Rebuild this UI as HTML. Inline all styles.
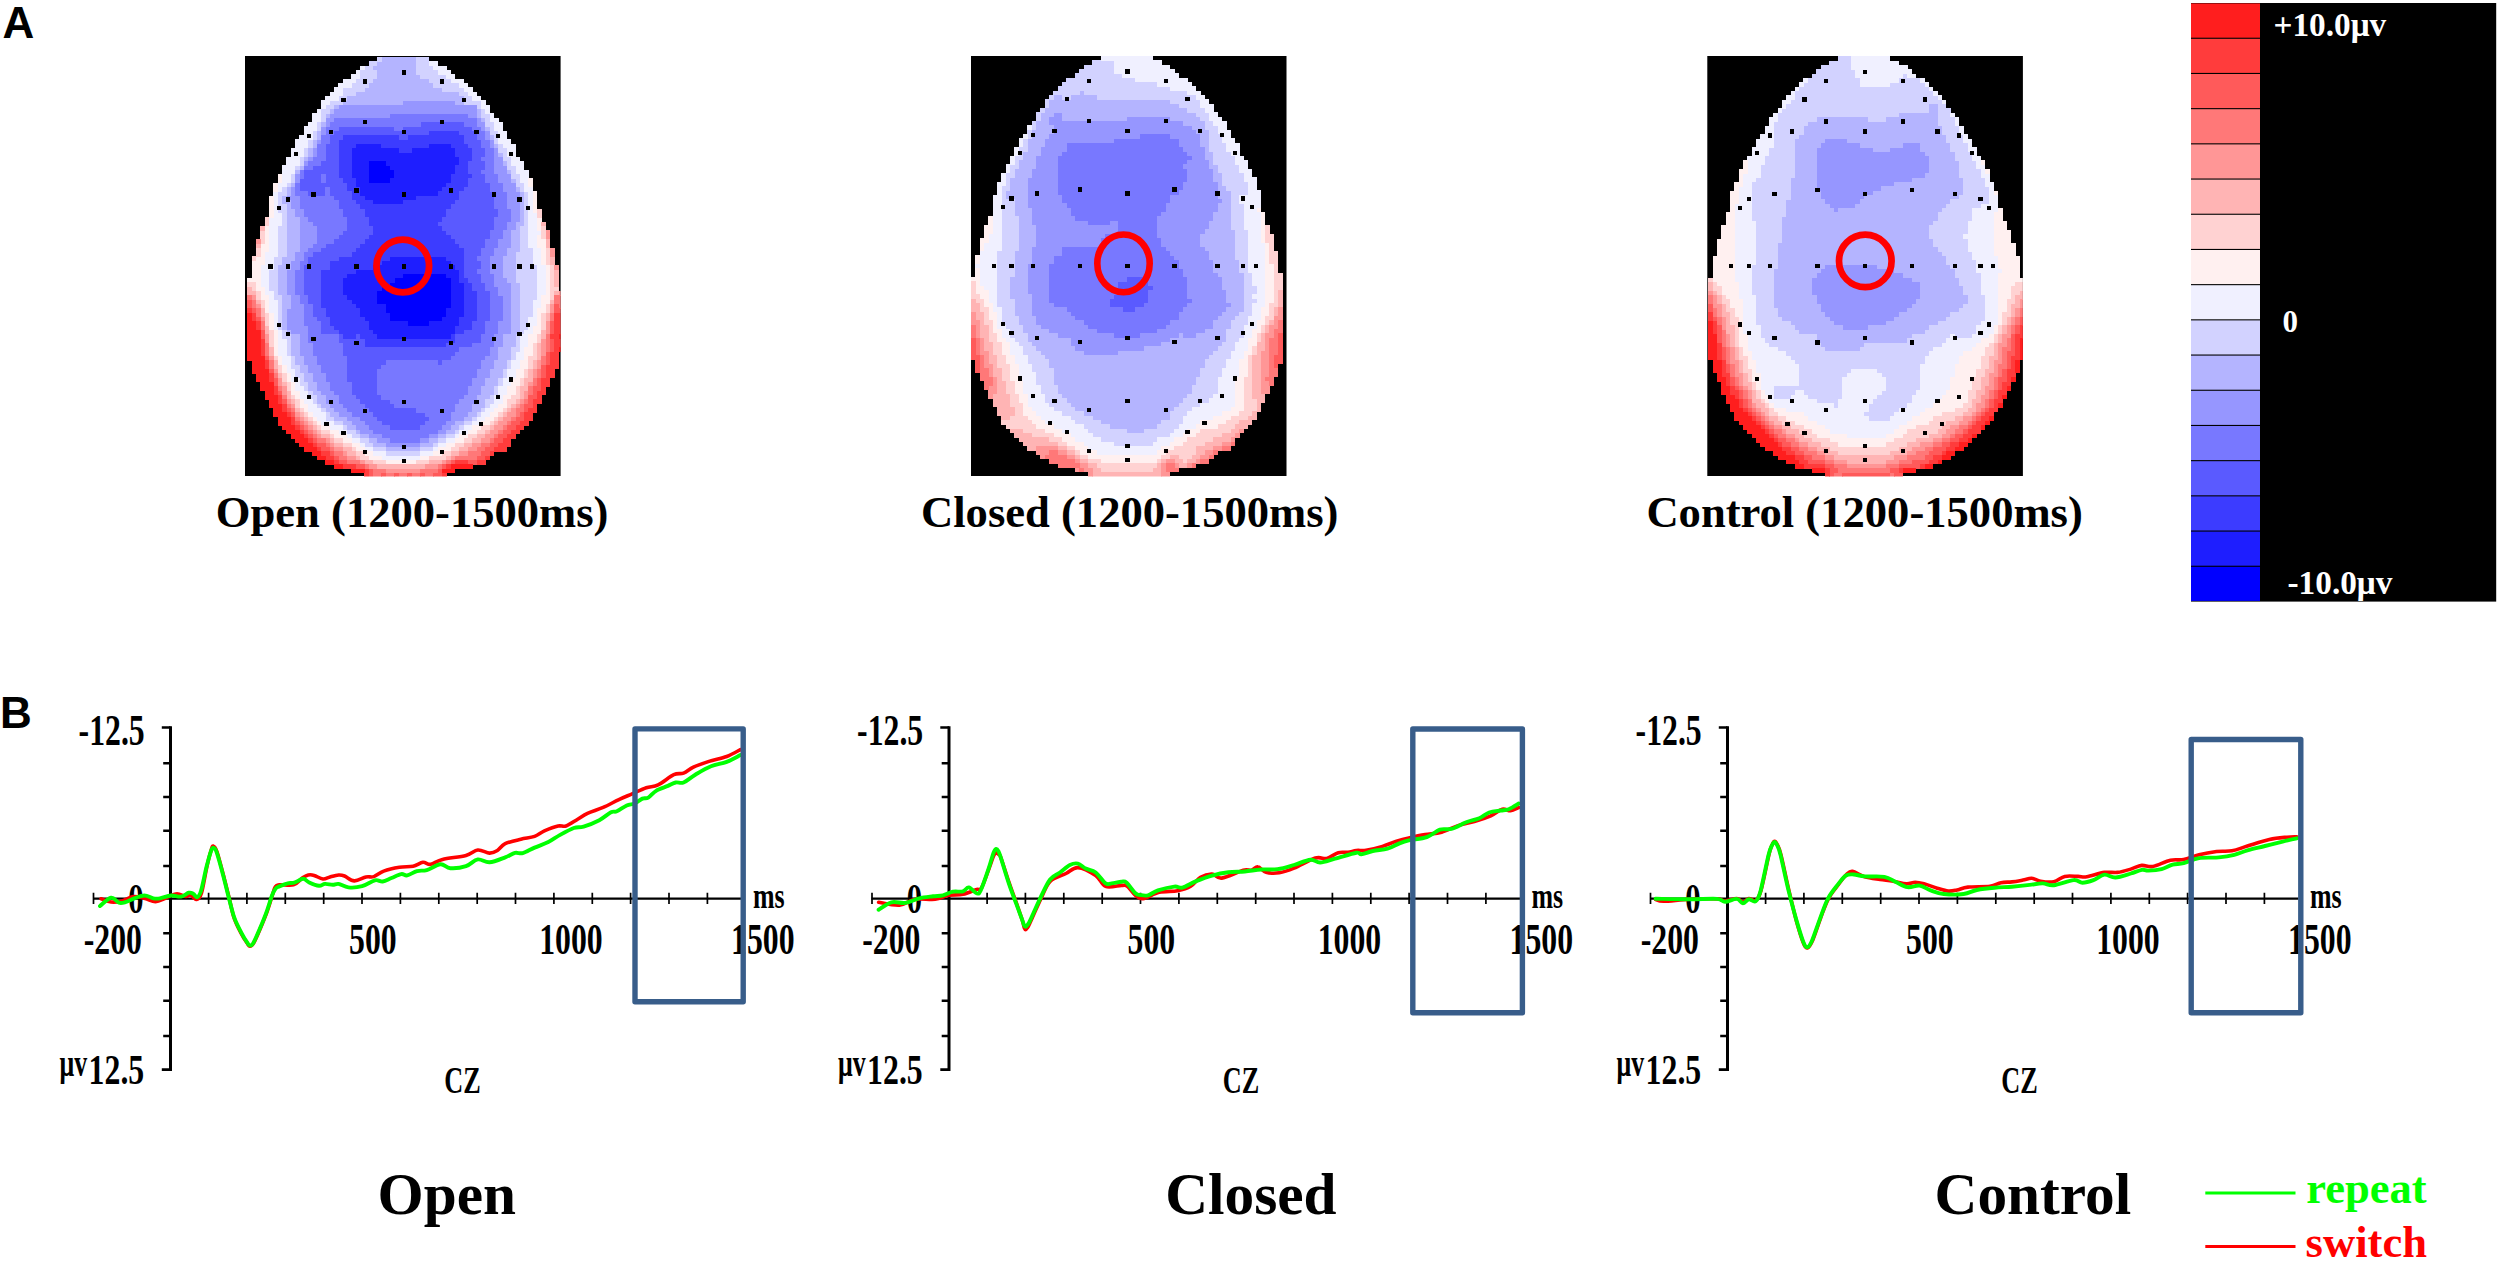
<!DOCTYPE html>
<html lang="en"><head><meta charset="utf-8"><title>Figure</title>
<style>html,body{margin:0;padding:0;background:#fff}svg{display:block}.s{font-family:"Liberation Serif", serif;font-weight:bold}.a{font-family:"Liberation Sans", sans-serif;font-weight:bold}</style></head><body>
<svg width="2500" height="1261" viewBox="0 0 2500 1261">
<rect width="2500" height="1261" fill="#fff"/>
<text class="a" x="2.6" y="38.4" font-size="44">A</text>
<text class="a" x="0" y="728.3" font-size="44">B</text>
<clipPath id="mc0"><rect width="315.6" height="420.6"/></clipPath>
<g transform="translate(245.0,55.8)" shape-rendering="crispEdges" clip-path="url(#mc0)">
<rect width="315.6" height="420.6" fill="#000"/>
<path fill="#0000ff" d="M123.5 105.1H141.1V109.7H123.5zM123.5 109.4H145.4V114.1H123.5zM123.5 113.8H149.7V118.4H123.5zM123.5 118.1H149.7V122.7H123.5zM123.5 122.4H145.4V127.1H123.5zM158.1 217.8H201.6V222.5H158.1zM149.4 222.2H205.9V226.8H149.4zM145.1 226.5H205.9V231.1H145.1zM136.4 230.8H205.9V235.5H136.4zM132.1 235.2H205.9V239.8H132.1zM132.1 239.5H205.9V244.2H132.1zM132.1 243.9H205.9V248.5H132.1zM140.8 248.2H205.9V252.8H140.8zM140.8 252.5H201.6V257.2H140.8zM145.1 256.9H201.6V261.5H145.1zM145.1 261.2H197.3V265.8H145.1zM162.4 265.5H184.3V270.2H162.4z"/>
<path fill="#1e1eff" d="M110.5 87.8H136.7V92.4H110.5zM184.0 87.8H205.9V92.4H184.0zM106.2 92.1H154.0V96.7H106.2zM166.7 92.1H210.2V96.7H166.7zM106.2 96.4H210.2V101.1H106.2zM106.2 100.8H214.6V105.4H106.2zM106.2 105.1H123.8V109.7H106.2zM140.8 105.1H214.6V109.7H140.8zM106.2 109.4H123.8V114.1H106.2zM145.1 109.4H210.2V114.1H145.1zM106.2 113.8H123.8V118.4H106.2zM149.4 113.8H210.2V118.4H149.4zM106.2 118.1H123.8V122.7H106.2zM149.4 118.1H205.9V122.7H149.4zM110.5 122.4H123.8V127.1H110.5zM145.1 122.4H205.9V127.1H145.1zM110.5 126.8H201.6V131.4H110.5zM114.8 131.1H197.3V135.8H114.8zM114.8 135.5H192.9V140.1H114.8zM119.2 139.8H171.3V144.4H119.2zM127.8 144.1H158.4V148.8H127.8zM145.1 200.5H201.6V205.1H145.1zM136.4 204.8H205.9V209.5H136.4zM127.8 209.2H210.2V213.8H127.8zM110.5 213.5H214.6V218.1H110.5zM101.9 217.8H158.4V222.5H101.9zM201.3 217.8H214.6V222.5H201.3zM97.5 222.2H149.7V226.8H97.5zM205.6 222.2H214.6V226.8H205.6zM97.5 226.5H145.4V231.1H97.5zM205.6 226.5H218.9V231.1H205.6zM97.5 230.8H136.7V235.5H97.5zM205.6 230.8H218.9V235.5H205.6zM97.5 235.2H132.4V239.8H97.5zM205.6 235.2H218.9V239.8H205.6zM101.9 239.5H132.4V244.2H101.9zM205.6 239.5H218.9V244.2H205.6zM106.2 243.9H132.4V248.5H106.2zM205.6 243.9H218.9V248.5H205.6zM110.5 248.2H141.1V252.8H110.5zM205.6 248.2H218.9V252.8H205.6zM114.8 252.5H141.1V257.2H114.8zM201.3 252.5H218.9V257.2H201.3zM114.8 256.9H145.4V261.5H114.8zM201.3 256.9H218.9V261.5H201.3zM119.2 261.2H145.4V265.8H119.2zM197.0 261.2H214.6V265.8H197.0zM123.5 265.5H162.7V270.2H123.5zM184.0 265.5H214.6V270.2H184.0zM123.5 269.9H210.2V274.5H123.5zM127.8 274.2H210.2V278.8H127.8zM132.1 278.5H205.9V283.2H132.1z"/>
<path fill="#3c3cff" d="M184.0 74.7H214.6V79.4H184.0zM97.5 79.1H154.0V83.7H97.5zM162.4 79.1H218.9V83.7H162.4zM93.2 83.4H218.9V88.1H93.2zM93.2 87.8H110.8V92.4H93.2zM136.4 87.8H184.3V92.4H136.4zM205.6 87.8H223.2V92.4H205.6zM93.2 92.1H106.5V96.7H93.2zM153.7 92.1H167.0V96.7H153.7zM209.9 92.1H227.5V96.7H209.9zM93.2 96.4H106.5V101.1H93.2zM209.9 96.4H227.5V101.1H209.9zM93.2 100.8H106.5V105.4H93.2zM214.3 100.8H227.5V105.4H214.3zM93.2 105.1H106.5V109.7H93.2zM214.3 105.1H223.2V109.7H214.3zM93.2 109.4H106.5V114.1H93.2zM209.9 109.4H223.2V114.1H209.9zM93.2 113.8H106.5V118.4H93.2zM209.9 113.8H223.2V118.4H209.9zM93.2 118.1H106.5V122.7H93.2zM205.6 118.1H227.5V122.7H205.6zM97.5 122.4H110.8V127.1H97.5zM205.6 122.4H223.2V127.1H205.6zM101.9 126.8H110.8V131.4H101.9zM201.3 126.8H223.2V131.4H201.3zM101.9 131.1H115.1V135.8H101.9zM197.0 131.1H218.9V135.8H197.0zM106.2 135.5H115.1V140.1H106.2zM192.6 135.5H214.6V140.1H192.6zM106.2 139.8H119.5V144.4H106.2zM171.0 139.8H214.6V144.4H171.0zM110.5 144.1H128.1V148.8H110.5zM158.1 144.1H210.2V148.8H158.1zM114.8 148.5H205.9V153.1H114.8zM119.2 152.8H201.6V157.4H119.2zM119.2 157.1H201.6V161.8H119.2zM123.5 161.5H197.3V166.1H123.5zM123.5 165.8H192.9V170.4H123.5zM127.8 170.1H197.3V174.8H127.8zM127.8 174.5H201.6V179.1H127.8zM123.5 178.8H205.9V183.5H123.5zM119.2 183.2H210.2V187.8H119.2zM114.8 187.5H214.6V192.1H114.8zM110.5 191.8H218.9V196.5H110.5zM106.2 196.2H218.9V200.8H106.2zM93.2 200.5H145.4V205.1H93.2zM201.3 200.5H218.9V205.1H201.3zM84.6 204.8H136.7V209.5H84.6zM205.6 204.8H218.9V209.5H205.6zM84.6 209.2H128.1V213.8H84.6zM209.9 209.2H218.9V213.8H209.9zM75.9 213.5H110.8V218.1H75.9zM214.3 213.5H218.9V218.1H214.3zM75.9 217.8H102.2V222.5H75.9zM214.3 217.8H218.9V222.5H214.3zM75.9 222.2H97.8V226.8H75.9zM214.3 222.2H223.2V226.8H214.3zM75.9 226.5H97.8V231.1H75.9zM218.6 226.5H227.5V231.1H218.6zM75.9 230.8H97.8V235.5H75.9zM218.6 230.8H227.5V235.5H218.6zM75.9 235.2H97.8V239.8H75.9zM218.6 235.2H231.9V239.8H218.6zM75.9 239.5H102.2V244.2H75.9zM218.6 239.5H231.9V244.2H218.6zM75.9 243.9H106.5V248.5H75.9zM218.6 243.9H231.9V248.5H218.6zM75.9 248.2H110.8V252.8H75.9zM218.6 248.2H231.9V252.8H218.6zM80.2 252.5H115.1V257.2H80.2zM218.6 252.5H231.9V257.2H218.6zM80.2 256.9H115.1V261.5H80.2zM218.6 256.9H231.9V261.5H218.6zM84.6 261.2H119.5V265.8H84.6zM214.3 261.2H231.9V265.8H214.3zM84.6 265.5H123.8V270.2H84.6zM214.3 265.5H227.5V270.2H214.3zM88.9 269.9H123.8V274.5H88.9zM209.9 269.9H227.5V274.5H209.9zM93.2 274.2H128.1V278.8H93.2zM209.9 274.2H218.9V278.8H209.9zM97.5 278.5H110.8V283.2H97.5zM114.8 278.5H132.4V283.2H114.8zM205.6 278.5H210.2V283.2H205.6zM119.2 282.9H210.2V287.5H119.2zM119.2 287.2H201.6V291.9H119.2z"/>
<path fill="#5a5aff" d="M175.4 66.1H218.9V70.7H175.4zM93.2 70.4H149.7V75.0H93.2zM158.1 70.4H227.5V75.0H158.1zM88.9 74.7H184.3V79.4H88.9zM214.3 74.7H231.9V79.4H214.3zM84.6 79.1H97.8V83.7H84.6zM153.7 79.1H162.7V83.7H153.7zM218.6 79.1H231.9V83.7H218.6zM84.6 83.4H93.5V88.1H84.6zM218.6 83.4H236.2V88.1H218.6zM80.2 87.8H93.5V92.4H80.2zM222.9 87.8H236.2V92.4H222.9zM80.2 92.1H93.5V96.7H80.2zM227.2 92.1H240.5V96.7H227.2zM80.2 96.4H93.5V101.1H80.2zM227.2 96.4H240.5V101.1H227.2zM80.2 100.8H93.5V105.4H80.2zM227.2 100.8H236.2V105.4H227.2zM75.9 105.1H93.5V109.7H75.9zM222.9 105.1H240.5V109.7H222.9zM67.3 109.4H93.5V114.1H67.3zM222.9 109.4H240.5V114.1H222.9zM58.6 113.8H93.5V118.4H58.6zM222.9 113.8H236.2V118.4H222.9zM58.6 118.1H76.2V122.7H58.6zM80.2 118.1H93.5V122.7H80.2zM227.2 118.1H240.5V122.7H227.2zM54.3 122.4H76.2V127.1H54.3zM80.2 122.4H97.8V127.1H80.2zM222.9 122.4H240.5V127.1H222.9zM54.3 126.8H102.2V131.4H54.3zM222.9 126.8H244.8V131.4H222.9zM54.3 131.1H80.5V135.8H54.3zM84.6 131.1H102.2V135.8H84.6zM218.6 131.1H244.8V135.8H218.6zM62.9 135.5H80.5V140.1H62.9zM84.6 135.5H106.5V140.1H84.6zM214.3 135.5H249.2V140.1H214.3zM88.9 139.8H106.5V144.4H88.9zM214.3 139.8H249.2V144.4H214.3zM93.2 144.1H110.8V148.8H93.2zM209.9 144.1H249.2V148.8H209.9zM93.2 148.5H115.1V153.1H93.2zM205.6 148.5H249.2V153.1H205.6zM97.5 152.8H119.5V157.4H97.5zM201.3 152.8H253.5V157.4H201.3zM97.5 157.1H119.5V161.8H97.5zM201.3 157.1H253.5V161.8H201.3zM101.9 161.5H123.8V166.1H101.9zM197.0 161.5H249.2V166.1H197.0zM101.9 165.8H123.8V170.4H101.9zM192.6 165.8H249.2V170.4H192.6zM101.9 170.1H128.1V174.8H101.9zM197.0 170.1H249.2V174.8H197.0zM97.5 174.5H128.1V179.1H97.5zM201.3 174.5H244.8V179.1H201.3zM93.2 178.8H123.8V183.5H93.2zM205.6 178.8H244.8V183.5H205.6zM88.9 183.2H119.5V187.8H88.9zM209.9 183.2H240.5V187.8H209.9zM80.2 187.5H115.1V192.1H80.2zM214.3 187.5H240.5V192.1H214.3zM75.9 191.8H110.8V196.5H75.9zM218.6 191.8H236.2V196.5H218.6zM67.3 196.2H106.5V200.8H67.3zM218.6 196.2H236.2V200.8H218.6zM62.9 200.5H93.5V205.1H62.9zM218.6 200.5H231.9V205.1H218.6zM62.9 204.8H84.9V209.5H62.9zM218.6 204.8H236.2V209.5H218.6zM58.6 209.2H84.9V213.8H58.6zM218.6 209.2H236.2V213.8H218.6zM58.6 213.5H76.2V218.1H58.6zM218.6 213.5H231.9V218.1H218.6zM58.6 217.8H76.2V222.5H58.6zM218.6 217.8H236.2V222.5H218.6zM58.6 222.2H76.2V226.8H58.6zM222.9 222.2H236.2V226.8H222.9zM58.6 226.5H76.2V231.1H58.6zM227.2 226.5H240.5V231.1H227.2zM58.6 230.8H76.2V235.5H58.6zM227.2 230.8H240.5V235.5H227.2zM58.6 235.2H76.2V239.8H58.6zM231.6 235.2H244.8V239.8H231.6zM62.9 239.5H76.2V244.2H62.9zM231.6 239.5H244.8V244.2H231.6zM62.9 243.9H76.2V248.5H62.9zM231.6 243.9H244.8V248.5H231.6zM67.3 248.2H76.2V252.8H67.3zM231.6 248.2H244.8V252.8H231.6zM67.3 252.5H80.5V257.2H67.3zM231.6 252.5H244.8V257.2H231.6zM67.3 256.9H80.5V261.5H67.3zM231.6 256.9H244.8V261.5H231.6zM71.6 261.2H84.9V265.8H71.6zM231.6 261.2H244.8V265.8H231.6zM75.9 265.5H84.9V270.2H75.9zM227.2 265.5H240.5V270.2H227.2zM75.9 269.9H89.2V274.5H75.9zM227.2 269.9H240.5V274.5H227.2zM75.9 274.2H93.5V278.8H75.9zM218.6 274.2H240.5V278.8H218.6zM93.2 278.5H97.8V283.2H93.2zM110.5 278.5H115.1V283.2H110.5zM209.9 278.5H236.2V283.2H209.9zM93.2 282.9H119.5V287.5H93.2zM209.9 282.9H236.2V287.5H209.9zM97.5 287.2H119.5V291.9H97.5zM201.3 287.2H227.5V291.9H201.3zM97.5 291.6H214.6V296.2H97.5zM97.5 295.9H210.2V300.5H97.5zM101.9 300.2H205.9V304.9H101.9zM101.9 304.6H141.1V309.2H101.9zM192.6 304.6H197.3V309.2H192.6zM101.9 308.9H136.7V313.5H101.9zM101.9 313.2H132.4V317.9H101.9zM101.9 317.6H132.4V322.2H101.9zM101.9 321.9H132.4V326.5H101.9zM106.2 326.2H132.4V330.9H106.2zM106.2 330.6H132.4V335.2H106.2zM106.2 334.9H132.4V339.6H106.2zM110.5 339.3H136.7V343.9H110.5zM114.8 343.6H145.4V348.2H114.8zM119.2 347.9H149.7V352.6H119.2zM123.5 352.3H171.3V356.9H123.5zM127.8 356.6H180.0V361.2H127.8zM132.1 360.9H184.3V365.6H132.1zM136.4 365.3H180.0V369.9H136.4zM145.1 369.6H175.7V374.2H145.1z"/>
<path fill="#7878ff" d="M145.1 57.4H223.2V62.0H145.1zM88.9 61.7H231.9V66.4H88.9zM84.6 66.1H175.7V70.7H84.6zM218.6 66.1H231.9V70.7H218.6zM80.2 70.4H93.5V75.0H80.2zM149.4 70.4H158.4V75.0H149.4zM227.2 70.4H236.2V75.0H227.2zM80.2 74.7H89.2V79.4H80.2zM231.6 74.7H240.5V79.4H231.6zM75.9 79.1H84.9V83.7H75.9zM231.6 79.1H240.5V83.7H231.6zM75.9 83.4H84.9V88.1H75.9zM235.9 83.4H244.8V88.1H235.9zM71.6 87.8H80.5V92.4H71.6zM235.9 87.8H244.8V92.4H235.9zM71.6 92.1H80.5V96.7H71.6zM240.2 92.1H249.2V96.7H240.2zM71.6 96.4H80.5V101.1H71.6zM240.2 96.4H249.2V101.1H240.2zM67.3 100.8H80.5V105.4H67.3zM235.9 100.8H249.2V105.4H235.9zM62.9 105.1H76.2V109.7H62.9zM240.2 105.1H249.2V109.7H240.2zM58.6 109.4H67.6V114.1H58.6zM240.2 109.4H249.2V114.1H240.2zM54.3 113.8H58.9V118.4H54.3zM235.9 113.8H249.2V118.4H235.9zM54.3 118.1H58.9V122.7H54.3zM75.9 118.1H80.5V122.7H75.9zM240.2 118.1H253.5V122.7H240.2zM75.9 122.4H80.5V127.1H75.9zM240.2 122.4H253.5V127.1H240.2zM50.0 126.8H54.6V131.4H50.0zM244.5 126.8H257.8V131.4H244.5zM50.0 131.1H54.6V135.8H50.0zM80.2 131.1H84.9V135.8H80.2zM244.5 131.1H257.8V135.8H244.5zM50.0 135.5H63.2V140.1H50.0zM80.2 135.5H84.9V140.1H80.2zM248.9 135.5H262.1V140.1H248.9zM54.3 139.8H89.2V144.4H54.3zM248.9 139.8H262.1V144.4H248.9zM54.3 144.1H93.5V148.8H54.3zM248.9 144.1H262.1V148.8H248.9zM54.3 148.5H93.5V153.1H54.3zM248.9 148.5H262.1V153.1H248.9zM58.6 152.8H97.8V157.4H58.6zM253.2 152.8H266.4V157.4H253.2zM58.6 157.1H97.8V161.8H58.6zM253.2 157.1H266.4V161.8H253.2zM62.9 161.5H102.2V166.1H62.9zM248.9 161.5H266.4V166.1H248.9zM67.3 165.8H102.2V170.4H67.3zM248.9 165.8H262.1V170.4H248.9zM71.6 170.1H102.2V174.8H71.6zM248.9 170.1H262.1V174.8H248.9zM71.6 174.5H97.8V179.1H71.6zM244.5 174.5H257.8V179.1H244.5zM71.6 178.8H93.5V183.5H71.6zM244.5 178.8H257.8V183.5H244.5zM71.6 183.2H89.2V187.8H71.6zM240.2 183.2H253.5V187.8H240.2zM67.3 187.5H80.5V192.1H67.3zM240.2 187.5H253.5V192.1H240.2zM62.9 191.8H76.2V196.5H62.9zM235.9 191.8H249.2V196.5H235.9zM58.6 196.2H67.6V200.8H58.6zM235.9 196.2H249.2V200.8H235.9zM58.6 200.5H63.2V205.1H58.6zM231.6 200.5H244.8V205.1H231.6zM54.3 204.8H63.2V209.5H54.3zM235.9 204.8H244.8V209.5H235.9zM54.3 209.2H58.9V213.8H54.3zM235.9 209.2H244.8V213.8H235.9zM50.0 213.5H58.9V218.1H50.0zM231.6 213.5H244.8V218.1H231.6zM50.0 217.8H58.9V222.5H50.0zM235.9 217.8H249.2V222.5H235.9zM50.0 222.2H58.9V226.8H50.0zM235.9 222.2H249.2V226.8H235.9zM50.0 226.5H58.9V231.1H50.0zM240.2 226.5H249.2V231.1H240.2zM50.0 230.8H58.9V235.5H50.0zM240.2 230.8H253.5V235.5H240.2zM50.0 235.2H58.9V239.8H50.0zM244.5 235.2H253.5V239.8H244.5zM54.3 239.5H63.2V244.2H54.3zM244.5 239.5H257.8V244.2H244.5zM54.3 243.9H63.2V248.5H54.3zM244.5 243.9H257.8V248.5H244.5zM58.6 248.2H67.6V252.8H58.6zM244.5 248.2H257.8V252.8H244.5zM58.6 252.5H67.6V257.2H58.6zM244.5 252.5H257.8V257.2H244.5zM58.6 256.9H67.6V261.5H58.6zM244.5 256.9H257.8V261.5H244.5zM58.6 261.2H71.9V265.8H58.6zM244.5 261.2H257.8V265.8H244.5zM58.6 265.5H76.2V270.2H58.6zM240.2 265.5H253.5V270.2H240.2zM62.9 269.9H76.2V274.5H62.9zM240.2 269.9H253.5V274.5H240.2zM62.9 274.2H76.2V278.8H62.9zM240.2 274.2H253.5V278.8H240.2zM62.9 278.5H93.5V283.2H62.9zM235.9 278.5H249.2V283.2H235.9zM62.9 282.9H93.5V287.5H62.9zM235.9 282.9H249.2V287.5H235.9zM67.3 287.2H97.8V291.9H67.3zM227.2 287.2H249.2V291.9H227.2zM67.3 291.6H97.8V296.2H67.3zM214.3 291.6H244.8V296.2H214.3zM67.3 295.9H97.8V300.5H67.3zM209.9 295.9H244.8V300.5H209.9zM71.6 300.2H102.2V304.9H71.6zM205.6 300.2H240.5V304.9H205.6zM71.6 304.6H102.2V309.2H71.6zM140.8 304.6H192.9V309.2H140.8zM197.0 304.6H236.2V309.2H197.0zM75.9 308.9H102.2V313.5H75.9zM136.4 308.9H236.2V313.5H136.4zM75.9 313.2H102.2V317.9H75.9zM132.1 313.2H231.9V317.9H132.1zM80.2 317.6H102.2V322.2H80.2zM132.1 317.6H231.9V322.2H132.1zM80.2 321.9H102.2V326.5H80.2zM132.1 321.9H227.5V326.5H132.1zM84.6 326.2H106.5V330.9H84.6zM132.1 326.2H227.5V330.9H132.1zM84.6 330.6H106.5V335.2H84.6zM132.1 330.6H223.2V335.2H132.1zM88.9 334.9H106.5V339.6H88.9zM132.1 334.9H223.2V339.6H132.1zM93.2 339.3H110.8V343.9H93.2zM136.4 339.3H218.9V343.9H136.4zM93.2 343.6H115.1V348.2H93.2zM145.1 343.6H214.6V348.2H145.1zM97.5 347.9H119.5V352.6H97.5zM149.4 347.9H210.2V352.6H149.4zM101.9 352.3H123.8V356.9H101.9zM171.0 352.3H210.2V356.9H171.0zM106.2 356.6H128.1V361.2H106.2zM179.7 356.6H205.9V361.2H179.7zM114.8 360.9H132.4V365.6H114.8zM184.0 360.9H205.9V365.6H184.0zM119.2 365.3H136.7V369.9H119.2zM179.7 365.3H201.6V369.9H179.7zM123.5 369.6H145.4V374.2H123.5zM175.4 369.6H197.3V374.2H175.4zM127.8 373.9H192.9V378.6H127.8zM136.4 378.3H184.3V382.9H136.4zM145.1 382.6H175.7V387.2H145.1z"/>
<path fill="#9696ff" d="M158.1 44.4H210.2V49.0H158.1zM93.2 48.7H231.9V53.4H93.2zM88.9 53.1H231.9V57.7H88.9zM84.6 57.4H145.4V62.0H84.6zM222.9 57.4H231.9V62.0H222.9zM80.2 61.7H89.2V66.4H80.2zM231.6 61.7H236.2V66.4H231.6zM80.2 66.1H84.9V70.7H80.2zM231.6 66.1H240.5V70.7H231.6zM75.9 70.4H80.5V75.0H75.9zM235.9 70.4H240.5V75.0H235.9zM75.9 74.7H80.5V79.4H75.9zM240.2 74.7H244.8V79.4H240.2zM240.2 79.1H244.8V83.7H240.2zM71.6 83.4H76.2V88.1H71.6zM244.5 83.4H249.2V88.1H244.5zM244.5 87.8H249.2V92.4H244.5zM67.3 92.1H71.9V96.7H67.3zM248.9 92.1H253.5V96.7H248.9zM67.3 96.4H71.9V101.1H67.3zM248.9 96.4H253.5V101.1H248.9zM62.9 100.8H67.6V105.4H62.9zM248.9 100.8H257.8V105.4H248.9zM58.6 105.1H63.2V109.7H58.6zM248.9 105.1H257.8V109.7H248.9zM248.9 109.4H262.1V114.1H248.9zM248.9 113.8H262.1V118.4H248.9zM50.0 118.1H54.6V122.7H50.0zM253.2 118.1H266.4V122.7H253.2zM50.0 122.4H54.6V127.1H50.0zM253.2 122.4H266.4V127.1H253.2zM257.5 126.8H270.8V131.4H257.5zM45.7 131.1H50.3V135.8H45.7zM257.5 131.1H270.8V135.8H257.5zM45.7 135.5H50.3V140.1H45.7zM261.8 135.5H275.1V140.1H261.8zM41.3 139.8H54.6V144.4H41.3zM261.8 139.8H275.1V144.4H261.8zM45.7 144.1H54.6V148.8H45.7zM261.8 144.1H275.1V148.8H261.8zM45.7 148.5H54.6V153.1H45.7zM261.8 148.5H275.1V153.1H261.8zM50.0 152.8H58.9V157.4H50.0zM266.1 152.8H275.1V157.4H266.1zM50.0 157.1H58.9V161.8H50.0zM266.1 157.1H275.1V161.8H266.1zM54.3 161.5H63.2V166.1H54.3zM266.1 161.5H275.1V166.1H266.1zM54.3 165.8H67.6V170.4H54.3zM261.8 165.8H270.8V170.4H261.8zM54.3 170.1H71.9V174.8H54.3zM261.8 170.1H270.8V174.8H261.8zM54.3 174.5H71.9V179.1H54.3zM257.5 174.5H266.4V179.1H257.5zM54.3 178.8H71.9V183.5H54.3zM257.5 178.8H266.4V183.5H257.5zM54.3 183.2H71.9V187.8H54.3zM253.2 183.2H266.4V187.8H253.2zM54.3 187.5H67.6V192.1H54.3zM253.2 187.5H266.4V192.1H253.2zM54.3 191.8H63.2V196.5H54.3zM248.9 191.8H262.1V196.5H248.9zM50.0 196.2H58.9V200.8H50.0zM248.9 196.2H262.1V200.8H248.9zM50.0 200.5H58.9V205.1H50.0zM244.5 200.5H257.8V205.1H244.5zM45.7 204.8H54.6V209.5H45.7zM244.5 204.8H257.8V209.5H244.5zM45.7 209.2H54.6V213.8H45.7zM244.5 209.2H257.8V213.8H244.5zM41.3 213.5H50.3V218.1H41.3zM244.5 213.5H257.8V218.1H244.5zM41.3 217.8H50.3V222.5H41.3zM248.9 217.8H257.8V222.5H248.9zM41.3 222.2H50.3V226.8H41.3zM248.9 222.2H262.1V226.8H248.9zM41.3 226.5H50.3V231.1H41.3zM248.9 226.5H266.4V231.1H248.9zM41.3 230.8H50.3V235.5H41.3zM253.2 230.8H266.4V235.5H253.2zM41.3 235.2H50.3V239.8H41.3zM253.2 235.2H266.4V239.8H253.2zM45.7 239.5H54.6V244.2H45.7zM257.5 239.5H266.4V244.2H257.5zM45.7 243.9H54.6V248.5H45.7zM257.5 243.9H266.4V248.5H257.5zM45.7 248.2H58.9V252.8H45.7zM257.5 248.2H266.4V252.8H257.5zM41.3 252.5H58.9V257.2H41.3zM257.5 252.5H266.4V257.2H257.5zM41.3 256.9H58.9V261.5H41.3zM257.5 256.9H266.4V261.5H257.5zM41.3 261.2H58.9V265.8H41.3zM257.5 261.2H266.4V265.8H257.5zM41.3 265.5H58.9V270.2H41.3zM253.2 265.5H266.4V270.2H253.2zM41.3 269.9H63.2V274.5H41.3zM253.2 269.9H266.4V274.5H253.2zM45.7 274.2H63.2V278.8H45.7zM253.2 274.2H266.4V278.8H253.2zM54.3 278.5H63.2V283.2H54.3zM248.9 278.5H257.8V283.2H248.9zM54.3 282.9H63.2V287.5H54.3zM248.9 282.9H257.8V287.5H248.9zM54.3 287.2H67.6V291.9H54.3zM248.9 287.2H257.8V291.9H248.9zM54.3 291.6H67.6V296.2H54.3zM244.5 291.6H253.5V296.2H244.5zM54.3 295.9H67.6V300.5H54.3zM244.5 295.9H253.5V300.5H244.5zM58.6 300.2H71.9V304.9H58.6zM240.2 300.2H253.5V304.9H240.2zM58.6 304.6H71.9V309.2H58.6zM235.9 304.6H249.2V309.2H235.9zM62.9 308.9H76.2V313.5H62.9zM235.9 308.9H249.2V313.5H235.9zM62.9 313.2H76.2V317.9H62.9zM231.6 313.2H244.8V317.9H231.6zM67.3 317.6H80.5V322.2H67.3zM231.6 317.6H244.8V322.2H231.6zM67.3 321.9H80.5V326.5H67.3zM227.2 321.9H240.5V326.5H227.2zM71.6 326.2H84.9V330.9H71.6zM227.2 326.2H240.5V330.9H227.2zM71.6 330.6H84.9V335.2H71.6zM222.9 330.6H236.2V335.2H222.9zM75.9 334.9H89.2V339.6H75.9zM222.9 334.9H236.2V339.6H222.9zM80.2 339.3H93.5V343.9H80.2zM218.6 339.3H231.9V343.9H218.6zM80.2 343.6H93.5V348.2H80.2zM214.3 343.6H231.9V348.2H214.3zM84.6 347.9H97.8V352.6H84.6zM209.9 347.9H227.5V352.6H209.9zM88.9 352.3H102.2V356.9H88.9zM209.9 352.3H227.5V356.9H209.9zM93.2 356.6H106.5V361.2H93.2zM205.6 356.6H223.2V361.2H205.6zM101.9 360.9H115.1V365.6H101.9zM205.6 360.9H218.9V365.6H205.6zM106.2 365.3H119.5V369.9H106.2zM201.3 365.3H210.2V369.9H201.3zM110.5 369.6H123.8V374.2H110.5zM197.0 369.6H205.9V374.2H197.0zM114.8 373.9H128.1V378.6H114.8zM192.6 373.9H201.6V378.6H192.6zM123.5 378.3H136.7V382.9H123.5zM184.0 378.3H192.9V382.9H184.0zM132.1 382.6H145.4V387.2H132.1zM175.4 382.6H184.3V387.2H175.4zM140.8 386.9H175.7V391.6H140.8z"/>
<path fill="#b4b4ff" d="M136.4 1.0H171.3V5.7H136.4zM132.1 5.4H171.3V10.0H132.1zM127.8 9.7H171.3V14.3H127.8zM132.1 14.0H171.3V18.7H132.1zM132.1 18.4H175.7V23.0H132.1zM127.8 22.7H184.3V27.4H127.8zM123.5 27.1H188.6V31.7H123.5zM119.2 31.4H197.3V36.0H119.2zM110.5 35.7H214.6V40.4H110.5zM101.9 40.1H218.9V44.7H101.9zM97.5 44.4H158.4V49.0H97.5zM209.9 44.4H218.9V49.0H209.9zM88.9 48.7H93.5V53.4H88.9zM84.6 53.1H89.2V57.7H84.6zM231.6 53.1H236.2V57.7H231.6zM80.2 57.4H84.9V62.0H80.2zM231.6 57.4H236.2V62.0H231.6zM235.9 61.7H240.5V66.4H235.9zM75.9 66.1H80.5V70.7H75.9zM240.2 70.4H244.8V75.0H240.2zM71.6 74.7H76.2V79.4H71.6zM71.6 79.1H76.2V83.7H71.6zM244.5 79.1H249.2V83.7H244.5zM67.3 83.4H71.9V88.1H67.3zM67.3 87.8H71.9V92.4H67.3zM248.9 87.8H253.5V92.4H248.9zM62.9 92.1H67.6V96.7H62.9zM62.9 96.4H67.6V101.1H62.9zM253.2 96.4H257.8V101.1H253.2zM58.6 100.8H63.2V105.4H58.6zM257.5 105.1H262.1V109.7H257.5zM54.3 109.4H58.9V114.1H54.3zM50.0 113.8H54.6V118.4H50.0zM261.8 113.8H266.4V118.4H261.8zM266.1 122.4H270.8V127.1H266.1zM45.7 126.8H50.3V131.4H45.7zM41.3 131.1H46.0V135.8H41.3zM270.5 131.1H275.1V135.8H270.5zM41.3 135.5H46.0V140.1H41.3zM274.8 135.5H279.4V140.1H274.8zM37.0 139.8H41.6V144.4H37.0zM274.8 139.8H279.4V144.4H274.8zM37.0 144.1H46.0V148.8H37.0zM274.8 144.1H279.4V148.8H274.8zM41.3 148.5H46.0V153.1H41.3zM274.8 148.5H279.4V153.1H274.8zM41.3 152.8H50.3V157.4H41.3zM274.8 152.8H279.4V157.4H274.8zM41.3 157.1H50.3V161.8H41.3zM274.8 157.1H279.4V161.8H274.8zM41.3 161.5H54.6V166.1H41.3zM274.8 161.5H279.4V166.1H274.8zM41.3 165.8H54.6V170.4H41.3zM270.5 165.8H279.4V170.4H270.5zM41.3 170.1H54.6V174.8H41.3zM270.5 170.1H275.1V174.8H270.5zM41.3 174.5H54.6V179.1H41.3zM266.1 174.5H275.1V179.1H266.1zM41.3 178.8H54.6V183.5H41.3zM266.1 178.8H275.1V183.5H266.1zM41.3 183.2H54.6V187.8H41.3zM266.1 183.2H275.1V187.8H266.1zM41.3 187.5H54.6V192.1H41.3zM266.1 187.5H275.1V192.1H266.1zM41.3 191.8H54.6V196.5H41.3zM261.8 191.8H275.1V196.5H261.8zM41.3 196.2H50.3V200.8H41.3zM261.8 196.2H270.8V200.8H261.8zM37.0 200.5H50.3V205.1H37.0zM257.5 200.5H270.8V205.1H257.5zM37.0 204.8H46.0V209.5H37.0zM257.5 204.8H270.8V209.5H257.5zM32.7 209.2H46.0V213.8H32.7zM257.5 209.2H270.8V213.8H257.5zM32.7 213.5H41.6V218.1H32.7zM257.5 213.5H270.8V218.1H257.5zM32.7 217.8H41.6V222.5H32.7zM257.5 217.8H270.8V222.5H257.5zM32.7 222.2H41.6V226.8H32.7zM261.8 222.2H270.8V226.8H261.8zM32.7 226.5H41.6V231.1H32.7zM266.1 226.5H275.1V231.1H266.1zM32.7 230.8H41.6V235.5H32.7zM266.1 230.8H275.1V235.5H266.1zM32.7 235.2H41.6V239.8H32.7zM266.1 235.2H275.1V239.8H266.1zM37.0 239.5H46.0V244.2H37.0zM266.1 239.5H275.1V244.2H266.1zM37.0 243.9H46.0V248.5H37.0zM266.1 243.9H275.1V248.5H266.1zM37.0 248.2H46.0V252.8H37.0zM266.1 248.2H275.1V252.8H266.1zM37.0 252.5H41.6V257.2H37.0zM266.1 252.5H275.1V257.2H266.1zM37.0 256.9H41.6V261.5H37.0zM266.1 256.9H275.1V261.5H266.1zM37.0 261.2H41.6V265.8H37.0zM266.1 261.2H275.1V265.8H266.1zM37.0 265.5H41.6V270.2H37.0zM266.1 265.5H275.1V270.2H266.1zM37.0 269.9H41.6V274.5H37.0zM266.1 269.9H275.1V274.5H266.1zM41.3 274.2H46.0V278.8H41.3zM266.1 274.2H275.1V278.8H266.1zM45.7 278.5H54.6V283.2H45.7zM257.5 278.5H270.8V283.2H257.5zM45.7 282.9H54.6V287.5H45.7zM257.5 282.9H270.8V287.5H257.5zM45.7 287.2H54.6V291.9H45.7zM257.5 287.2H270.8V291.9H257.5zM45.7 291.6H54.6V296.2H45.7zM253.2 291.6H266.4V296.2H253.2zM45.7 295.9H54.6V300.5H45.7zM253.2 295.9H266.4V300.5H253.2zM50.0 300.2H58.9V304.9H50.0zM253.2 300.2H266.4V304.9H253.2zM50.0 304.6H58.9V309.2H50.0zM248.9 304.6H262.1V309.2H248.9zM54.3 308.9H63.2V313.5H54.3zM248.9 308.9H262.1V313.5H248.9zM54.3 313.2H63.2V317.9H54.3zM244.5 313.2H257.8V317.9H244.5zM58.6 317.6H67.6V322.2H58.6zM244.5 317.6H257.8V322.2H244.5zM58.6 321.9H67.6V326.5H58.6zM240.2 321.9H253.5V326.5H240.2zM62.9 326.2H71.9V330.9H62.9zM240.2 326.2H253.5V330.9H240.2zM62.9 330.6H71.9V335.2H62.9zM235.9 330.6H249.2V335.2H235.9zM67.3 334.9H76.2V339.6H67.3zM235.9 334.9H249.2V339.6H235.9zM71.6 339.3H80.5V343.9H71.6zM231.6 339.3H244.8V343.9H231.6zM71.6 343.6H80.5V348.2H71.6zM231.6 343.6H240.5V348.2H231.6zM75.9 347.9H84.9V352.6H75.9zM227.2 347.9H240.5V352.6H227.2zM80.2 352.3H89.2V356.9H80.2zM227.2 352.3H236.2V356.9H227.2zM84.6 356.6H93.5V361.2H84.6zM222.9 356.6H231.9V361.2H222.9zM88.9 360.9H102.2V365.6H88.9zM218.6 360.9H227.5V365.6H218.6zM97.5 365.3H106.5V369.9H97.5zM209.9 365.3H218.9V369.9H209.9zM101.9 369.6H110.8V374.2H101.9zM205.6 369.6H214.6V374.2H205.6zM110.5 373.9H115.1V378.6H110.5zM201.3 373.9H210.2V378.6H201.3zM114.8 378.3H123.8V382.9H114.8zM192.6 378.3H201.6V382.9H192.6zM123.5 382.6H132.4V387.2H123.5zM184.0 382.6H192.9V387.2H184.0zM127.8 386.9H141.1V391.6H127.8zM175.4 386.9H188.6V391.6H175.4zM140.8 391.3H175.7V395.9H140.8z"/>
<path fill="#d2d2ff" d="M132.1 1.0H136.7V5.7H132.1zM171.0 1.0H184.3V5.7H171.0zM123.5 5.4H132.4V10.0H123.5zM171.0 5.4H184.3V10.0H171.0zM119.2 9.7H128.1V14.3H119.2zM171.0 9.7H188.6V14.3H171.0zM114.8 14.0H132.4V18.7H114.8zM171.0 14.0H192.9V18.7H171.0zM114.8 18.4H132.4V23.0H114.8zM175.4 18.4H201.6V23.0H175.4zM110.5 22.7H128.1V27.4H110.5zM184.0 22.7H205.9V27.4H184.0zM106.2 27.1H123.8V31.7H106.2zM188.3 27.1H214.6V31.7H188.3zM97.5 31.4H119.5V36.0H97.5zM197.0 31.4H218.9V36.0H197.0zM97.5 35.7H110.8V40.4H97.5zM214.3 35.7H223.2V40.4H214.3zM93.2 40.1H102.2V44.7H93.2zM218.6 40.1H227.5V44.7H218.6zM84.6 44.4H97.8V49.0H84.6zM218.6 44.4H236.2V49.0H218.6zM80.2 48.7H89.2V53.4H80.2zM231.6 48.7H236.2V53.4H231.6zM75.9 53.1H84.9V57.7H75.9zM235.9 53.1H240.5V57.7H235.9zM75.9 57.4H80.5V62.0H75.9zM235.9 57.4H244.8V62.0H235.9zM75.9 61.7H80.5V66.4H75.9zM240.2 61.7H244.8V66.4H240.2zM71.6 66.1H76.2V70.7H71.6zM240.2 66.1H249.2V70.7H240.2zM71.6 70.4H76.2V75.0H71.6zM244.5 70.4H249.2V75.0H244.5zM67.3 74.7H71.9V79.4H67.3zM244.5 74.7H253.5V79.4H244.5zM67.3 79.1H71.9V83.7H67.3zM248.9 79.1H253.5V83.7H248.9zM62.9 83.4H67.6V88.1H62.9zM248.9 83.4H253.5V88.1H248.9zM62.9 87.8H67.6V92.4H62.9zM253.2 87.8H257.8V92.4H253.2zM58.6 92.1H63.2V96.7H58.6zM253.2 92.1H262.1V96.7H253.2zM58.6 96.4H63.2V101.1H58.6zM257.5 96.4H262.1V101.1H257.5zM54.3 100.8H58.9V105.4H54.3zM257.5 100.8H266.4V105.4H257.5zM54.3 105.1H58.9V109.7H54.3zM261.8 105.1H266.4V109.7H261.8zM50.0 109.4H54.6V114.1H50.0zM261.8 109.4H270.8V114.1H261.8zM266.1 113.8H270.8V118.4H266.1zM45.7 118.1H50.3V122.7H45.7zM266.1 118.1H275.1V122.7H266.1zM45.7 122.4H50.3V127.1H45.7zM270.5 122.4H275.1V127.1H270.5zM41.3 126.8H46.0V131.4H41.3zM270.5 126.8H279.4V131.4H270.5zM37.0 131.1H41.6V135.8H37.0zM274.8 131.1H279.4V135.8H274.8zM32.7 135.5H41.6V140.1H32.7zM279.1 135.5H283.7V140.1H279.1zM32.7 139.8H37.3V144.4H32.7zM279.1 139.8H283.7V144.4H279.1zM32.7 144.1H37.3V148.8H32.7zM279.1 144.1H283.7V148.8H279.1zM32.7 148.5H41.6V153.1H32.7zM279.1 148.5H283.7V153.1H279.1zM32.7 152.8H41.6V157.4H32.7zM279.1 152.8H283.7V157.4H279.1zM37.0 157.1H41.6V161.8H37.0zM279.1 157.1H283.7V161.8H279.1zM37.0 161.5H41.6V166.1H37.0zM279.1 161.5H283.7V166.1H279.1zM37.0 165.8H41.6V170.4H37.0zM279.1 165.8H283.7V170.4H279.1zM32.7 170.1H41.6V174.8H32.7zM274.8 170.1H283.7V174.8H274.8zM32.7 174.5H41.6V179.1H32.7zM274.8 174.5H283.7V179.1H274.8zM32.7 178.8H41.6V183.5H32.7zM274.8 178.8H283.7V183.5H274.8zM32.7 183.2H41.6V187.8H32.7zM274.8 183.2H283.7V187.8H274.8zM32.7 187.5H41.6V192.1H32.7zM274.8 187.5H283.7V192.1H274.8zM32.7 191.8H41.6V196.5H32.7zM274.8 191.8H288.1V196.5H274.8zM32.7 196.2H41.6V200.8H32.7zM270.5 196.2H288.1V200.8H270.5zM28.4 200.5H37.3V205.1H28.4zM270.5 200.5H288.1V205.1H270.5zM28.4 204.8H37.3V209.5H28.4zM270.5 204.8H288.1V209.5H270.5zM28.4 209.2H33.0V213.8H28.4zM270.5 209.2H292.4V213.8H270.5zM24.0 213.5H33.0V218.1H24.0zM270.5 213.5H292.4V218.1H270.5zM24.0 217.8H33.0V222.5H24.0zM270.5 217.8H292.4V222.5H270.5zM24.0 222.2H33.0V226.8H24.0zM270.5 222.2H292.4V226.8H270.5zM24.0 226.5H33.0V231.1H24.0zM274.8 226.5H292.4V231.1H274.8zM24.0 230.8H33.0V235.5H24.0zM274.8 230.8H292.4V235.5H274.8zM28.4 235.2H33.0V239.8H28.4zM274.8 235.2H292.4V239.8H274.8zM28.4 239.5H37.3V244.2H28.4zM274.8 239.5H292.4V244.2H274.8zM32.7 243.9H37.3V248.5H32.7zM274.8 243.9H288.1V248.5H274.8zM32.7 248.2H37.3V252.8H32.7zM274.8 248.2H288.1V252.8H274.8zM32.7 252.5H37.3V257.2H32.7zM274.8 252.5H288.1V257.2H274.8zM32.7 256.9H37.3V261.5H32.7zM274.8 256.9H288.1V261.5H274.8zM32.7 261.2H37.3V265.8H32.7zM274.8 261.2H283.7V265.8H274.8zM32.7 265.5H37.3V270.2H32.7zM274.8 265.5H283.7V270.2H274.8zM32.7 269.9H37.3V274.5H32.7zM274.8 269.9H283.7V274.5H274.8zM37.0 274.2H41.6V278.8H37.0zM274.8 274.2H279.4V278.8H274.8zM37.0 278.5H46.0V283.2H37.0zM270.5 278.5H275.1V283.2H270.5zM41.3 282.9H46.0V287.5H41.3zM270.5 282.9H275.1V287.5H270.5zM41.3 287.2H46.0V291.9H41.3zM270.5 287.2H275.1V291.9H270.5zM41.3 291.6H46.0V296.2H41.3zM266.1 291.6H275.1V296.2H266.1zM41.3 295.9H46.0V300.5H41.3zM266.1 295.9H270.8V300.5H266.1zM45.7 300.2H50.3V304.9H45.7zM266.1 300.2H270.8V304.9H266.1zM45.7 304.6H50.3V309.2H45.7zM261.8 304.6H266.4V309.2H261.8zM45.7 308.9H54.6V313.5H45.7zM261.8 308.9H266.4V313.5H261.8zM50.0 313.2H54.6V317.9H50.0zM257.5 313.2H262.1V317.9H257.5zM50.0 317.6H58.9V322.2H50.0zM257.5 317.6H262.1V322.2H257.5zM54.3 321.9H58.9V326.5H54.3zM253.2 321.9H257.8V326.5H253.2zM54.3 326.2H63.2V330.9H54.3zM253.2 326.2H257.8V330.9H253.2zM58.6 330.6H63.2V335.2H58.6zM248.9 330.6H253.5V335.2H248.9zM62.9 334.9H67.6V339.6H62.9zM248.9 334.9H253.5V339.6H248.9zM62.9 339.3H71.9V343.9H62.9zM244.5 339.3H249.2V343.9H244.5zM67.3 343.6H71.9V348.2H67.3zM240.2 343.6H249.2V348.2H240.2zM71.6 347.9H76.2V352.6H71.6zM240.2 347.9H244.8V352.6H240.2zM75.9 352.3H80.5V356.9H75.9zM235.9 352.3H240.5V356.9H235.9zM80.2 356.6H84.9V361.2H80.2zM231.6 356.6H236.2V361.2H231.6zM80.2 360.9H89.2V365.6H80.2zM227.2 360.9H231.9V365.6H227.2zM88.9 365.3H97.8V369.9H88.9zM218.6 365.3H227.5V369.9H218.6zM97.5 369.6H102.2V374.2H97.5zM214.3 369.6H218.9V374.2H214.3zM101.9 373.9H110.8V378.6H101.9zM209.9 373.9H214.6V378.6H209.9zM106.2 378.3H115.1V382.9H106.2zM201.3 378.3H210.2V382.9H201.3zM114.8 382.6H123.8V387.2H114.8zM192.6 382.6H201.6V387.2H192.6zM119.2 386.9H128.1V391.6H119.2zM188.3 386.9H192.9V391.6H188.3zM127.8 391.3H141.1V395.9H127.8zM175.4 391.3H188.6V395.9H175.4zM140.8 395.6H175.7V400.3H140.8z"/>
<path fill="#f0f0ff" d="M184.0 5.4H192.9V10.0H184.0zM114.8 9.7H119.5V14.3H114.8zM188.3 9.7H201.6V14.3H188.3zM110.5 14.0H115.1V18.7H110.5zM192.6 14.0H205.9V18.7H192.6zM106.2 18.4H115.1V23.0H106.2zM201.3 18.4H210.2V23.0H201.3zM97.5 22.7H110.8V27.4H97.5zM205.6 22.7H218.9V27.4H205.6zM93.2 27.1H106.5V31.7H93.2zM214.3 27.1H223.2V31.7H214.3zM88.9 31.4H97.8V36.0H88.9zM218.6 31.4H227.5V36.0H218.6zM84.6 35.7H97.8V40.4H84.6zM222.9 35.7H231.9V40.4H222.9zM80.2 40.1H93.5V44.7H80.2zM227.2 40.1H236.2V44.7H227.2zM75.9 44.4H84.9V49.0H75.9zM235.9 44.4H240.5V49.0H235.9zM75.9 48.7H80.5V53.4H75.9zM235.9 48.7H244.8V53.4H235.9zM71.6 53.1H76.2V57.7H71.6zM240.2 53.1H244.8V57.7H240.2zM67.3 57.4H76.2V62.0H67.3zM244.5 57.4H249.2V62.0H244.5zM67.3 61.7H76.2V66.4H67.3zM244.5 61.7H253.5V66.4H244.5zM62.9 66.1H71.9V70.7H62.9zM248.9 66.1H257.8V70.7H248.9zM58.6 70.4H71.9V75.0H58.6zM248.9 70.4H257.8V75.0H248.9zM58.6 74.7H67.6V79.4H58.6zM253.2 74.7H262.1V79.4H253.2zM54.3 79.1H67.6V83.7H54.3zM253.2 79.1H262.1V83.7H253.2zM50.0 83.4H63.2V88.1H50.0zM253.2 83.4H266.4V88.1H253.2zM50.0 87.8H63.2V92.4H50.0zM257.5 87.8H270.8V92.4H257.5zM45.7 92.1H58.9V96.7H45.7zM261.8 92.1H270.8V96.7H261.8zM45.7 96.4H58.9V101.1H45.7zM261.8 96.4H270.8V101.1H261.8zM41.3 100.8H54.6V105.4H41.3zM266.1 100.8H275.1V105.4H266.1zM41.3 105.1H54.6V109.7H41.3zM266.1 105.1H279.4V109.7H266.1zM37.0 109.4H50.3V114.1H37.0zM270.5 109.4H279.4V114.1H270.5zM37.0 113.8H50.3V118.4H37.0zM270.5 113.8H283.7V118.4H270.5zM37.0 118.1H46.0V122.7H37.0zM274.8 118.1H283.7V122.7H274.8zM37.0 122.4H46.0V127.1H37.0zM274.8 122.4H283.7V127.1H274.8zM32.7 126.8H41.6V131.4H32.7zM279.1 126.8H283.7V131.4H279.1zM32.7 131.1H37.3V135.8H32.7zM279.1 131.1H288.1V135.8H279.1zM28.4 135.5H33.0V140.1H28.4zM283.4 135.5H288.1V140.1H283.4zM28.4 139.8H33.0V144.4H28.4zM283.4 139.8H288.1V144.4H283.4zM28.4 144.1H33.0V148.8H28.4zM283.4 144.1H288.1V148.8H283.4zM28.4 148.5H33.0V153.1H28.4zM283.4 148.5H288.1V153.1H283.4zM28.4 152.8H33.0V157.4H28.4zM283.4 152.8H288.1V157.4H283.4zM28.4 157.1H37.3V161.8H28.4zM283.4 157.1H292.4V161.8H283.4zM24.0 161.5H37.3V166.1H24.0zM283.4 161.5H292.4V166.1H283.4zM24.0 165.8H37.3V170.4H24.0zM283.4 165.8H292.4V170.4H283.4zM24.0 170.1H33.0V174.8H24.0zM283.4 170.1H292.4V174.8H283.4zM24.0 174.5H33.0V179.1H24.0zM283.4 174.5H296.7V179.1H283.4zM24.0 178.8H33.0V183.5H24.0zM283.4 178.8H292.4V183.5H283.4zM24.0 183.2H33.0V187.8H24.0zM283.4 183.2H292.4V187.8H283.4zM24.0 187.5H33.0V192.1H24.0zM283.4 187.5H292.4V192.1H283.4zM24.0 191.8H33.0V196.5H24.0zM287.8 191.8H296.7V196.5H287.8zM19.7 196.2H33.0V200.8H19.7zM287.8 196.2H296.7V200.8H287.8zM19.7 200.5H28.7V205.1H19.7zM287.8 200.5H296.7V205.1H287.8zM19.7 204.8H28.7V209.5H19.7zM287.8 204.8H296.7V209.5H287.8zM15.4 209.2H28.7V213.8H15.4zM292.1 209.2H301.0V213.8H292.1zM15.4 213.5H24.3V218.1H15.4zM292.1 213.5H301.0V218.1H292.1zM15.4 217.8H24.3V222.5H15.4zM292.1 217.8H301.0V222.5H292.1zM15.4 222.2H24.3V226.8H15.4zM292.1 222.2H301.0V226.8H292.1zM15.4 226.5H24.3V231.1H15.4zM292.1 226.5H301.0V231.1H292.1zM19.7 230.8H24.3V235.5H19.7zM292.1 230.8H301.0V235.5H292.1zM19.7 235.2H28.7V239.8H19.7zM292.1 235.2H301.0V239.8H292.1zM24.0 239.5H28.7V244.2H24.0zM292.1 239.5H296.7V244.2H292.1zM24.0 243.9H33.0V248.5H24.0zM287.8 243.9H296.7V248.5H287.8zM24.0 248.2H33.0V252.8H24.0zM287.8 248.2H296.7V252.8H287.8zM24.0 252.5H33.0V257.2H24.0zM287.8 252.5H292.4V257.2H287.8zM28.4 256.9H33.0V261.5H28.4zM287.8 256.9H292.4V261.5H287.8zM28.4 261.2H33.0V265.8H28.4zM283.4 261.2H292.4V265.8H283.4zM28.4 265.5H33.0V270.2H28.4zM283.4 265.5H292.4V270.2H283.4zM28.4 269.9H33.0V274.5H28.4zM283.4 269.9H288.1V274.5H283.4zM32.7 274.2H37.3V278.8H32.7zM279.1 274.2H288.1V278.8H279.1zM32.7 278.5H37.3V283.2H32.7zM274.8 278.5H283.7V283.2H274.8zM32.7 282.9H41.6V287.5H32.7zM274.8 282.9H283.7V287.5H274.8zM32.7 287.2H41.6V291.9H32.7zM274.8 287.2H283.7V291.9H274.8zM32.7 291.6H41.6V296.2H32.7zM274.8 291.6H279.4V296.2H274.8zM32.7 295.9H41.6V300.5H32.7zM270.5 295.9H279.4V300.5H270.5zM37.0 300.2H46.0V304.9H37.0zM270.5 300.2H279.4V304.9H270.5zM37.0 304.6H46.0V309.2H37.0zM266.1 304.6H275.1V309.2H266.1zM41.3 308.9H46.0V313.5H41.3zM266.1 308.9H275.1V313.5H266.1zM41.3 313.2H50.3V317.9H41.3zM261.8 313.2H270.8V317.9H261.8zM45.7 317.6H50.3V322.2H45.7zM261.8 317.6H270.8V322.2H261.8zM45.7 321.9H54.6V326.5H45.7zM257.5 321.9H266.4V326.5H257.5zM50.0 326.2H54.6V330.9H50.0zM257.5 326.2H266.4V330.9H257.5zM50.0 330.6H58.9V335.2H50.0zM253.2 330.6H262.1V335.2H253.2zM54.3 334.9H63.2V339.6H54.3zM253.2 334.9H262.1V339.6H253.2zM54.3 339.3H63.2V343.9H54.3zM248.9 339.3H257.8V343.9H248.9zM58.6 343.6H67.6V348.2H58.6zM248.9 343.6H257.8V348.2H248.9zM62.9 347.9H71.9V352.6H62.9zM244.5 347.9H253.5V352.6H244.5zM62.9 352.3H76.2V356.9H62.9zM240.2 352.3H249.2V356.9H240.2zM67.3 356.6H80.5V361.2H67.3zM235.9 356.6H244.8V361.2H235.9zM71.6 360.9H80.5V365.6H71.6zM231.6 360.9H240.5V365.6H231.6zM75.9 365.3H89.2V369.9H75.9zM227.2 365.3H236.2V369.9H227.2zM84.6 369.6H97.8V374.2H84.6zM218.6 369.6H227.5V374.2H218.6zM93.2 373.9H102.2V378.6H93.2zM214.3 373.9H223.2V378.6H214.3zM101.9 378.3H106.5V382.9H101.9zM209.9 378.3H214.6V382.9H209.9zM106.2 382.6H115.1V387.2H106.2zM201.3 382.6H210.2V387.2H201.3zM114.8 386.9H119.5V391.6H114.8zM192.6 386.9H201.6V391.6H192.6zM119.2 391.3H128.1V395.9H119.2zM188.3 391.3H192.9V395.9H188.3zM127.8 395.6H141.1V400.3H127.8zM175.4 395.6H188.6V400.3H175.4zM136.4 400.0H175.7V404.6H136.4z"/>
<path fill="#fff0f0" d="M32.7 118.1H37.3V122.7H32.7zM32.7 122.4H37.3V127.1H32.7zM283.4 122.4H288.1V127.1H283.4zM28.4 126.8H33.0V131.4H28.4zM283.4 126.8H288.1V131.4H283.4zM28.4 131.1H33.0V135.8H28.4zM287.8 135.5H292.4V140.1H287.8zM24.0 139.8H28.7V144.4H24.0zM287.8 139.8H292.4V144.4H287.8zM24.0 144.1H28.7V148.8H24.0zM287.8 144.1H292.4V148.8H287.8zM24.0 148.5H28.7V153.1H24.0zM287.8 148.5H292.4V153.1H287.8zM24.0 152.8H28.7V157.4H24.0zM287.8 152.8H292.4V157.4H287.8zM24.0 157.1H28.7V161.8H24.0zM292.1 161.5H296.7V166.1H292.1zM292.1 165.8H296.7V170.4H292.1zM19.7 170.1H24.3V174.8H19.7zM292.1 170.1H296.7V174.8H292.1zM19.7 174.5H24.3V179.1H19.7zM19.7 178.8H24.3V183.5H19.7zM292.1 178.8H296.7V183.5H292.1zM19.7 183.2H24.3V187.8H19.7zM292.1 183.2H301.0V187.8H292.1zM15.4 187.5H24.3V192.1H15.4zM292.1 187.5H301.0V192.1H292.1zM15.4 191.8H24.3V196.5H15.4zM296.4 191.8H301.0V196.5H296.4zM15.4 196.2H20.0V200.8H15.4zM296.4 196.2H301.0V200.8H296.4zM11.1 200.5H20.0V205.1H11.1zM296.4 200.5H301.0V205.1H296.4zM6.7 204.8H20.0V209.5H6.7zM296.4 204.8H301.0V209.5H296.4zM6.7 209.2H15.7V213.8H6.7zM300.7 209.2H305.4V213.8H300.7zM6.7 213.5H15.7V218.1H6.7zM300.7 213.5H305.4V218.1H300.7zM6.7 217.8H15.7V222.5H6.7zM300.7 217.8H305.4V222.5H300.7zM2.4 222.2H15.7V226.8H2.4zM300.7 222.2H305.4V226.8H300.7zM11.1 226.5H15.7V231.1H11.1zM300.7 226.5H305.4V231.1H300.7zM11.1 230.8H20.0V235.5H11.1zM300.7 230.8H305.4V235.5H300.7zM15.4 235.2H20.0V239.8H15.4zM300.7 235.2H305.4V239.8H300.7zM15.4 239.5H24.3V244.2H15.4zM296.4 239.5H305.4V244.2H296.4zM19.7 243.9H24.3V248.5H19.7zM296.4 243.9H305.4V248.5H296.4zM19.7 248.2H24.3V252.8H19.7zM296.4 248.2H301.0V252.8H296.4zM19.7 252.5H24.3V257.2H19.7zM292.1 252.5H301.0V257.2H292.1zM24.0 256.9H28.7V261.5H24.0zM292.1 256.9H296.7V261.5H292.1zM24.0 261.2H28.7V265.8H24.0zM292.1 261.2H296.7V265.8H292.1zM24.0 265.5H28.7V270.2H24.0zM292.1 265.5H296.7V270.2H292.1zM24.0 269.9H28.7V274.5H24.0zM287.8 269.9H296.7V274.5H287.8zM28.4 274.2H33.0V278.8H28.4zM287.8 274.2H296.7V278.8H287.8zM28.4 278.5H33.0V283.2H28.4zM283.4 278.5H292.4V283.2H283.4zM28.4 282.9H33.0V287.5H28.4zM283.4 282.9H292.4V287.5H283.4zM28.4 287.2H33.0V291.9H28.4zM283.4 287.2H288.1V291.9H283.4zM28.4 291.6H33.0V296.2H28.4zM279.1 291.6H288.1V296.2H279.1zM28.4 295.9H33.0V300.5H28.4zM279.1 295.9H288.1V300.5H279.1zM32.7 300.2H37.3V304.9H32.7zM279.1 300.2H283.7V304.9H279.1zM32.7 304.6H37.3V309.2H32.7zM274.8 304.6H283.7V309.2H274.8zM37.0 308.9H41.6V313.5H37.0zM274.8 308.9H283.7V313.5H274.8zM37.0 313.2H41.6V317.9H37.0zM270.5 313.2H279.4V317.9H270.5zM41.3 317.6H46.0V322.2H41.3zM270.5 317.6H279.4V322.2H270.5zM41.3 321.9H46.0V326.5H41.3zM266.1 321.9H275.1V326.5H266.1zM45.7 326.2H50.3V330.9H45.7zM266.1 326.2H275.1V330.9H266.1zM45.7 330.6H50.3V335.2H45.7zM261.8 330.6H270.8V335.2H261.8zM45.7 334.9H54.6V339.6H45.7zM261.8 334.9H270.8V339.6H261.8zM50.0 339.3H54.6V343.9H50.0zM257.5 339.3H266.4V343.9H257.5zM54.3 343.6H58.9V348.2H54.3zM257.5 343.6H262.1V348.2H257.5zM54.3 347.9H63.2V352.6H54.3zM253.2 347.9H262.1V352.6H253.2zM58.6 352.3H63.2V356.9H58.6zM248.9 352.3H257.8V356.9H248.9zM62.9 356.6H67.6V361.2H62.9zM244.5 356.6H253.5V361.2H244.5zM67.3 360.9H71.9V365.6H67.3zM240.2 360.9H249.2V365.6H240.2zM71.6 365.3H76.2V369.9H71.6zM235.9 365.3H244.8V369.9H235.9zM75.9 369.6H84.9V374.2H75.9zM227.2 369.6H236.2V374.2H227.2zM84.6 373.9H93.5V378.6H84.6zM222.9 373.9H231.9V378.6H222.9zM88.9 378.3H102.2V382.9H88.9zM214.3 378.3H223.2V382.9H214.3zM97.5 382.6H106.5V387.2H97.5zM209.9 382.6H218.9V387.2H209.9zM106.2 386.9H115.1V391.6H106.2zM201.3 386.9H210.2V391.6H201.3zM110.5 391.3H119.5V395.9H110.5zM192.6 391.3H205.9V395.9H192.6zM119.2 395.6H128.1V400.3H119.2zM188.3 395.6H197.3V400.3H188.3zM123.5 400.0H136.7V404.6H123.5zM175.4 400.0H184.3V404.6H175.4zM140.8 404.3H171.3V408.9H140.8z"/>
<path fill="#ffd2d2" d="M292.1 152.8H296.7V157.4H292.1zM292.1 157.1H296.7V161.8H292.1zM19.7 161.5H24.3V166.1H19.7zM19.7 165.8H24.3V170.4H19.7zM296.4 170.1H301.0V174.8H296.4zM15.4 174.5H20.0V179.1H15.4zM296.4 174.5H301.0V179.1H296.4zM15.4 178.8H20.0V183.5H15.4zM296.4 178.8H301.0V183.5H296.4zM15.4 183.2H20.0V187.8H15.4zM11.1 191.8H15.7V196.5H11.1zM300.7 191.8H305.4V196.5H300.7zM11.1 196.2H15.7V200.8H11.1zM300.7 196.2H305.4V200.8H300.7zM6.7 200.5H11.4V205.1H6.7zM300.7 200.5H305.4V205.1H300.7zM300.7 204.8H305.4V209.5H300.7zM305.1 209.2H309.7V213.8H305.1zM305.1 213.5H309.7V218.1H305.1zM305.1 217.8H309.7V222.5H305.1zM305.1 222.2H309.7V226.8H305.1zM2.4 226.5H11.4V231.1H2.4zM305.1 226.5H309.7V231.1H305.1zM6.7 230.8H11.4V235.5H6.7zM305.1 230.8H314.0V235.5H305.1zM11.1 235.2H15.7V239.8H11.1zM305.1 235.2H309.7V239.8H305.1zM11.1 239.5H15.7V244.2H11.1zM305.1 239.5H309.7V244.2H305.1zM15.4 243.9H20.0V248.5H15.4zM15.4 248.2H20.0V252.8H15.4zM300.7 248.2H305.4V252.8H300.7zM300.7 252.5H305.4V257.2H300.7zM19.7 256.9H24.3V261.5H19.7zM296.4 256.9H301.0V261.5H296.4zM19.7 261.2H24.3V265.8H19.7zM296.4 261.2H301.0V265.8H296.4zM19.7 265.5H24.3V270.2H19.7zM296.4 265.5H301.0V270.2H296.4zM296.4 269.9H301.0V274.5H296.4zM24.0 274.2H28.7V278.8H24.0zM24.0 278.5H28.7V283.2H24.0zM292.1 278.5H296.7V283.2H292.1zM24.0 282.9H28.7V287.5H24.0zM292.1 282.9H296.7V287.5H292.1zM24.0 287.2H28.7V291.9H24.0zM287.8 287.2H292.4V291.9H287.8zM287.8 291.6H292.4V296.2H287.8zM287.8 295.9H292.4V300.5H287.8zM28.4 300.2H33.0V304.9H28.4zM283.4 300.2H292.4V304.9H283.4zM283.4 304.6H288.1V309.2H283.4zM32.7 308.9H37.3V313.5H32.7zM283.4 308.9H288.1V313.5H283.4zM32.7 313.2H37.3V317.9H32.7zM279.1 313.2H283.7V317.9H279.1zM37.0 317.6H41.6V322.2H37.0zM279.1 317.6H283.7V322.2H279.1zM37.0 321.9H41.6V326.5H37.0zM274.8 321.9H279.4V326.5H274.8zM41.3 326.2H46.0V330.9H41.3zM274.8 326.2H279.4V330.9H274.8zM41.3 330.6H46.0V335.2H41.3zM270.5 330.6H275.1V335.2H270.5zM270.5 334.9H275.1V339.6H270.5zM45.7 339.3H50.3V343.9H45.7zM266.1 339.3H275.1V343.9H266.1zM50.0 343.6H54.6V348.2H50.0zM261.8 343.6H270.8V348.2H261.8zM50.0 347.9H54.6V352.6H50.0zM261.8 347.9H266.4V352.6H261.8zM54.3 352.3H58.9V356.9H54.3zM257.5 352.3H262.1V356.9H257.5zM58.6 356.6H63.2V361.2H58.6zM253.2 356.6H257.8V361.2H253.2zM62.9 360.9H67.6V365.6H62.9zM248.9 360.9H253.5V365.6H248.9zM67.3 365.3H71.9V369.9H67.3zM244.5 365.3H249.2V369.9H244.5zM71.6 369.6H76.2V374.2H71.6zM235.9 369.6H244.8V374.2H235.9zM75.9 373.9H84.9V378.6H75.9zM231.6 373.9H240.5V378.6H231.6zM84.6 378.3H89.2V382.9H84.6zM222.9 378.3H231.9V382.9H222.9zM88.9 382.6H97.8V387.2H88.9zM218.6 382.6H227.5V387.2H218.6zM97.5 386.9H106.5V391.6H97.5zM209.9 386.9H218.9V391.6H209.9zM106.2 391.3H110.8V395.9H106.2zM205.6 391.3H214.6V395.9H205.6zM110.5 395.6H119.5V400.3H110.5zM197.0 395.6H205.9V400.3H197.0zM114.8 400.0H123.8V404.6H114.8zM184.0 400.0H201.6V404.6H184.0zM127.8 404.3H141.1V408.9H127.8zM171.0 404.3H184.3V408.9H171.0z"/>
<path fill="#ffb4b4" d="M296.4 165.8H301.0V170.4H296.4zM15.4 170.1H20.0V174.8H15.4zM300.7 183.2H305.4V187.8H300.7zM11.1 187.5H15.7V192.1H11.1zM300.7 187.5H305.4V192.1H300.7zM305.1 200.5H309.7V205.1H305.1zM305.1 204.8H309.7V209.5H305.1zM309.4 213.5H314.0V218.1H309.4zM309.4 217.8H314.0V222.5H309.4zM309.4 222.2H314.0V226.8H309.4zM309.4 226.5H314.0V231.1H309.4zM2.4 230.8H7.0V235.5H2.4zM2.4 235.2H11.4V239.8H2.4zM309.4 235.2H314.0V239.8H309.4zM11.1 243.9H15.7V248.5H11.1zM305.1 243.9H309.7V248.5H305.1zM15.4 252.5H20.0V257.2H15.4zM15.4 256.9H20.0V261.5H15.4zM300.7 256.9H305.4V261.5H300.7zM300.7 261.2H305.4V265.8H300.7zM19.7 269.9H24.3V274.5H19.7zM19.7 274.2H24.3V278.8H19.7zM296.4 274.2H301.0V278.8H296.4zM296.4 278.5H301.0V283.2H296.4zM292.1 287.2H296.7V291.9H292.1zM24.0 291.6H28.7V296.2H24.0zM292.1 291.6H296.7V296.2H292.1zM24.0 295.9H28.7V300.5H24.0zM292.1 295.9H296.7V300.5H292.1zM292.1 300.2H296.7V304.9H292.1zM28.4 304.6H33.0V309.2H28.4zM287.8 304.6H292.4V309.2H287.8zM28.4 308.9H33.0V313.5H28.4zM287.8 308.9H292.4V313.5H287.8zM283.4 313.2H288.1V317.9H283.4zM32.7 317.6H37.3V322.2H32.7zM283.4 317.6H288.1V322.2H283.4zM279.1 321.9H288.1V326.5H279.1zM37.0 326.2H41.6V330.9H37.0zM279.1 326.2H283.7V330.9H279.1zM274.8 330.6H283.7V335.2H274.8zM41.3 334.9H46.0V339.6H41.3zM274.8 334.9H279.4V339.6H274.8zM41.3 339.3H46.0V343.9H41.3zM274.8 339.3H279.4V343.9H274.8zM45.7 343.6H50.3V348.2H45.7zM270.5 343.6H275.1V348.2H270.5zM266.1 347.9H270.8V352.6H266.1zM50.0 352.3H54.6V356.9H50.0zM261.8 352.3H266.4V356.9H261.8zM54.3 356.6H58.9V361.2H54.3zM257.5 356.6H262.1V361.2H257.5zM58.6 360.9H63.2V365.6H58.6zM253.2 360.9H257.8V365.6H253.2zM62.9 365.3H67.6V369.9H62.9zM248.9 365.3H253.5V369.9H248.9zM67.3 369.6H71.9V374.2H67.3zM244.5 369.6H249.2V374.2H244.5zM71.6 373.9H76.2V378.6H71.6zM240.2 373.9H244.8V378.6H240.2zM75.9 378.3H84.9V382.9H75.9zM231.6 378.3H240.5V382.9H231.6zM84.6 382.6H89.2V387.2H84.6zM227.2 382.6H236.2V387.2H227.2zM88.9 386.9H97.8V391.6H88.9zM218.6 386.9H227.5V391.6H218.6zM97.5 391.3H106.5V395.9H97.5zM214.3 391.3H223.2V395.9H214.3zM101.9 395.6H110.8V400.3H101.9zM205.6 395.6H214.6V400.3H205.6zM110.5 400.0H115.1V404.6H110.5zM201.3 400.0H205.9V404.6H201.3zM119.2 404.3H128.1V408.9H119.2zM184.0 404.3H197.3V408.9H184.0zM132.1 408.6H180.0V413.3H132.1z"/>
<path fill="#ff9696" d="M300.7 174.5H305.4V179.1H300.7zM300.7 178.8H305.4V183.5H300.7zM11.1 183.2H15.7V187.8H11.1zM305.1 191.8H309.7V196.5H305.1zM305.1 196.2H309.7V200.8H305.1zM309.4 209.2H314.0V213.8H309.4zM313.7 235.2H318.3V239.8H313.7zM6.7 239.5H11.4V244.2H6.7zM11.1 248.2H15.7V252.8H11.1zM305.1 248.2H309.7V252.8H305.1zM305.1 252.5H309.7V257.2H305.1zM15.4 261.2H20.0V265.8H15.4zM300.7 265.5H305.4V270.2H300.7zM300.7 269.9H305.4V274.5H300.7zM300.7 274.2H305.4V278.8H300.7zM19.7 278.5H24.3V283.2H19.7zM19.7 282.9H24.3V287.5H19.7zM296.4 282.9H301.0V287.5H296.4zM296.4 287.2H301.0V291.9H296.4zM296.4 291.6H301.0V296.2H296.4zM296.4 295.9H301.0V300.5H296.4zM24.0 300.2H28.7V304.9H24.0zM292.1 304.6H296.7V309.2H292.1zM292.1 308.9H296.7V313.5H292.1zM28.4 313.2H33.0V317.9H28.4zM287.8 313.2H292.4V317.9H287.8zM287.8 317.6H292.4V322.2H287.8zM32.7 321.9H37.3V326.5H32.7zM32.7 326.2H37.3V330.9H32.7zM283.4 326.2H288.1V330.9H283.4zM37.0 330.6H41.6V335.2H37.0zM37.0 334.9H41.6V339.6H37.0zM279.1 334.9H283.7V339.6H279.1zM279.1 339.3H283.7V343.9H279.1zM41.3 343.6H46.0V348.2H41.3zM274.8 343.6H279.4V348.2H274.8zM45.7 347.9H50.3V352.6H45.7zM270.5 347.9H275.1V352.6H270.5zM266.1 352.3H270.8V356.9H266.1zM50.0 356.6H54.6V361.2H50.0zM261.8 356.6H270.8V361.2H261.8zM54.3 360.9H58.9V365.6H54.3zM257.5 360.9H266.4V365.6H257.5zM58.6 365.3H63.2V369.9H58.6zM253.2 365.3H262.1V369.9H253.2zM62.9 369.6H67.6V374.2H62.9zM248.9 369.6H257.8V374.2H248.9zM67.3 373.9H71.9V378.6H67.3zM244.5 373.9H253.5V378.6H244.5zM71.6 378.3H76.2V382.9H71.6zM240.2 378.3H249.2V382.9H240.2zM80.2 382.6H84.9V387.2H80.2zM235.9 382.6H244.8V387.2H235.9zM84.6 386.9H89.2V391.6H84.6zM227.2 386.9H236.2V391.6H227.2zM88.9 391.3H97.8V395.9H88.9zM222.9 391.3H231.9V395.9H222.9zM97.5 395.6H102.2V400.3H97.5zM214.3 395.6H223.2V400.3H214.3zM101.9 400.0H110.8V404.6H101.9zM205.6 400.0H210.2V404.6H205.6zM114.8 404.3H119.5V408.9H114.8zM197.0 404.3H201.6V408.9H197.0zM123.5 408.6H132.4V413.3H123.5zM179.7 408.6H192.9V413.3H179.7zM140.8 413.0H175.7V417.6H140.8z"/>
<path fill="#ff7878" d="M2.4 239.5H7.0V244.2H2.4zM309.4 239.5H318.3V244.2H309.4zM6.7 243.9H11.4V248.5H6.7zM309.4 243.9H318.3V248.5H309.4zM6.7 248.2H11.4V252.8H6.7zM313.7 248.2H318.3V252.8H313.7zM11.1 252.5H15.7V257.2H11.1zM11.1 256.9H15.7V261.5H11.1zM305.1 256.9H309.7V261.5H305.1zM305.1 261.2H309.7V265.8H305.1zM15.4 265.5H20.0V270.2H15.4zM15.4 269.9H20.0V274.5H15.4zM300.7 278.5H305.4V283.2H300.7zM300.7 282.9H305.4V287.5H300.7zM19.7 287.2H24.3V291.9H19.7zM300.7 287.2H305.4V291.9H300.7zM19.7 291.6H24.3V296.2H19.7zM300.7 291.6H305.4V296.2H300.7zM19.7 295.9H24.3V300.5H19.7zM296.4 300.2H301.0V304.9H296.4zM24.0 304.6H28.7V309.2H24.0zM296.4 304.6H301.0V309.2H296.4zM24.0 308.9H28.7V313.5H24.0zM292.1 313.2H296.7V317.9H292.1zM28.4 317.6H33.0V322.2H28.4zM292.1 317.6H296.7V322.2H292.1zM287.8 321.9H292.4V326.5H287.8zM287.8 326.2H292.4V330.9H287.8zM32.7 330.6H37.3V335.2H32.7zM283.4 330.6H288.1V335.2H283.4zM283.4 334.9H288.1V339.6H283.4zM37.0 339.3H41.6V343.9H37.0zM279.1 343.6H283.7V348.2H279.1zM41.3 347.9H46.0V352.6H41.3zM274.8 347.9H279.4V352.6H274.8zM45.7 352.3H50.3V356.9H45.7zM270.5 352.3H279.4V356.9H270.5zM270.5 356.6H275.1V361.2H270.5zM50.0 360.9H54.6V365.6H50.0zM266.1 360.9H270.8V365.6H266.1zM54.3 365.3H58.9V369.9H54.3zM261.8 365.3H266.4V369.9H261.8zM58.6 369.6H63.2V374.2H58.6zM257.5 369.6H262.1V374.2H257.5zM62.9 373.9H67.6V378.6H62.9zM253.2 373.9H257.8V378.6H253.2zM67.3 378.3H71.9V382.9H67.3zM248.9 378.3H253.5V382.9H248.9zM71.6 382.6H80.5V387.2H71.6zM244.5 382.6H249.2V387.2H244.5zM80.2 386.9H84.9V391.6H80.2zM235.9 386.9H244.8V391.6H235.9zM84.6 391.3H89.2V395.9H84.6zM231.6 391.3H240.5V395.9H231.6zM88.9 395.6H97.8V400.3H88.9zM222.9 395.6H236.2V400.3H222.9zM93.2 400.0H102.2V404.6H93.2zM209.9 400.0H231.9V404.6H209.9zM101.9 404.3H115.1V408.9H101.9zM201.3 404.3H205.9V408.9H201.3zM119.2 408.6H123.8V413.3H119.2zM192.6 408.6H197.3V413.3H192.6zM127.8 413.0H141.1V417.6H127.8zM175.4 413.0H192.9V417.6H175.4zM127.8 417.3H136.7V421.9H127.8zM140.8 417.3H149.7V421.9H140.8zM153.7 417.3H162.7V421.9H153.7zM166.7 417.3H175.7V421.9H166.7zM179.7 417.3H188.6V421.9H179.7z"/>
<path fill="#ff5a5a" d="M2.4 243.9H7.0V248.5H2.4zM2.4 248.2H7.0V252.8H2.4zM309.4 248.2H314.0V252.8H309.4zM6.7 252.5H11.4V257.2H6.7zM309.4 252.5H318.3V257.2H309.4zM11.1 261.2H15.7V265.8H11.1zM305.1 265.5H309.7V270.2H305.1zM305.1 269.9H309.7V274.5H305.1zM15.4 274.2H20.0V278.8H15.4zM305.1 274.2H309.7V278.8H305.1zM15.4 278.5H20.0V283.2H15.4zM305.1 282.9H309.7V287.5H305.1zM305.1 287.2H309.7V291.9H305.1zM305.1 291.6H309.7V296.2H305.1zM300.7 295.9H305.4V300.5H300.7zM19.7 300.2H24.3V304.9H19.7zM300.7 300.2H305.4V304.9H300.7zM300.7 304.6H305.4V309.2H300.7zM296.4 308.9H301.0V313.5H296.4zM24.0 313.2H28.7V317.9H24.0zM296.4 313.2H301.0V317.9H296.4zM296.4 317.6H301.0V322.2H296.4zM28.4 321.9H33.0V326.5H28.4zM292.1 321.9H296.7V326.5H292.1zM28.4 326.2H33.0V330.9H28.4zM292.1 326.2H296.7V330.9H292.1zM287.8 330.6H296.7V335.2H287.8zM32.7 334.9H37.3V339.6H32.7zM287.8 334.9H292.4V339.6H287.8zM283.4 339.3H292.4V343.9H283.4zM37.0 343.6H41.6V348.2H37.0zM283.4 343.6H288.1V348.2H283.4zM279.1 347.9H288.1V352.6H279.1zM41.3 352.3H46.0V356.9H41.3zM279.1 352.3H283.7V356.9H279.1zM45.7 356.6H50.3V361.2H45.7zM274.8 356.6H279.4V361.2H274.8zM270.5 360.9H279.4V365.6H270.5zM50.0 365.3H54.6V369.9H50.0zM266.1 365.3H275.1V369.9H266.1zM54.3 369.6H58.9V374.2H54.3zM261.8 369.6H270.8V374.2H261.8zM58.6 373.9H63.2V378.6H58.6zM257.5 373.9H266.4V378.6H257.5zM62.9 378.3H67.6V382.9H62.9zM253.2 378.3H262.1V382.9H253.2zM67.3 382.6H71.9V387.2H67.3zM248.9 382.6H257.8V387.2H248.9zM71.6 386.9H80.5V391.6H71.6zM244.5 386.9H253.5V391.6H244.5zM75.9 391.3H84.9V395.9H75.9zM240.2 391.3H249.2V395.9H240.2zM84.6 395.6H89.2V400.3H84.6zM235.9 395.6H244.8V400.3H235.9zM88.9 400.0H93.5V404.6H88.9zM231.6 400.0H240.5V404.6H231.6zM93.2 404.3H102.2V408.9H93.2zM205.6 404.3H210.2V408.9H205.6zM222.9 404.3H231.9V408.9H222.9zM110.5 408.6H119.5V413.3H110.5zM197.0 408.6H201.6V413.3H197.0zM123.5 413.0H128.1V417.6H123.5zM192.6 413.0H197.3V417.6H192.6zM123.5 417.3H128.1V421.9H123.5zM136.4 417.3H141.1V421.9H136.4zM149.4 417.3H154.0V421.9H149.4zM162.4 417.3H167.0V421.9H162.4zM175.4 417.3H180.0V421.9H175.4zM188.3 417.3H197.3V421.9H188.3z"/>
<path fill="#ff3c3c" d="M2.4 252.5H7.0V257.2H2.4zM6.7 256.9H11.4V261.5H6.7zM309.4 256.9H318.3V261.5H309.4zM6.7 261.2H11.4V265.8H6.7zM309.4 261.2H318.3V265.8H309.4zM11.1 265.5H15.7V270.2H11.1zM309.4 265.5H318.3V270.2H309.4zM11.1 269.9H15.7V274.5H11.1zM309.4 269.9H318.3V274.5H309.4zM309.4 274.2H318.3V278.8H309.4zM305.1 278.5H314.0V283.2H305.1zM15.4 282.9H20.0V287.5H15.4zM309.4 282.9H318.3V287.5H309.4zM15.4 287.2H20.0V291.9H15.4zM309.4 287.2H318.3V291.9H309.4zM15.4 291.6H20.0V296.2H15.4zM309.4 291.6H314.0V296.2H309.4zM15.4 295.9H20.0V300.5H15.4zM305.1 295.9H314.0V300.5H305.1zM305.1 300.2H314.0V304.9H305.1zM19.7 304.6H24.3V309.2H19.7zM305.1 304.6H314.0V309.2H305.1zM19.7 308.9H24.3V313.5H19.7zM300.7 308.9H314.0V313.5H300.7zM300.7 313.2H309.7V317.9H300.7zM24.0 317.6H28.7V322.2H24.0zM300.7 317.6H309.7V322.2H300.7zM24.0 321.9H28.7V326.5H24.0zM296.4 321.9H305.4V326.5H296.4zM296.4 326.2H305.4V330.9H296.4zM28.4 330.6H33.0V335.2H28.4zM296.4 330.6H301.0V335.2H296.4zM28.4 334.9H33.0V339.6H28.4zM292.1 334.9H301.0V339.6H292.1zM32.7 339.3H37.3V343.9H32.7zM292.1 339.3H296.7V343.9H292.1zM32.7 343.6H37.3V348.2H32.7zM287.8 343.6H296.7V348.2H287.8zM37.0 347.9H41.6V352.6H37.0zM287.8 347.9H292.4V352.6H287.8zM37.0 352.3H41.6V356.9H37.0zM283.4 352.3H292.4V356.9H283.4zM41.3 356.6H46.0V361.2H41.3zM279.1 356.6H288.1V361.2H279.1zM45.7 360.9H50.3V365.6H45.7zM279.1 360.9H288.1V365.6H279.1zM45.7 365.3H50.3V369.9H45.7zM274.8 365.3H283.7V369.9H274.8zM50.0 369.6H54.6V374.2H50.0zM270.5 369.6H279.4V374.2H270.5zM54.3 373.9H58.9V378.6H54.3zM266.1 373.9H275.1V378.6H266.1zM58.6 378.3H63.2V382.9H58.6zM261.8 378.3H270.8V382.9H261.8zM62.9 382.6H67.6V387.2H62.9zM257.5 382.6H266.4V387.2H257.5zM67.3 386.9H71.9V391.6H67.3zM253.2 386.9H266.4V391.6H253.2zM71.6 391.3H76.2V395.9H71.6zM248.9 391.3H262.1V395.9H248.9zM75.9 395.6H84.9V400.3H75.9zM244.5 395.6H249.2V400.3H244.5zM80.2 400.0H89.2V404.6H80.2zM240.2 400.0H244.8V404.6H240.2zM88.9 404.3H93.5V408.9H88.9zM209.9 404.3H223.2V408.9H209.9zM231.6 404.3H240.5V408.9H231.6zM97.5 408.6H110.8V413.3H97.5zM201.3 408.6H205.9V413.3H201.3zM119.2 413.0H123.8V417.6H119.2zM119.2 417.3H123.8V421.9H119.2zM197.0 417.3H201.6V421.9H197.0z"/>
<path fill="#ff1e1e" d="M2.4 256.9H7.0V261.5H2.4zM2.4 261.2H7.0V265.8H2.4zM2.4 265.5H11.4V270.2H2.4zM2.4 269.9H11.4V274.5H2.4zM2.4 274.2H15.7V278.8H2.4zM2.4 278.5H15.7V283.2H2.4zM313.7 278.5H318.3V283.2H313.7zM2.4 282.9H15.7V287.5H2.4zM2.4 287.2H15.7V291.9H2.4zM2.4 291.6H15.7V296.2H2.4zM313.7 291.6H318.3V296.2H313.7zM2.4 295.9H15.7V300.5H2.4zM2.4 300.2H20.0V304.9H2.4zM6.7 304.6H20.0V309.2H6.7zM6.7 308.9H20.0V313.5H6.7zM6.7 313.2H24.3V317.9H6.7zM11.1 317.6H24.3V322.2H11.1zM11.1 321.9H24.3V326.5H11.1zM15.4 326.2H28.7V330.9H15.4zM15.4 330.6H28.7V335.2H15.4zM19.7 334.9H28.7V339.6H19.7zM19.7 339.3H33.0V343.9H19.7zM24.0 343.6H33.0V348.2H24.0zM24.0 347.9H37.3V352.6H24.0zM28.4 352.3H37.3V356.9H28.4zM28.4 356.6H41.6V361.2H28.4zM32.7 360.9H46.0V365.6H32.7zM32.7 365.3H46.0V369.9H32.7zM37.0 369.6H50.3V374.2H37.0zM41.3 373.9H54.6V378.6H41.3zM45.7 378.3H58.9V382.9H45.7zM50.0 382.6H63.2V387.2H50.0zM54.3 386.9H67.6V391.6H54.3zM58.6 391.3H71.9V395.9H58.6zM67.3 395.6H76.2V400.3H67.3zM71.6 400.0H80.5V404.6H71.6zM80.2 404.3H89.2V408.9H80.2zM88.9 408.6H97.8V413.3H88.9zM205.6 408.6H227.5V413.3H205.6zM106.2 413.0H119.5V417.6H106.2zM197.0 413.0H210.2V417.6H197.0z"/>
<path fill="#000" d="M156.8 14.5h4.3v4.3h-4.3zM118.1 23.6h4.3v4.3h-4.3zM194.9 23.6h4.3v4.3h-4.3zM96.4 41.9h4.3v4.3h-4.3zM216.6 41.9h4.3v4.3h-4.3zM118.1 64.0h4.3v4.3h-4.3zM194.9 64.0h4.3v4.3h-4.3zM83.7 74.0h4.3v4.3h-4.3zM156.8 74.0h4.3v4.3h-4.3zM229.3 74.0h4.3v4.3h-4.3zM62.0 78.0h4.3v4.3h-4.3zM251.0 78.0h4.3v4.3h-4.3zM48.9 95.7h4.3v4.3h-4.3zM264.1 95.7h4.3v4.3h-4.3zM109.4 132.4h4.3v4.3h-4.3zM203.6 132.4h4.3v4.3h-4.3zM66.3 136.5h4.3v4.3h-4.3zM156.8 136.5h4.3v4.3h-4.3zM246.7 136.5h4.3v4.3h-4.3zM40.6 141.5h4.3v4.3h-4.3zM272.4 141.5h4.3v4.3h-4.3zM31.9 150.2h4.3v4.3h-4.3zM281.1 150.2h4.3v4.3h-4.3zM23.2 208.6h4.3v4.3h-4.3zM40.6 208.6h4.3v4.3h-4.3zM62.0 208.6h4.3v4.3h-4.3zM109.4 208.6h4.3v4.3h-4.3zM156.8 208.6h4.3v4.3h-4.3zM203.6 208.6h4.3v4.3h-4.3zM246.7 208.6h4.3v4.3h-4.3zM272.4 208.6h4.3v4.3h-4.3zM285.1 208.6h4.3v4.3h-4.3zM31.9 267.1h4.3v4.3h-4.3zM281.1 267.1h4.3v4.3h-4.3zM40.6 275.7h4.3v4.3h-4.3zM272.4 275.7h4.3v4.3h-4.3zM66.3 280.8h4.3v4.3h-4.3zM156.8 280.8h4.3v4.3h-4.3zM246.7 280.8h4.3v4.3h-4.3zM109.4 285.1h4.3v4.3h-4.3zM203.6 285.1h4.3v4.3h-4.3zM48.9 321.5h4.3v4.3h-4.3zM264.1 321.5h4.3v4.3h-4.3zM62.0 339.2h4.3v4.3h-4.3zM251.0 339.2h4.3v4.3h-4.3zM83.7 343.9h4.3v4.3h-4.3zM156.8 343.9h4.3v4.3h-4.3zM229.3 343.9h4.3v4.3h-4.3zM118.1 352.9h4.3v4.3h-4.3zM194.9 352.9h4.3v4.3h-4.3zM79.3 366.3h4.3v4.3h-4.3zM233.7 366.3h4.3v4.3h-4.3zM96.4 375.3h4.3v4.3h-4.3zM216.6 375.3h4.3v4.3h-4.3zM156.8 388.7h4.3v4.3h-4.3zM118.1 393.7h4.3v4.3h-4.3zM194.9 393.7h4.3v4.3h-4.3zM156.8 402.7h4.3v4.3h-4.3z"/>
</g>
<ellipse cx="402.8" cy="266.0" rx="26.3" ry="26.3" fill="none" stroke="#f00" stroke-width="6.8"/>
<clipPath id="mc1"><rect width="315.6" height="420.6"/></clipPath>
<g transform="translate(970.9,55.8)" shape-rendering="crispEdges" clip-path="url(#mc1)">
<rect width="315.6" height="420.6" fill="#000"/>
<path fill="#5a5aff" d="M155.9 221.2H177.8V225.8H155.9zM147.2 225.5H177.8V230.1H147.2zM147.2 229.8H182.1V234.5H147.2zM147.2 234.2H177.8V238.8H147.2zM142.9 238.5H177.8V243.2H142.9zM138.6 242.9H177.8V247.5H138.6zM138.6 247.2H173.5V251.8H138.6zM151.5 251.5H164.8V256.2H151.5z"/>
<path fill="#7878ff" d="M168.8 78.1H199.4V82.7H168.8zM142.9 82.4H208.0V87.1H142.9zM95.3 86.8H208.0V91.4H95.3zM95.3 91.1H212.4V95.7H95.3zM91.0 95.4H216.7V100.1H91.0zM86.7 99.8H221.0V104.4H86.7zM86.7 104.1H216.7V108.7H86.7zM86.7 108.4H212.4V113.1H86.7zM86.7 112.8H216.7V117.4H86.7zM86.7 117.1H216.7V121.7H86.7zM86.7 121.4H216.7V126.1H86.7zM86.7 125.8H212.4V130.4H86.7zM86.7 130.1H212.4V134.8H86.7zM86.7 134.5H208.0V139.1H86.7zM91.0 138.8H199.4V143.4H91.0zM91.0 143.1H199.4V147.8H91.0zM95.3 147.5H195.1V152.1H95.3zM99.7 151.8H195.1V156.4H99.7zM99.7 156.1H190.7V160.8H99.7zM104.0 160.5H186.4V165.1H104.0zM117.0 164.8H138.9V169.4H117.0zM147.2 164.8H186.4V169.4H147.2zM147.2 169.1H186.4V173.8H147.2zM147.2 173.5H186.4V178.1H147.2zM134.2 177.8H186.4V182.5H134.2zM129.9 182.2H190.7V186.8H129.9zM129.9 186.5H190.7V191.1H129.9zM91.0 190.8H195.1V195.5H91.0zM91.0 195.2H199.4V199.8H91.0zM82.4 199.5H203.7V204.1H82.4zM82.4 203.8H208.0V208.5H82.4zM78.0 208.2H208.0V212.8H78.0zM78.0 212.5H212.4V217.1H78.0zM78.0 216.8H212.4V221.5H78.0zM78.0 221.2H156.2V225.8H78.0zM177.5 221.2H216.7V225.8H177.5zM78.0 225.5H147.5V230.1H78.0zM177.5 225.5H216.7V230.1H177.5zM78.0 229.8H147.5V234.5H78.0zM181.8 229.8H216.7V234.5H181.8zM78.0 234.2H147.5V238.8H78.0zM177.5 234.2H216.7V238.8H177.5zM78.0 238.5H143.2V243.2H78.0zM177.5 238.5H216.7V243.2H177.5zM78.0 242.9H138.9V247.5H78.0zM177.5 242.9H221.0V247.5H177.5zM82.4 247.2H138.9V251.8H82.4zM173.2 247.2H216.7V251.8H173.2zM95.3 251.5H151.8V256.2H95.3zM164.5 251.5H212.4V256.2H164.5zM99.7 255.9H208.0V260.5H99.7zM104.0 260.2H208.0V264.8H104.0zM112.6 264.5H199.4V269.2H112.6zM117.0 268.9H195.1V273.5H117.0zM125.6 273.2H186.4V277.8H125.6zM142.9 277.5H169.1V282.2H142.9z"/>
<path fill="#9696ff" d="M82.4 56.4H91.3V61.0H82.4zM78.0 60.7H91.3V65.4H78.0zM155.9 60.7H199.4V65.4H155.9zM78.0 65.1H212.4V69.7H78.0zM82.4 69.4H221.0V74.0H82.4zM82.4 73.7H225.3V78.4H82.4zM78.0 78.1H169.1V82.7H78.0zM199.1 78.1H229.7V82.7H199.1zM73.7 82.4H143.2V87.1H73.7zM207.7 82.4H229.7V87.1H207.7zM73.7 86.8H95.6V91.4H73.7zM207.7 86.8H229.7V91.4H207.7zM69.4 91.1H95.6V95.7H69.4zM212.1 91.1H234.0V95.7H212.1zM69.4 95.4H91.3V100.1H69.4zM216.4 95.4H234.0V100.1H216.4zM65.1 99.8H87.0V104.4H65.1zM220.7 99.8H234.0V104.4H220.7zM65.1 104.1H87.0V108.7H65.1zM216.4 104.1H238.3V108.7H216.4zM65.1 108.4H87.0V113.1H65.1zM212.1 108.4H238.3V113.1H212.1zM60.7 112.8H87.0V117.4H60.7zM216.4 112.8H242.6V117.4H216.4zM60.7 117.1H87.0V121.7H60.7zM216.4 117.1H242.6V121.7H216.4zM56.4 121.4H87.0V126.1H56.4zM216.4 121.4H242.6V126.1H216.4zM56.4 125.8H87.0V130.4H56.4zM212.1 125.8H247.0V130.4H212.1zM56.4 130.1H87.0V134.8H56.4zM212.1 130.1H247.0V134.8H212.1zM56.4 134.5H87.0V139.1H56.4zM207.7 134.5H247.0V139.1H207.7zM56.4 138.8H91.3V143.4H56.4zM199.1 138.8H247.0V143.4H199.1zM56.4 143.1H91.3V147.8H56.4zM199.1 143.1H251.3V147.8H199.1zM56.4 147.5H95.6V152.1H56.4zM194.8 147.5H247.0V152.1H194.8zM60.7 151.8H100.0V156.4H60.7zM194.8 151.8H247.0V156.4H194.8zM60.7 156.1H100.0V160.8H60.7zM190.4 156.1H242.6V160.8H190.4zM60.7 160.5H104.3V165.1H60.7zM186.1 160.5H242.6V165.1H186.1zM60.7 164.8H117.3V169.4H60.7zM138.6 164.8H147.5V169.4H138.6zM186.1 164.8H238.3V169.4H186.1zM65.1 169.1H147.5V173.8H65.1zM186.1 169.1H238.3V173.8H186.1zM65.1 173.5H147.5V178.1H65.1zM186.1 173.5H234.0V178.1H186.1zM65.1 177.8H134.5V182.5H65.1zM186.1 177.8H229.7V182.5H186.1zM65.1 182.2H130.2V186.8H65.1zM190.4 182.2H229.7V186.8H190.4zM65.1 186.5H130.2V191.1H65.1zM190.4 186.5H229.7V191.1H190.4zM60.7 190.8H91.3V195.5H60.7zM194.8 190.8H234.0V195.5H194.8zM60.7 195.2H91.3V199.8H60.7zM199.1 195.2H238.3V199.8H199.1zM60.7 199.5H82.7V204.1H60.7zM203.4 199.5H238.3V204.1H203.4zM60.7 203.8H82.7V208.5H60.7zM207.7 203.8H242.6V208.5H207.7zM56.4 208.2H78.3V212.8H56.4zM207.7 208.2H242.6V212.8H207.7zM56.4 212.5H78.3V217.1H56.4zM212.1 212.5H242.6V217.1H212.1zM56.4 216.8H78.3V221.5H56.4zM212.1 216.8H247.0V221.5H212.1zM56.4 221.2H78.3V225.8H56.4zM216.4 221.2H251.3V225.8H216.4zM56.4 225.5H78.3V230.1H56.4zM216.4 225.5H251.3V230.1H216.4zM56.4 229.8H78.3V234.5H56.4zM216.4 229.8H251.3V234.5H216.4zM56.4 234.2H78.3V238.8H56.4zM216.4 234.2H255.6V238.8H216.4zM60.7 238.5H78.3V243.2H60.7zM216.4 238.5H255.6V243.2H216.4zM60.7 242.9H78.3V247.5H60.7zM220.7 242.9H255.6V247.5H220.7zM60.7 247.2H82.7V251.8H60.7zM216.4 247.2H259.9V251.8H216.4zM60.7 251.5H95.6V256.2H60.7zM212.1 251.5H255.6V256.2H212.1zM60.7 255.9H100.0V260.5H60.7zM207.7 255.9H251.3V260.5H207.7zM65.1 260.2H104.3V264.8H65.1zM207.7 260.2H247.0V264.8H207.7zM65.1 264.5H112.9V269.2H65.1zM199.1 264.5H242.6V269.2H199.1zM69.4 268.9H117.3V273.5H69.4zM194.8 268.9H242.6V273.5H194.8zM78.0 273.2H125.9V277.8H78.0zM186.1 273.2H234.0V277.8H186.1zM86.7 277.5H143.2V282.2H86.7zM168.8 277.5H208.0V282.2H168.8zM212.1 277.5H225.3V282.2H212.1zM99.7 281.9H199.4V286.5H99.7zM99.7 286.2H190.7V290.9H99.7zM104.0 290.6H173.5V295.2H104.0zM112.6 294.9H147.5V299.5H112.6z"/>
<path fill="#b4b4ff" d="M108.3 34.7H112.9V39.4H108.3zM82.4 39.1H91.3V43.7H82.4zM99.7 39.1H125.9V43.7H99.7zM78.0 43.4H199.4V48.0H78.0zM78.0 47.7H208.0V52.4H78.0zM73.7 52.1H216.7V56.7H73.7zM69.4 56.4H82.7V61.0H69.4zM91.0 56.4H225.3V61.0H91.0zM69.4 60.7H78.3V65.4H69.4zM91.0 60.7H156.2V65.4H91.0zM199.1 60.7H229.7V65.4H199.1zM65.1 65.1H78.3V69.7H65.1zM212.1 65.1H234.0V69.7H212.1zM65.1 69.4H82.7V74.0H65.1zM220.7 69.4H234.0V74.0H220.7zM60.7 73.7H82.7V78.4H60.7zM225.0 73.7H238.3V78.4H225.0zM60.7 78.1H78.3V82.7H60.7zM229.4 78.1H238.3V82.7H229.4zM56.4 82.4H74.0V87.1H56.4zM229.4 82.4H238.3V87.1H229.4zM56.4 86.8H74.0V91.4H56.4zM229.4 86.8H238.3V91.4H229.4zM56.4 91.1H69.7V95.7H56.4zM233.7 91.1H238.3V95.7H233.7zM52.1 95.4H69.7V100.1H52.1zM233.7 95.4H242.6V100.1H233.7zM52.1 99.8H65.4V104.4H52.1zM233.7 99.8H242.6V104.4H233.7zM47.8 104.1H65.4V108.7H47.8zM238.0 104.1H242.6V108.7H238.0zM47.8 108.4H65.4V113.1H47.8zM238.0 108.4H247.0V113.1H238.0zM43.5 112.8H61.0V117.4H43.5zM242.3 112.8H247.0V117.4H242.3zM43.5 117.1H61.0V121.7H43.5zM242.3 117.1H251.3V121.7H242.3zM39.1 121.4H56.7V126.1H39.1zM242.3 121.4H251.3V126.1H242.3zM39.1 125.8H56.7V130.4H39.1zM246.7 125.8H251.3V130.4H246.7zM39.1 130.1H56.7V134.8H39.1zM246.7 130.1H255.6V134.8H246.7zM34.8 134.5H56.7V139.1H34.8zM246.7 134.5H259.9V139.1H246.7zM34.8 138.8H56.7V143.4H34.8zM246.7 138.8H259.9V143.4H246.7zM43.5 143.1H56.7V147.8H43.5zM251.0 143.1H259.9V147.8H251.0zM43.5 147.5H56.7V152.1H43.5zM246.7 147.5H259.9V152.1H246.7zM43.5 151.8H61.0V156.4H43.5zM246.7 151.8H259.9V156.4H246.7zM43.5 156.1H61.0V160.8H43.5zM242.3 156.1H259.9V160.8H242.3zM47.8 160.5H61.0V165.1H47.8zM242.3 160.5H259.9V165.1H242.3zM47.8 164.8H61.0V169.4H47.8zM238.0 164.8H259.9V169.4H238.0zM47.8 169.1H65.4V173.8H47.8zM238.0 169.1H259.9V173.8H238.0zM47.8 173.5H65.4V178.1H47.8zM233.7 173.5H264.2V178.1H233.7zM47.8 177.8H65.4V182.5H47.8zM229.4 177.8H264.2V182.5H229.4zM47.8 182.2H65.4V186.8H47.8zM229.4 182.2H264.2V186.8H229.4zM47.8 186.5H65.4V191.1H47.8zM229.4 186.5H264.2V191.1H229.4zM47.8 190.8H61.0V195.5H47.8zM233.7 190.8H264.2V195.5H233.7zM43.5 195.2H61.0V199.8H43.5zM238.0 195.2H264.2V199.8H238.0zM43.5 199.5H61.0V204.1H43.5zM238.0 199.5H264.2V204.1H238.0zM43.5 203.8H61.0V208.5H43.5zM242.3 203.8H268.6V208.5H242.3zM43.5 208.2H56.7V212.8H43.5zM242.3 208.2H268.6V212.8H242.3zM43.5 212.5H56.7V217.1H43.5zM242.3 212.5H268.6V217.1H242.3zM43.5 216.8H56.7V221.5H43.5zM246.7 216.8H272.9V221.5H246.7zM39.1 221.2H56.7V225.8H39.1zM251.0 221.2H272.9V225.8H251.0zM39.1 225.5H56.7V230.1H39.1zM251.0 225.5H272.9V230.1H251.0zM39.1 229.8H56.7V234.5H39.1zM251.0 229.8H272.9V234.5H251.0zM39.1 234.2H56.7V238.8H39.1zM255.3 234.2H272.9V238.8H255.3zM39.1 238.5H61.0V243.2H39.1zM255.3 238.5H272.9V243.2H255.3zM43.5 242.9H61.0V247.5H43.5zM255.3 242.9H272.9V247.5H255.3zM43.5 247.2H61.0V251.8H43.5zM259.6 247.2H272.9V251.8H259.6zM43.5 251.5H61.0V256.2H43.5zM255.3 251.5H272.9V256.2H255.3zM43.5 255.9H61.0V260.5H43.5zM251.0 255.9H268.6V260.5H251.0zM47.8 260.2H65.4V264.8H47.8zM246.7 260.2H264.2V264.8H246.7zM47.8 264.5H65.4V269.2H47.8zM242.3 264.5H259.9V269.2H242.3zM52.1 268.9H69.7V273.5H52.1zM242.3 268.9H259.9V273.5H242.3zM52.1 273.2H78.3V277.8H52.1zM233.7 273.2H255.6V277.8H233.7zM56.4 277.5H87.0V282.2H56.4zM207.7 277.5H212.4V282.2H207.7zM225.0 277.5H255.6V282.2H225.0zM56.4 281.9H100.0V286.5H56.4zM199.1 281.9H255.6V286.5H199.1zM60.7 286.2H100.0V290.9H60.7zM190.4 286.2H251.3V290.9H190.4zM65.1 290.6H104.3V295.2H65.1zM173.2 290.6H247.0V295.2H173.2zM69.4 294.9H112.9V299.5H69.4zM147.2 294.9H242.6V299.5H147.2zM73.7 299.2H238.3V303.9H73.7zM78.0 303.6H234.0V308.2H78.0zM78.0 307.9H234.0V312.5H78.0zM82.4 312.2H229.7V316.9H82.4zM82.4 316.6H229.7V321.2H82.4zM82.4 320.9H225.3V325.5H82.4zM82.4 325.2H225.3V329.9H82.4zM86.7 329.6H221.0V334.2H86.7zM86.7 333.9H221.0V338.6H86.7zM91.0 338.3H216.7V342.9H91.0zM95.3 342.6H212.4V347.2H95.3zM99.7 346.9H208.0V351.6H99.7zM104.0 351.3H203.7V355.9H104.0zM112.6 355.6H199.4V360.2H112.6zM121.3 359.9H199.4V364.6H121.3zM129.9 364.3H190.7V368.9H129.9zM138.6 368.6H186.4V373.2H138.6zM155.9 372.9H173.5V377.6H155.9z"/>
<path fill="#d2d2ff" d="M121.3 4.4H143.2V9.0H121.3zM112.6 8.7H143.2V13.3H112.6zM108.3 13.0H143.2V17.7H108.3zM104.0 17.4H151.8V22.0H104.0zM95.3 21.7H164.8V26.4H95.3zM91.0 26.1H186.4V30.7H91.0zM86.7 30.4H199.4V35.0H86.7zM82.4 34.7H108.6V39.4H82.4zM112.6 34.7H216.7V39.4H112.6zM78.0 39.1H82.7V43.7H78.0zM91.0 39.1H100.0V43.7H91.0zM125.6 39.1H225.3V43.7H125.6zM73.7 43.4H78.3V48.0H73.7zM199.1 43.4H229.7V48.0H199.1zM73.7 47.7H78.3V52.4H73.7zM207.7 47.7H229.7V52.4H207.7zM69.4 52.1H74.0V56.7H69.4zM216.4 52.1H234.0V56.7H216.4zM65.1 56.4H69.7V61.0H65.1zM225.0 56.4H238.3V61.0H225.0zM65.1 60.7H69.7V65.4H65.1zM229.4 60.7H238.3V65.4H229.4zM60.7 65.1H65.4V69.7H60.7zM233.7 65.1H242.6V69.7H233.7zM60.7 69.4H65.4V74.0H60.7zM233.7 69.4H247.0V74.0H233.7zM56.4 73.7H61.0V78.4H56.4zM238.0 73.7H247.0V78.4H238.0zM56.4 78.1H61.0V82.7H56.4zM238.0 78.1H251.3V82.7H238.0zM52.1 82.4H56.7V87.1H52.1zM238.0 82.4H251.3V87.1H238.0zM52.1 86.8H56.7V91.4H52.1zM238.0 86.8H255.6V91.4H238.0zM47.8 91.1H56.7V95.7H47.8zM238.0 91.1H255.6V95.7H238.0zM47.8 95.4H52.4V100.1H47.8zM242.3 95.4H259.9V100.1H242.3zM43.5 99.8H52.4V104.4H43.5zM242.3 99.8H264.2V104.4H242.3zM43.5 104.1H48.1V108.7H43.5zM242.3 104.1H264.2V108.7H242.3zM39.1 108.4H48.1V113.1H39.1zM246.7 108.4H268.6V113.1H246.7zM39.1 112.8H43.8V117.4H39.1zM246.7 112.8H268.6V117.4H246.7zM34.8 117.1H43.8V121.7H34.8zM251.0 117.1H272.9V121.7H251.0zM34.8 121.4H39.4V126.1H34.8zM251.0 121.4H272.9V126.1H251.0zM34.8 125.8H39.4V130.4H34.8zM251.0 125.8H277.2V130.4H251.0zM30.5 130.1H39.4V134.8H30.5zM255.3 130.1H277.2V134.8H255.3zM30.5 134.5H35.1V139.1H30.5zM259.6 134.5H277.2V139.1H259.6zM30.5 138.8H35.1V143.4H30.5zM259.6 138.8H268.6V143.4H259.6zM30.5 143.1H43.8V147.8H30.5zM259.6 143.1H268.6V147.8H259.6zM30.5 147.5H43.8V152.1H30.5zM259.6 147.5H272.9V152.1H259.6zM30.5 151.8H43.8V156.4H30.5zM259.6 151.8H272.9V156.4H259.6zM30.5 156.1H43.8V160.8H30.5zM259.6 156.1H272.9V160.8H259.6zM30.5 160.5H48.1V165.1H30.5zM259.6 160.5H272.9V165.1H259.6zM30.5 164.8H48.1V169.4H30.5zM259.6 164.8H272.9V169.4H259.6zM30.5 169.1H48.1V173.8H30.5zM259.6 169.1H272.9V173.8H259.6zM30.5 173.5H48.1V178.1H30.5zM263.9 173.5H277.2V178.1H263.9zM30.5 177.8H48.1V182.5H30.5zM263.9 177.8H277.2V182.5H263.9zM30.5 182.2H48.1V186.8H30.5zM263.9 182.2H277.2V186.8H263.9zM30.5 186.5H48.1V191.1H30.5zM263.9 186.5H277.2V191.1H263.9zM30.5 190.8H48.1V195.5H30.5zM263.9 190.8H277.2V195.5H263.9zM26.2 195.2H43.8V199.8H26.2zM263.9 195.2H277.2V199.8H263.9zM26.2 199.5H43.8V204.1H26.2zM263.9 199.5H277.2V204.1H263.9zM26.2 203.8H43.8V208.5H26.2zM268.3 203.8H277.2V208.5H268.3zM26.2 208.2H43.8V212.8H26.2zM268.3 208.2H277.2V212.8H268.3zM26.2 212.5H43.8V217.1H26.2zM268.3 212.5H277.2V217.1H268.3zM26.2 216.8H43.8V221.5H26.2zM272.6 216.8H281.5V221.5H272.6zM26.2 221.2H39.4V225.8H26.2zM272.6 221.2H281.5V225.8H272.6zM26.2 225.5H39.4V230.1H26.2zM272.6 225.5H281.5V230.1H272.6zM26.2 229.8H39.4V234.5H26.2zM272.6 229.8H285.9V234.5H272.6zM26.2 234.2H39.4V238.8H26.2zM272.6 234.2H285.9V238.8H272.6zM26.2 238.5H39.4V243.2H26.2zM272.6 238.5H281.5V243.2H272.6zM26.2 242.9H43.8V247.5H26.2zM272.6 242.9H285.9V247.5H272.6zM26.2 247.2H43.8V251.8H26.2zM272.6 247.2H281.5V251.8H272.6zM30.5 251.5H43.8V256.2H30.5zM272.6 251.5H281.5V256.2H272.6zM30.5 255.9H43.8V260.5H30.5zM268.3 255.9H281.5V260.5H268.3zM30.5 260.2H48.1V264.8H30.5zM263.9 260.2H277.2V264.8H263.9zM30.5 264.5H48.1V269.2H30.5zM259.6 264.5H277.2V269.2H259.6zM34.8 268.9H52.4V273.5H34.8zM259.6 268.9H272.9V273.5H259.6zM39.1 273.2H52.4V277.8H39.1zM255.3 273.2H272.9V277.8H255.3zM39.1 277.5H56.7V282.2H39.1zM255.3 277.5H272.9V282.2H255.3zM43.5 281.9H56.7V286.5H43.5zM255.3 281.9H268.6V286.5H255.3zM47.8 286.2H61.0V290.9H47.8zM251.0 286.2H264.2V290.9H251.0zM52.1 290.6H65.4V295.2H52.1zM246.7 290.6H264.2V295.2H246.7zM52.1 294.9H69.7V299.5H52.1zM242.3 294.9H259.9V299.5H242.3zM56.4 299.2H74.0V303.9H56.4zM238.0 299.2H259.9V303.9H238.0zM56.4 303.6H78.3V308.2H56.4zM233.7 303.6H255.6V308.2H233.7zM60.7 307.9H78.3V312.5H60.7zM233.7 307.9H255.6V312.5H233.7zM60.7 312.2H82.7V316.9H60.7zM229.4 312.2H251.3V316.9H229.4zM65.1 316.6H82.7V321.2H65.1zM229.4 316.6H251.3V321.2H229.4zM65.1 320.9H82.7V325.5H65.1zM225.0 320.9H247.0V325.5H225.0zM65.1 325.2H82.7V329.9H65.1zM225.0 325.2H247.0V329.9H225.0zM69.4 329.6H87.0V334.2H69.4zM220.7 329.6H247.0V334.2H220.7zM69.4 333.9H87.0V338.6H69.4zM220.7 333.9H247.0V338.6H220.7zM73.7 338.3H91.3V342.9H73.7zM216.4 338.3H242.6V342.9H216.4zM73.7 342.6H95.6V347.2H73.7zM212.1 342.6H238.3V347.2H212.1zM78.0 346.9H100.0V351.6H78.0zM207.7 346.9H229.7V351.6H207.7zM82.4 351.3H104.3V355.9H82.4zM203.4 351.3H221.0V355.9H203.4zM91.0 355.6H112.9V360.2H91.0zM199.1 355.6H216.7V360.2H199.1zM99.7 359.9H121.6V364.6H99.7zM199.1 359.9H212.4V364.6H199.1zM104.0 364.3H130.2V368.9H104.0zM190.4 364.3H212.4V368.9H190.4zM112.6 368.6H138.9V373.2H112.6zM186.1 368.6H208.0V373.2H186.1zM117.0 372.9H156.2V377.6H117.0zM173.2 372.9H203.7V377.6H173.2zM121.3 377.3H199.4V381.9H121.3zM129.9 381.6H186.4V386.2H129.9zM142.9 385.9H182.1V390.6H142.9z"/>
<path fill="#f0f0ff" d="M129.9 0.0H182.1V4.7H129.9zM142.9 4.4H190.7V9.0H142.9zM142.9 8.7H199.4V13.3H142.9zM142.9 13.0H203.7V17.7H142.9zM151.5 17.4H208.0V22.0H151.5zM164.5 21.7H216.7V26.4H164.5zM186.1 26.1H221.0V30.7H186.1zM199.1 30.4H225.3V35.0H199.1zM216.4 34.7H229.7V39.4H216.4zM225.0 39.1H234.0V43.7H225.0zM229.4 43.4H238.3V48.0H229.4zM229.4 47.7H242.6V52.4H229.4zM233.7 52.1H242.6V56.7H233.7zM238.0 56.4H247.0V61.0H238.0zM238.0 60.7H251.3V65.4H238.0zM242.3 65.1H255.6V69.7H242.3zM56.4 69.4H61.0V74.0H56.4zM246.7 69.4H255.6V74.0H246.7zM246.7 73.7H259.9V78.4H246.7zM52.1 78.1H56.7V82.7H52.1zM251.0 78.1H259.9V82.7H251.0zM47.8 82.4H52.4V87.1H47.8zM251.0 82.4H264.2V87.1H251.0zM47.8 86.8H52.4V91.4H47.8zM255.3 86.8H268.6V91.4H255.3zM43.5 91.1H48.1V95.7H43.5zM255.3 91.1H268.6V95.7H255.3zM43.5 95.4H48.1V100.1H43.5zM259.6 95.4H268.6V100.1H259.6zM39.1 99.8H43.8V104.4H39.1zM263.9 99.8H272.9V104.4H263.9zM39.1 104.1H43.8V108.7H39.1zM263.9 104.1H277.2V108.7H263.9zM34.8 108.4H39.4V113.1H34.8zM268.3 108.4H277.2V113.1H268.3zM34.8 112.8H39.4V117.4H34.8zM268.3 112.8H281.5V117.4H268.3zM30.5 117.1H35.1V121.7H30.5zM272.6 117.1H281.5V121.7H272.6zM30.5 121.4H35.1V126.1H30.5zM272.6 121.4H285.9V126.1H272.6zM26.2 125.8H35.1V130.4H26.2zM276.9 125.8H285.9V130.4H276.9zM26.2 130.1H30.8V134.8H26.2zM276.9 130.1H285.9V134.8H276.9zM26.2 134.5H30.8V139.1H26.2zM276.9 134.5H290.2V139.1H276.9zM21.8 138.8H30.8V143.4H21.8zM268.3 138.8H290.2V143.4H268.3zM21.8 143.1H30.8V147.8H21.8zM268.3 143.1H290.2V147.8H268.3zM21.8 147.5H30.8V152.1H21.8zM272.6 147.5H290.2V152.1H272.6zM21.8 151.8H30.8V156.4H21.8zM272.6 151.8H285.9V156.4H272.6zM21.8 156.1H30.8V160.8H21.8zM272.6 156.1H290.2V160.8H272.6zM21.8 160.5H30.8V165.1H21.8zM272.6 160.5H290.2V165.1H272.6zM21.8 164.8H30.8V169.4H21.8zM272.6 164.8H290.2V169.4H272.6zM21.8 169.1H30.8V173.8H21.8zM272.6 169.1H290.2V173.8H272.6zM21.8 173.5H30.8V178.1H21.8zM276.9 173.5H290.2V178.1H276.9zM17.5 177.8H30.8V182.5H17.5zM276.9 177.8H290.2V182.5H276.9zM17.5 182.2H30.8V186.8H17.5zM276.9 182.2H290.2V186.8H276.9zM13.2 186.5H30.8V191.1H13.2zM276.9 186.5H294.5V191.1H276.9zM13.2 190.8H30.8V195.5H13.2zM276.9 190.8H294.5V195.5H276.9zM8.9 195.2H26.5V199.8H8.9zM276.9 195.2H294.5V199.8H276.9zM8.9 199.5H26.5V204.1H8.9zM276.9 199.5H294.5V204.1H276.9zM8.9 203.8H26.5V208.5H8.9zM276.9 203.8H294.5V208.5H276.9zM4.5 208.2H26.5V212.8H4.5zM276.9 208.2H294.5V212.8H276.9zM8.9 212.5H26.5V217.1H8.9zM276.9 212.5H294.5V217.1H276.9zM8.9 216.8H26.5V221.5H8.9zM281.2 216.8H294.5V221.5H281.2zM8.9 221.2H26.5V225.8H8.9zM281.2 221.2H294.5V225.8H281.2zM8.9 225.5H26.5V230.1H8.9zM281.2 225.5H294.5V230.1H281.2zM13.2 229.8H26.5V234.5H13.2zM285.6 229.8H294.5V234.5H285.6zM17.5 234.2H26.5V238.8H17.5zM285.6 234.2H294.5V238.8H285.6zM17.5 238.5H26.5V243.2H17.5zM281.2 238.5H294.5V243.2H281.2zM17.5 242.9H26.5V247.5H17.5zM285.6 242.9H294.5V247.5H285.6zM21.8 247.2H26.5V251.8H21.8zM281.2 247.2H294.5V251.8H281.2zM21.8 251.5H30.8V256.2H21.8zM281.2 251.5H290.2V256.2H281.2zM26.2 255.9H30.8V260.5H26.2zM281.2 255.9H290.2V260.5H281.2zM26.2 260.2H30.8V264.8H26.2zM276.9 260.2H290.2V264.8H276.9zM26.2 264.5H30.8V269.2H26.2zM276.9 264.5H285.9V269.2H276.9zM26.2 268.9H35.1V273.5H26.2zM272.6 268.9H285.9V273.5H272.6zM30.5 273.2H39.4V277.8H30.5zM272.6 273.2H281.5V277.8H272.6zM30.5 277.5H39.4V282.2H30.5zM272.6 277.5H281.5V282.2H272.6zM34.8 281.9H43.8V286.5H34.8zM268.3 281.9H277.2V286.5H268.3zM39.1 286.2H48.1V290.9H39.1zM263.9 286.2H277.2V290.9H263.9zM39.1 290.6H52.4V295.2H39.1zM263.9 290.6H277.2V295.2H263.9zM39.1 294.9H52.4V299.5H39.1zM259.6 294.9H272.9V299.5H259.6zM43.5 299.2H56.7V303.9H43.5zM259.6 299.2H272.9V303.9H259.6zM43.5 303.6H56.7V308.2H43.5zM255.3 303.6H268.6V308.2H255.3zM47.8 307.9H61.0V312.5H47.8zM255.3 307.9H268.6V312.5H255.3zM47.8 312.2H61.0V316.9H47.8zM251.0 312.2H268.6V316.9H251.0zM47.8 316.6H65.4V321.2H47.8zM251.0 316.6H268.6V321.2H251.0zM47.8 320.9H65.4V325.5H47.8zM246.7 320.9H264.2V325.5H246.7zM52.1 325.2H65.4V329.9H52.1zM246.7 325.2H264.2V329.9H246.7zM52.1 329.6H69.7V334.2H52.1zM246.7 329.6H264.2V334.2H246.7zM52.1 333.9H69.7V338.6H52.1zM246.7 333.9H264.2V338.6H246.7zM56.4 338.3H74.0V342.9H56.4zM242.3 338.3H264.2V342.9H242.3zM56.4 342.6H74.0V347.2H56.4zM238.0 342.6H264.2V347.2H238.0zM56.4 346.9H78.3V351.6H56.4zM229.4 346.9H264.2V351.6H229.4zM60.7 351.3H82.7V355.9H60.7zM220.7 351.3H259.9V355.9H220.7zM65.1 355.6H91.3V360.2H65.1zM216.4 355.6H251.3V360.2H216.4zM69.4 359.9H100.0V364.6H69.4zM212.1 359.9H242.6V364.6H212.1zM73.7 364.3H104.3V368.9H73.7zM212.1 364.3H229.7V368.9H212.1zM82.4 368.6H112.9V373.2H82.4zM207.7 368.6H225.3V373.2H207.7zM91.0 372.9H117.3V377.6H91.0zM203.4 372.9H216.7V377.6H203.4zM99.7 377.3H121.6V381.9H99.7zM199.1 377.3H212.4V381.9H199.1zM104.0 381.6H130.2V386.2H104.0zM186.1 381.6H203.7V386.2H186.1zM112.6 385.9H143.2V390.6H112.6zM181.8 385.9H199.4V390.6H181.8zM117.0 390.3H190.7V394.9H117.0zM125.6 394.6H186.4V399.3H125.6z"/>
<path fill="#fff0f0" d="M285.6 151.8H290.2V156.4H285.6zM289.9 156.1H294.5V160.8H289.9zM17.5 160.5H22.1V165.1H17.5zM289.9 160.5H294.5V165.1H289.9zM17.5 164.8H22.1V169.4H17.5zM289.9 164.8H294.5V169.4H289.9zM13.2 169.1H22.1V173.8H13.2zM289.9 169.1H294.5V173.8H289.9zM13.2 173.5H22.1V178.1H13.2zM289.9 173.5H294.5V178.1H289.9zM13.2 177.8H17.8V182.5H13.2zM289.9 177.8H294.5V182.5H289.9zM8.9 182.2H17.8V186.8H8.9zM289.9 182.2H294.5V186.8H289.9zM8.9 186.5H13.5V191.1H8.9zM294.2 186.5H298.8V191.1H294.2zM8.9 190.8H13.5V195.5H8.9zM294.2 190.8H298.8V195.5H294.2zM294.2 195.2H298.8V199.8H294.2zM4.5 199.5H9.2V204.1H4.5zM294.2 199.5H298.8V204.1H294.2zM4.5 203.8H9.2V208.5H4.5zM294.2 203.8H298.8V208.5H294.2zM294.2 208.2H303.2V212.8H294.2zM4.5 212.5H9.2V217.1H4.5zM294.2 212.5H303.2V217.1H294.2zM4.5 216.8H9.2V221.5H4.5zM294.2 216.8H303.2V221.5H294.2zM0.2 221.2H9.2V225.8H0.2zM294.2 221.2H303.2V225.8H294.2zM4.5 225.5H9.2V230.1H4.5zM294.2 225.5H303.2V230.1H294.2zM4.5 229.8H13.5V234.5H4.5zM294.2 229.8H303.2V234.5H294.2zM4.5 234.2H17.8V238.8H4.5zM294.2 234.2H303.2V238.8H294.2zM8.9 238.5H17.8V243.2H8.9zM294.2 238.5H303.2V243.2H294.2zM13.2 242.9H17.8V247.5H13.2zM294.2 242.9H303.2V247.5H294.2zM13.2 247.2H22.1V251.8H13.2zM294.2 247.2H298.8V251.8H294.2zM17.5 251.5H22.1V256.2H17.5zM289.9 251.5H298.8V256.2H289.9zM17.5 255.9H26.5V260.5H17.5zM289.9 255.9H298.8V260.5H289.9zM17.5 260.2H26.5V264.8H17.5zM289.9 260.2H294.5V264.8H289.9zM21.8 264.5H26.5V269.2H21.8zM285.6 264.5H294.5V269.2H285.6zM21.8 268.9H26.5V273.5H21.8zM285.6 268.9H290.2V273.5H285.6zM21.8 273.2H30.8V277.8H21.8zM281.2 273.2H290.2V277.8H281.2zM26.2 277.5H30.8V282.2H26.2zM281.2 277.5H285.9V282.2H281.2zM26.2 281.9H35.1V286.5H26.2zM276.9 281.9H285.9V286.5H276.9zM30.5 286.2H39.4V290.9H30.5zM276.9 286.2H285.9V290.9H276.9zM30.5 290.6H39.4V295.2H30.5zM276.9 290.6H281.5V295.2H276.9zM30.5 294.9H39.4V299.5H30.5zM272.6 294.9H281.5V299.5H272.6zM34.8 299.2H43.8V303.9H34.8zM272.6 299.2H277.2V303.9H272.6zM34.8 303.6H43.8V308.2H34.8zM268.3 303.6H277.2V308.2H268.3zM39.1 307.9H48.1V312.5H39.1zM268.3 307.9H277.2V312.5H268.3zM39.1 312.2H48.1V316.9H39.1zM268.3 312.2H277.2V316.9H268.3zM39.1 316.6H48.1V321.2H39.1zM268.3 316.6H277.2V321.2H268.3zM39.1 320.9H48.1V325.5H39.1zM263.9 320.9H272.9V325.5H263.9zM43.5 325.2H52.4V329.9H43.5zM263.9 325.2H272.9V329.9H263.9zM43.5 329.6H52.4V334.2H43.5zM263.9 329.6H272.9V334.2H263.9zM43.5 333.9H52.4V338.6H43.5zM263.9 333.9H272.9V338.6H263.9zM47.8 338.3H56.7V342.9H47.8zM263.9 338.3H272.9V342.9H263.9zM47.8 342.6H56.7V347.2H47.8zM263.9 342.6H272.9V347.2H263.9zM52.1 346.9H56.7V351.6H52.1zM263.9 346.9H272.9V351.6H263.9zM52.1 351.3H61.0V355.9H52.1zM259.6 351.3H272.9V355.9H259.6zM52.1 355.6H65.4V360.2H52.1zM251.0 355.6H268.6V360.2H251.0zM56.4 359.9H69.7V364.6H56.4zM242.3 359.9H259.9V364.6H242.3zM60.7 364.3H74.0V368.9H60.7zM229.4 364.3H255.6V368.9H229.4zM65.1 368.6H82.7V373.2H65.1zM225.0 368.6H247.0V373.2H225.0zM73.7 372.9H91.3V377.6H73.7zM216.4 372.9H229.7V377.6H216.4zM82.4 377.3H100.0V381.9H82.4zM212.1 377.3H225.3V381.9H212.1zM91.0 381.6H104.3V386.2H91.0zM203.4 381.6H216.7V386.2H203.4zM95.3 385.9H112.9V390.6H95.3zM199.1 385.9H212.4V390.6H199.1zM104.0 390.3H117.3V394.9H104.0zM190.4 390.3H203.7V394.9H190.4zM108.3 394.6H125.9V399.3H108.3zM186.1 394.6H195.1V399.3H186.1zM117.0 399.0H190.7V403.6H117.0zM129.9 403.3H186.4V407.9H129.9z"/>
<path fill="#ffd2d2" d="M294.2 169.1H298.8V173.8H294.2zM294.2 173.5H298.8V178.1H294.2zM294.2 177.8H303.2V182.5H294.2zM294.2 182.2H303.2V186.8H294.2zM298.5 186.5H303.2V191.1H298.5zM298.5 190.8H303.2V195.5H298.5zM298.5 195.2H307.5V199.8H298.5zM298.5 199.5H307.5V204.1H298.5zM298.5 203.8H307.5V208.5H298.5zM302.9 208.2H307.5V212.8H302.9zM302.9 212.5H307.5V217.1H302.9zM302.9 216.8H311.8V221.5H302.9zM302.9 221.2H311.8V225.8H302.9zM0.2 225.5H4.8V230.1H0.2zM302.9 225.5H311.8V230.1H302.9zM0.2 229.8H4.8V234.5H0.2zM302.9 229.8H311.8V234.5H302.9zM0.2 234.2H4.8V238.8H0.2zM302.9 234.2H307.5V238.8H302.9zM0.2 238.5H9.2V243.2H0.2zM302.9 238.5H307.5V243.2H302.9zM4.5 242.9H13.5V247.5H4.5zM302.9 242.9H307.5V247.5H302.9zM8.9 247.2H13.5V251.8H8.9zM298.5 247.2H307.5V251.8H298.5zM8.9 251.5H17.8V256.2H8.9zM298.5 251.5H303.2V256.2H298.5zM13.2 255.9H17.8V260.5H13.2zM298.5 255.9H303.2V260.5H298.5zM13.2 260.2H17.8V264.8H13.2zM294.2 260.2H303.2V264.8H294.2zM13.2 264.5H22.1V269.2H13.2zM294.2 264.5H298.8V269.2H294.2zM17.5 268.9H22.1V273.5H17.5zM289.9 268.9H294.5V273.5H289.9zM17.5 273.2H22.1V277.8H17.5zM289.9 273.2H294.5V277.8H289.9zM17.5 277.5H26.5V282.2H17.5zM285.6 277.5H290.2V282.2H285.6zM17.5 281.9H26.5V286.5H17.5zM285.6 281.9H290.2V286.5H285.6zM21.8 286.2H30.8V290.9H21.8zM21.8 290.6H30.8V295.2H21.8zM281.2 290.6H285.9V295.2H281.2zM21.8 294.9H30.8V299.5H21.8zM281.2 294.9H285.9V299.5H281.2zM26.2 299.2H35.1V303.9H26.2zM276.9 299.2H281.5V303.9H276.9zM26.2 303.6H35.1V308.2H26.2zM276.9 303.6H281.5V308.2H276.9zM26.2 307.9H39.4V312.5H26.2zM276.9 307.9H281.5V312.5H276.9zM30.5 312.2H39.4V316.9H30.5zM276.9 312.2H281.5V316.9H276.9zM30.5 316.6H39.4V321.2H30.5zM276.9 316.6H281.5V321.2H276.9zM30.5 320.9H39.4V325.5H30.5zM272.6 320.9H281.5V325.5H272.6zM34.8 325.2H43.8V329.9H34.8zM272.6 325.2H281.5V329.9H272.6zM34.8 329.6H43.8V334.2H34.8zM272.6 329.6H281.5V334.2H272.6zM34.8 333.9H43.8V338.6H34.8zM272.6 333.9H281.5V338.6H272.6zM39.1 338.3H48.1V342.9H39.1zM272.6 338.3H281.5V342.9H272.6zM39.1 342.6H48.1V347.2H39.1zM272.6 342.6H285.9V347.2H272.6zM39.1 346.9H52.4V351.6H39.1zM272.6 346.9H285.9V351.6H272.6zM43.5 351.3H52.4V355.9H43.5zM272.6 351.3H285.9V355.9H272.6zM43.5 355.6H52.4V360.2H43.5zM268.3 355.6H281.5V360.2H268.3zM39.1 359.9H56.7V364.6H39.1zM259.6 359.9H277.2V364.6H259.6zM30.5 364.3H61.0V368.9H30.5zM255.3 364.3H268.6V368.9H255.3zM34.8 368.6H65.4V373.2H34.8zM246.7 368.6H264.2V373.2H246.7zM52.1 372.9H74.0V377.6H52.1zM229.4 372.9H259.9V377.6H229.4zM60.7 377.3H82.7V381.9H60.7zM225.0 377.3H251.3V381.9H225.0zM78.0 381.6H91.3V386.2H78.0zM216.4 381.6H242.6V386.2H216.4zM86.7 385.9H95.6V390.6H86.7zM212.1 385.9H234.0V390.6H212.1zM95.3 390.3H104.3V394.9H95.3zM203.4 390.3H225.3V394.9H203.4zM104.0 394.6H108.6V399.3H104.0zM194.8 394.6H225.3V399.3H194.8zM108.3 399.0H117.3V403.6H108.3zM190.4 399.0H199.4V403.6H190.4zM207.7 399.0H221.0V403.6H207.7zM117.0 403.3H130.2V407.9H117.0zM186.1 403.3H190.7V407.9H186.1zM212.1 403.3H216.7V407.9H212.1zM125.6 407.6H186.4V412.3H125.6zM129.9 412.0H182.1V416.6H129.9z"/>
<path fill="#ffb4b4" d="M307.2 234.2H311.8V238.8H307.2zM307.2 238.5H311.8V243.2H307.2zM0.2 242.9H4.8V247.5H0.2zM307.2 242.9H311.8V247.5H307.2zM0.2 247.2H9.2V251.8H0.2zM307.2 247.2H311.8V251.8H307.2zM0.2 251.5H9.2V256.2H0.2zM302.9 251.5H307.5V256.2H302.9zM4.5 255.9H13.5V260.5H4.5zM302.9 255.9H307.5V260.5H302.9zM4.5 260.2H13.5V264.8H4.5zM8.9 264.5H13.5V269.2H8.9zM298.5 264.5H303.2V269.2H298.5zM8.9 268.9H17.8V273.5H8.9zM294.2 268.9H298.8V273.5H294.2zM8.9 273.2H17.8V277.8H8.9zM294.2 273.2H298.8V277.8H294.2zM8.9 277.5H17.8V282.2H8.9zM289.9 277.5H294.5V282.2H289.9zM13.2 281.9H17.8V286.5H13.2zM289.9 281.9H294.5V286.5H289.9zM13.2 286.2H22.1V290.9H13.2zM285.6 286.2H294.5V290.9H285.6zM13.2 290.6H22.1V295.2H13.2zM285.6 290.6H294.5V295.2H285.6zM17.5 294.9H22.1V299.5H17.5zM285.6 294.9H290.2V299.5H285.6zM17.5 299.2H26.5V303.9H17.5zM281.2 299.2H290.2V303.9H281.2zM17.5 303.6H26.5V308.2H17.5zM281.2 303.6H290.2V308.2H281.2zM21.8 307.9H26.5V312.5H21.8zM281.2 307.9H290.2V312.5H281.2zM21.8 312.2H30.8V316.9H21.8zM281.2 312.2H290.2V316.9H281.2zM21.8 316.6H30.8V321.2H21.8zM281.2 316.6H290.2V321.2H281.2zM26.2 320.9H30.8V325.5H26.2zM281.2 320.9H290.2V325.5H281.2zM26.2 325.2H35.1V329.9H26.2zM281.2 325.2H290.2V329.9H281.2zM26.2 329.6H35.1V334.2H26.2zM281.2 329.6H290.2V334.2H281.2zM26.2 333.9H35.1V338.6H26.2zM281.2 333.9H290.2V338.6H281.2zM21.8 338.3H39.4V342.9H21.8zM281.2 338.3H294.5V342.9H281.2zM21.8 342.6H39.4V347.2H21.8zM285.6 342.6H294.5V347.2H285.6zM21.8 346.9H39.4V351.6H21.8zM285.6 346.9H290.2V351.6H285.6zM26.2 351.3H43.8V355.9H26.2zM285.6 351.3H290.2V355.9H285.6zM26.2 355.6H43.8V360.2H26.2zM281.2 355.6H285.9V360.2H281.2zM30.5 359.9H39.4V364.6H30.5zM276.9 359.9H285.9V364.6H276.9zM268.3 364.3H281.5V368.9H268.3zM263.9 368.6H277.2V373.2H263.9zM39.1 372.9H52.4V377.6H39.1zM259.6 372.9H268.6V377.6H259.6zM43.5 377.3H61.0V381.9H43.5zM251.0 377.3H264.2V381.9H251.0zM47.8 381.6H78.3V386.2H47.8zM242.3 381.6H259.9V386.2H242.3zM52.1 385.9H87.0V390.6H52.1zM233.7 385.9H251.3V390.6H233.7zM56.4 390.3H65.4V394.9H56.4zM86.7 390.3H95.6V394.9H86.7zM225.0 390.3H242.6V394.9H225.0zM95.3 394.6H104.3V399.3H95.3zM225.0 394.6H234.0V399.3H225.0zM104.0 399.0H108.6V403.6H104.0zM199.1 399.0H208.0V403.6H199.1zM220.7 399.0H229.7V403.6H220.7zM108.3 403.3H117.3V407.9H108.3zM190.4 403.3H195.1V407.9H190.4zM203.4 403.3H212.4V407.9H203.4zM216.4 403.3H225.3V407.9H216.4zM117.0 407.6H125.9V412.3H117.0zM186.1 407.6H190.7V412.3H186.1zM207.7 407.6H216.7V412.3H207.7zM121.3 412.0H130.2V416.6H121.3zM181.8 412.0H190.7V416.6H181.8zM121.3 416.3H190.7V420.9H121.3z"/>
<path fill="#ff9696" d="M307.2 251.5H311.8V256.2H307.2zM0.2 255.9H4.8V260.5H0.2zM307.2 255.9H311.8V260.5H307.2zM0.2 260.2H4.8V264.8H0.2zM302.9 260.2H311.8V264.8H302.9zM0.2 264.5H9.2V269.2H0.2zM302.9 264.5H307.5V269.2H302.9zM4.5 268.9H9.2V273.5H4.5zM298.5 268.9H307.5V273.5H298.5zM4.5 273.2H9.2V277.8H4.5zM298.5 273.2H303.2V277.8H298.5zM4.5 277.5H9.2V282.2H4.5zM294.2 277.5H303.2V282.2H294.2zM8.9 281.9H13.5V286.5H8.9zM294.2 281.9H298.8V286.5H294.2zM8.9 286.2H13.5V290.9H8.9zM294.2 286.2H298.8V290.9H294.2zM8.9 290.6H13.5V295.2H8.9zM294.2 290.6H298.8V295.2H294.2zM8.9 294.9H17.8V299.5H8.9zM289.9 294.9H298.8V299.5H289.9zM13.2 299.2H17.8V303.9H13.2zM289.9 299.2H298.8V303.9H289.9zM13.2 303.6H17.8V308.2H13.2zM289.9 303.6H298.8V308.2H289.9zM13.2 307.9H22.1V312.5H13.2zM289.9 307.9H298.8V312.5H289.9zM17.5 312.2H22.1V316.9H17.5zM289.9 312.2H298.8V316.9H289.9zM17.5 316.6H22.1V321.2H17.5zM289.9 316.6H298.8V321.2H289.9zM21.8 320.9H26.5V325.5H21.8zM289.9 320.9H294.5V325.5H289.9zM21.8 325.2H26.5V329.9H21.8zM289.9 325.2H298.8V329.9H289.9zM17.5 329.6H26.5V334.2H17.5zM289.9 329.6H298.8V334.2H289.9zM17.5 333.9H26.5V338.6H17.5zM289.9 333.9H298.8V338.6H289.9zM17.5 338.3H22.1V342.9H17.5zM268.3 372.9H272.9V377.6H268.3zM263.9 377.3H268.6V381.9H263.9zM259.6 381.6H264.2V386.2H259.6zM251.0 385.9H259.9V390.6H251.0zM65.1 390.3H87.0V394.9H65.1zM242.3 390.3H251.3V394.9H242.3zM65.1 394.6H78.3V399.3H65.1zM86.7 394.6H95.6V399.3H86.7zM233.7 394.6H242.6V399.3H233.7zM69.4 399.0H74.0V403.6H69.4zM95.3 399.0H104.3V403.6H95.3zM229.4 399.0H238.3V403.6H229.4zM104.0 403.3H108.6V407.9H104.0zM194.8 403.3H203.7V407.9H194.8zM225.0 403.3H229.7V407.9H225.0zM108.3 407.6H117.3V412.3H108.3zM190.4 407.6H195.1V412.3H190.4zM203.4 407.6H208.0V412.3H203.4zM216.4 407.6H221.0V412.3H216.4zM104.0 412.0H108.6V416.6H104.0zM112.6 412.0H121.6V416.6H112.6zM190.4 412.0H195.1V416.6H190.4zM117.0 416.3H121.6V420.9H117.0zM190.4 416.3H199.4V420.9H190.4z"/>
<path fill="#ff7878" d="M307.2 264.5H311.8V269.2H307.2zM0.2 268.9H4.8V273.5H0.2zM307.2 268.9H311.8V273.5H307.2zM0.2 273.2H4.8V277.8H0.2zM302.9 273.2H311.8V277.8H302.9zM0.2 277.5H4.8V282.2H0.2zM302.9 277.5H307.5V282.2H302.9zM4.5 281.9H9.2V286.5H4.5zM298.5 281.9H307.5V286.5H298.5zM4.5 286.2H9.2V290.9H4.5zM298.5 286.2H307.5V290.9H298.5zM4.5 290.6H9.2V295.2H4.5zM298.5 290.6H307.5V295.2H298.5zM4.5 294.9H9.2V299.5H4.5zM298.5 294.9H307.5V299.5H298.5zM8.9 299.2H13.5V303.9H8.9zM298.5 299.2H303.2V303.9H298.5zM8.9 303.6H13.5V308.2H8.9zM298.5 303.6H303.2V308.2H298.5zM8.9 307.9H13.5V312.5H8.9zM298.5 307.9H303.2V312.5H298.5zM8.9 312.2H17.8V316.9H8.9zM298.5 312.2H307.5V316.9H298.5zM8.9 316.6H17.8V321.2H8.9zM298.5 316.6H307.5V321.2H298.5zM8.9 320.9H22.1V325.5H8.9zM294.2 320.9H303.2V325.5H294.2zM13.2 325.2H22.1V329.9H13.2zM298.5 325.2H303.2V329.9H298.5zM13.2 329.6H17.8V334.2H13.2zM259.6 385.9H264.2V390.6H259.6zM251.0 390.3H259.9V394.9H251.0zM78.0 394.6H87.0V399.3H78.0zM242.3 394.6H247.0V399.3H242.3zM73.7 399.0H95.6V403.6H73.7zM238.0 399.0H242.6V403.6H238.0zM78.0 403.3H104.3V407.9H78.0zM229.4 403.3H238.3V407.9H229.4zM86.7 407.6H108.6V412.3H86.7zM194.8 407.6H203.7V412.3H194.8zM220.7 407.6H225.3V412.3H220.7zM108.3 412.0H112.9V416.6H108.3zM194.8 412.0H208.0V416.6H194.8z"/>
<path fill="#ff5a5a" d="M307.2 277.5H311.8V282.2H307.2zM0.2 281.9H4.8V286.5H0.2zM307.2 281.9H311.8V286.5H307.2zM0.2 286.2H4.8V290.9H0.2zM307.2 286.2H311.8V290.9H307.2zM0.2 290.6H4.8V295.2H0.2zM307.2 290.6H311.8V295.2H307.2zM0.2 294.9H4.8V299.5H0.2zM307.2 294.9H311.8V299.5H307.2zM0.2 299.2H9.2V303.9H0.2zM302.9 299.2H311.8V303.9H302.9zM4.5 303.6H9.2V308.2H4.5zM302.9 303.6H311.8V308.2H302.9zM4.5 307.9H9.2V312.5H4.5zM302.9 307.9H307.5V312.5H302.9zM4.5 312.2H9.2V316.9H4.5z"/>
<path fill="#000" d="M154.5 13.6h4.3v4.3h-4.3zM115.8 22.7h4.3v4.3h-4.3zM192.6 22.7h4.3v4.3h-4.3zM94.1 41.0h4.3v4.3h-4.3zM214.3 41.0h4.3v4.3h-4.3zM115.8 63.1h4.3v4.3h-4.3zM192.6 63.1h4.3v4.3h-4.3zM81.4 73.1h4.3v4.3h-4.3zM154.5 73.1h4.3v4.3h-4.3zM227.0 73.1h4.3v4.3h-4.3zM59.7 77.1h4.3v4.3h-4.3zM248.7 77.1h4.3v4.3h-4.3zM46.6 94.8h4.3v4.3h-4.3zM261.8 94.8h4.3v4.3h-4.3zM107.1 131.5h4.3v4.3h-4.3zM201.3 131.5h4.3v4.3h-4.3zM64.0 135.6h4.3v4.3h-4.3zM154.5 135.6h4.3v4.3h-4.3zM244.4 135.6h4.3v4.3h-4.3zM38.3 140.6h4.3v4.3h-4.3zM270.1 140.6h4.3v4.3h-4.3zM29.6 149.3h4.3v4.3h-4.3zM278.8 149.3h4.3v4.3h-4.3zM20.9 207.7h4.3v4.3h-4.3zM38.3 207.7h4.3v4.3h-4.3zM59.7 207.7h4.3v4.3h-4.3zM107.1 207.7h4.3v4.3h-4.3zM154.5 207.7h4.3v4.3h-4.3zM201.3 207.7h4.3v4.3h-4.3zM244.4 207.7h4.3v4.3h-4.3zM270.1 207.7h4.3v4.3h-4.3zM282.8 207.7h4.3v4.3h-4.3zM29.6 266.2h4.3v4.3h-4.3zM278.8 266.2h4.3v4.3h-4.3zM38.3 274.8h4.3v4.3h-4.3zM270.1 274.8h4.3v4.3h-4.3zM64.0 279.9h4.3v4.3h-4.3zM154.5 279.9h4.3v4.3h-4.3zM244.4 279.9h4.3v4.3h-4.3zM107.1 284.2h4.3v4.3h-4.3zM201.3 284.2h4.3v4.3h-4.3zM46.6 320.6h4.3v4.3h-4.3zM261.8 320.6h4.3v4.3h-4.3zM59.7 338.3h4.3v4.3h-4.3zM248.7 338.3h4.3v4.3h-4.3zM81.4 343.0h4.3v4.3h-4.3zM154.5 343.0h4.3v4.3h-4.3zM227.0 343.0h4.3v4.3h-4.3zM115.8 352.0h4.3v4.3h-4.3zM192.6 352.0h4.3v4.3h-4.3zM77.0 365.4h4.3v4.3h-4.3zM231.4 365.4h4.3v4.3h-4.3zM94.1 374.4h4.3v4.3h-4.3zM214.3 374.4h4.3v4.3h-4.3zM154.5 387.8h4.3v4.3h-4.3zM115.8 392.8h4.3v4.3h-4.3zM192.6 392.8h4.3v4.3h-4.3zM154.5 401.8h4.3v4.3h-4.3z"/>
</g>
<ellipse cx="1123.5" cy="263.4" rx="26.2" ry="28.9" fill="none" stroke="#f00" stroke-width="6.6"/>
<clipPath id="mc2"><rect width="315.6" height="420.6"/></clipPath>
<g transform="translate(1707.3,55.8)" shape-rendering="crispEdges" clip-path="url(#mc2)">
<rect width="315.6" height="420.6" fill="#000"/>
<path fill="#9696ff" d="M117.8 82.9H139.7V87.6H117.8zM113.4 87.3H152.6V91.9H113.4zM195.6 87.3H213.2V91.9H195.6zM109.1 91.6H165.6V96.2H109.1zM182.6 91.6H213.2V96.2H182.6zM109.1 95.9H217.5V100.6H109.1zM109.1 100.3H221.8V104.9H109.1zM109.1 104.6H221.8V109.2H109.1zM109.1 108.9H221.8V113.6H109.1zM109.1 113.3H221.8V117.9H109.1zM109.1 117.6H217.5V122.2H109.1zM109.1 121.9H204.5V126.6H109.1zM109.1 126.3H187.2V130.9H109.1zM109.1 130.6H174.3V135.3H109.1zM113.4 135.0H165.6V139.6H113.4zM113.4 139.3H157.0V143.9H113.4zM117.8 143.6H152.6V148.3H117.8zM122.1 148.0H148.3V152.6H122.1zM126.4 152.3H131.0V156.9H126.4zM117.8 208.7H169.9V213.3H117.8zM113.4 213.0H187.2V217.6H113.4zM109.1 217.3H195.9V222.0H109.1zM104.8 221.7H204.5V226.3H104.8zM104.8 226.0H213.2V230.6H104.8zM104.8 230.3H213.2V235.0H104.8zM104.8 234.7H213.2V239.3H104.8zM109.1 239.0H213.2V243.7H109.1zM109.1 243.4H208.8V248.0H109.1zM113.4 247.7H204.5V252.3H113.4zM113.4 252.0H200.2V256.7H113.4zM117.8 256.4H191.5V261.0H117.8zM122.1 260.7H187.2V265.3H122.1zM126.4 265.0H178.6V269.7H126.4zM135.0 269.4H161.3V274.0H135.0z"/>
<path fill="#b4b4ff" d="M221.5 48.2H230.5V52.9H221.5zM221.5 52.6H230.5V57.2H221.5zM191.2 56.9H230.5V61.5H191.2zM109.1 61.2H161.3V65.9H109.1zM178.3 61.2H230.5V65.9H178.3zM100.5 65.6H230.5V70.2H100.5zM96.1 69.9H234.8V74.5H96.1zM96.1 74.2H234.8V78.9H96.1zM91.8 78.6H239.1V83.2H91.8zM87.5 82.9H118.1V87.6H87.5zM139.4 82.9H239.1V87.6H139.4zM87.5 87.3H113.7V91.9H87.5zM152.3 87.3H195.9V91.9H152.3zM212.9 87.3H243.4V91.9H212.9zM87.5 91.6H109.4V96.2H87.5zM165.3 91.6H182.9V96.2H165.3zM212.9 91.6H243.4V96.2H212.9zM87.5 95.9H109.4V100.6H87.5zM217.2 95.9H247.8V100.6H217.2zM87.5 100.3H109.4V104.9H87.5zM221.5 100.3H247.8V104.9H221.5zM87.5 104.6H109.4V109.2H87.5zM221.5 104.6H252.1V109.2H221.5zM87.5 108.9H109.4V113.6H87.5zM221.5 108.9H252.1V113.6H221.5zM87.5 113.3H109.4V117.9H87.5zM221.5 113.3H252.1V117.9H221.5zM87.5 117.6H109.4V122.2H87.5zM217.2 117.6H252.1V122.2H217.2zM83.2 121.9H109.4V126.6H83.2zM204.2 121.9H256.4V126.6H204.2zM83.2 126.3H109.4V130.9H83.2zM186.9 126.3H256.4V130.9H186.9zM83.2 130.6H109.4V135.3H83.2zM174.0 130.6H256.4V135.3H174.0zM83.2 135.0H113.7V139.6H83.2zM165.3 135.0H256.4V139.6H165.3zM83.2 139.3H113.7V143.9H83.2zM156.7 139.3H252.1V143.9H156.7zM78.8 143.6H118.1V148.3H78.8zM152.3 143.6H243.4V148.3H152.3zM78.8 148.0H122.4V152.6H78.8zM148.0 148.0H239.1V152.6H148.0zM78.8 152.3H126.7V156.9H78.8zM130.7 152.3H234.8V156.9H130.7zM78.8 156.6H230.5V161.3H78.8zM74.5 161.0H230.5V165.6H74.5zM74.5 165.3H226.1V169.9H74.5zM74.5 169.6H221.8V174.3H74.5zM74.5 174.0H221.8V178.6H74.5zM74.5 178.3H221.8V183.0H74.5zM74.5 182.7H226.1V187.3H74.5zM70.2 187.0H226.1V191.6H70.2zM70.2 191.3H230.5V196.0H70.2zM70.2 195.7H234.8V200.3H70.2zM70.2 200.0H239.1V204.6H70.2zM70.2 204.3H239.1V209.0H70.2zM70.2 208.7H118.1V213.3H70.2zM169.6 208.7H243.4V213.3H169.6zM65.9 213.0H113.7V217.6H65.9zM186.9 213.0H247.8V217.6H186.9zM65.9 217.3H109.4V222.0H65.9zM195.6 217.3H247.8V222.0H195.6zM65.9 221.7H105.1V226.3H65.9zM204.2 221.7H252.1V226.3H204.2zM65.9 226.0H105.1V230.6H65.9zM212.9 226.0H252.1V230.6H212.9zM65.9 230.3H105.1V235.0H65.9zM212.9 230.3H256.4V235.0H212.9zM65.9 234.7H105.1V239.3H65.9zM212.9 234.7H256.4V239.3H212.9zM65.9 239.0H109.4V243.7H65.9zM212.9 239.0H260.7V243.7H212.9zM65.9 243.4H109.4V248.0H65.9zM208.5 243.4H260.7V248.0H208.5zM65.9 247.7H113.7V252.3H65.9zM204.2 247.7H256.4V252.3H204.2zM70.2 252.0H113.7V256.7H70.2zM199.9 252.0H252.1V256.7H199.9zM70.2 256.4H118.1V261.0H70.2zM191.2 256.4H243.4V261.0H191.2zM74.5 260.7H122.4V265.3H74.5zM186.9 260.7H239.1V265.3H186.9zM83.2 265.0H126.7V269.7H83.2zM178.3 265.0H230.5V269.7H178.3zM87.5 269.4H135.3V274.0H87.5zM161.0 269.4H221.8V274.0H161.0zM91.8 273.7H217.5V278.3H91.8zM109.1 278.0H204.5V282.7H109.1zM109.1 282.4H200.2V287.0H109.1zM113.4 286.7H157.0V291.4H113.4zM117.8 291.1H152.6V295.7H117.8z"/>
<path fill="#d2d2ff" d="M130.7 0.5H144.0V5.2H130.7zM122.1 4.9H144.0V9.5H122.1zM113.4 9.2H144.0V13.8H113.4zM109.1 13.5H148.3V18.2H109.1zM104.8 17.9H148.3V22.5H104.8zM195.6 17.9H200.2V22.5H195.6zM100.5 22.2H152.6V26.9H100.5zM191.2 22.2H213.2V26.9H191.2zM96.1 26.6H152.6V31.2H96.1zM182.6 26.6H217.5V31.2H182.6zM91.8 30.9H221.8V35.5H91.8zM87.5 35.2H226.1V39.9H87.5zM87.5 39.6H230.5V44.2H87.5zM83.2 43.9H234.8V48.5H83.2zM78.8 48.2H221.8V52.9H78.8zM230.2 48.2H239.1V52.9H230.2zM74.5 52.6H221.8V57.2H74.5zM230.2 52.6H243.4V57.2H230.2zM70.2 56.9H191.5V61.5H70.2zM230.2 56.9H243.4V61.5H230.2zM70.2 61.2H109.4V65.9H70.2zM161.0 61.2H178.6V65.9H161.0zM230.2 61.2H247.8V65.9H230.2zM65.9 65.6H100.8V70.2H65.9zM230.2 65.6H247.8V70.2H230.2zM65.9 69.9H96.4V74.5H65.9zM234.5 69.9H252.1V74.5H234.5zM65.9 74.2H96.4V78.9H65.9zM234.5 74.2H252.1V78.9H234.5zM65.9 78.6H92.1V83.2H65.9zM238.8 78.6H256.4V83.2H238.8zM65.9 82.9H87.8V87.6H65.9zM238.8 82.9H256.4V87.6H238.8zM65.9 87.3H87.8V91.9H65.9zM243.1 87.3H260.7V91.9H243.1zM61.5 91.6H87.8V96.2H61.5zM243.1 91.6H260.7V96.2H243.1zM61.5 95.9H87.8V100.6H61.5zM247.5 95.9H265.0V100.6H247.5zM57.2 100.3H87.8V104.9H57.2zM247.5 100.3H265.0V104.9H247.5zM57.2 104.6H87.8V109.2H57.2zM251.8 104.6H269.4V109.2H251.8zM52.9 108.9H87.8V113.6H52.9zM251.8 108.9H269.4V113.6H251.8zM52.9 113.3H87.8V117.9H52.9zM251.8 113.3H273.7V117.9H251.8zM52.9 117.6H87.8V122.2H52.9zM251.8 117.6H273.7V122.2H251.8zM48.6 121.9H83.5V126.6H48.6zM256.1 121.9H278.0V126.6H256.1zM44.3 126.3H83.5V130.9H44.3zM256.1 126.3H278.0V130.9H256.1zM44.3 130.6H83.5V135.3H44.3zM256.1 130.6H282.3V135.3H256.1zM44.3 135.0H83.5V139.6H44.3zM256.1 135.0H282.3V139.6H256.1zM44.3 139.3H83.5V143.9H44.3zM251.8 139.3H282.3V143.9H251.8zM44.3 143.6H79.1V148.3H44.3zM243.1 143.6H282.3V148.3H243.1zM44.3 148.0H79.1V152.6H44.3zM238.8 148.0H273.7V152.6H238.8zM44.3 152.3H79.1V156.9H44.3zM234.5 152.3H265.0V156.9H234.5zM44.3 156.6H79.1V161.3H44.3zM230.2 156.6H265.0V161.3H230.2zM44.3 161.0H74.8V165.6H44.3zM230.2 161.0H265.0V165.6H230.2zM48.6 165.3H74.8V169.9H48.6zM225.8 165.3H260.7V169.9H225.8zM48.6 169.6H74.8V174.3H48.6zM221.5 169.6H260.7V174.3H221.5zM48.6 174.0H74.8V178.6H48.6zM221.5 174.0H260.7V178.6H221.5zM48.6 178.3H74.8V183.0H48.6zM221.5 178.3H256.4V183.0H221.5zM48.6 182.7H74.8V187.3H48.6zM225.8 182.7H260.7V187.3H225.8zM48.6 187.0H70.5V191.6H48.6zM225.8 187.0H260.7V191.6H225.8zM48.6 191.3H70.5V196.0H48.6zM230.2 191.3H260.7V196.0H230.2zM48.6 195.7H70.5V200.3H48.6zM234.5 195.7H265.0V200.3H234.5zM48.6 200.0H70.5V204.6H48.6zM238.8 200.0H265.0V204.6H238.8zM48.6 204.3H70.5V209.0H48.6zM238.8 204.3H269.4V209.0H238.8zM44.3 208.7H70.5V213.3H44.3zM243.1 208.7H269.4V213.3H243.1zM44.3 213.0H66.2V217.6H44.3zM247.5 213.0H269.4V217.6H247.5zM44.3 217.3H66.2V222.0H44.3zM247.5 217.3H273.7V222.0H247.5zM44.3 221.7H66.2V226.3H44.3zM251.8 221.7H273.7V226.3H251.8zM44.3 226.0H66.2V230.6H44.3zM251.8 226.0H273.7V230.6H251.8zM44.3 230.3H66.2V235.0H44.3zM256.1 230.3H273.7V235.0H256.1zM44.3 234.7H66.2V239.3H44.3zM256.1 234.7H273.7V239.3H256.1zM48.6 239.0H66.2V243.7H48.6zM260.4 239.0H278.0V243.7H260.4zM48.6 243.4H66.2V248.0H48.6zM260.4 243.4H278.0V248.0H260.4zM48.6 247.7H66.2V252.3H48.6zM256.1 247.7H278.0V252.3H256.1zM48.6 252.0H70.5V256.7H48.6zM251.8 252.0H278.0V256.7H251.8zM48.6 256.4H70.5V261.0H48.6zM243.1 256.4H278.0V261.0H243.1zM48.6 260.7H74.8V265.3H48.6zM238.8 260.7H278.0V265.3H238.8zM48.6 265.0H83.5V269.7H48.6zM230.2 265.0H273.7V269.7H230.2zM52.9 269.4H87.8V274.0H52.9zM221.5 269.4H269.4V274.0H221.5zM52.9 273.7H92.1V278.3H52.9zM217.2 273.7H269.4V278.3H217.2zM52.9 278.0H109.4V282.7H52.9zM204.2 278.0H243.4V282.7H204.2zM247.5 278.0H265.0V282.7H247.5zM57.2 282.4H109.4V287.0H57.2zM199.9 282.4H239.1V287.0H199.9zM61.5 286.7H113.7V291.4H61.5zM156.7 286.7H234.8V291.4H156.7zM70.2 291.1H118.1V295.7H70.2zM152.3 291.1H226.1V295.7H152.3zM78.8 295.4H221.8V300.0H78.8zM83.2 299.7H217.5V304.4H83.2zM87.5 304.1H217.5V308.7H87.5zM91.8 308.4H213.2V313.0H91.8zM91.8 312.7H144.0V317.4H91.8zM169.6 312.7H213.2V317.4H169.6zM91.8 317.1H139.7V321.7H91.8zM174.0 317.1H213.2V321.7H174.0zM91.8 321.4H135.3V326.0H91.8zM178.3 321.4H213.2V326.0H178.3zM91.8 325.7H135.3V330.4H91.8zM178.3 325.7H213.2V330.4H178.3zM65.9 330.1H135.3V334.7H65.9zM178.3 330.1H213.2V334.7H178.3zM65.9 334.4H87.8V339.1H65.9zM96.1 334.4H135.3V339.1H96.1zM174.0 334.4H208.8V339.1H174.0zM65.9 338.8H83.5V343.4H65.9zM100.5 338.8H135.3V343.4H100.5zM169.6 338.8H204.5V343.4H169.6zM109.1 343.1H131.0V347.7H109.1zM165.3 343.1H204.5V347.7H165.3zM126.4 347.4H131.0V352.1H126.4zM161.0 347.4H200.2V352.1H161.0zM161.0 351.8H191.5V356.4H161.0zM156.7 356.1H187.2V360.7H156.7zM161.0 360.4H182.9V365.1H161.0z"/>
<path fill="#f0f0ff" d="M143.7 0.5H182.9V5.2H143.7zM143.7 4.9H191.5V9.5H143.7zM143.7 9.2H200.2V13.8H143.7zM148.0 13.5H204.5V18.2H148.0zM148.0 17.9H195.9V22.5H148.0zM199.9 17.9H208.8V22.5H199.9zM96.1 22.2H100.8V26.9H96.1zM152.3 22.2H191.5V26.9H152.3zM212.9 22.2H217.5V26.9H212.9zM91.8 26.6H96.4V31.2H91.8zM152.3 26.6H182.9V31.2H152.3zM217.2 26.6H221.8V31.2H217.2zM87.5 30.9H92.1V35.5H87.5zM221.5 30.9H226.1V35.5H221.5zM83.2 35.2H87.8V39.9H83.2zM225.8 35.2H230.5V39.9H225.8zM78.8 39.6H87.8V44.2H78.8zM230.2 39.6H234.8V44.2H230.2zM74.5 43.9H83.5V48.5H74.5zM234.5 43.9H239.1V48.5H234.5zM74.5 48.2H79.1V52.9H74.5zM70.2 52.6H74.8V57.2H70.2zM65.9 56.9H70.5V61.5H65.9zM243.1 56.9H247.8V61.5H243.1zM61.5 61.2H70.5V65.9H61.5zM247.5 61.2H252.1V65.9H247.5zM61.5 65.6H66.2V70.2H61.5zM247.5 65.6H252.1V70.2H247.5zM57.2 69.9H66.2V74.5H57.2zM251.8 69.9H256.4V74.5H251.8zM57.2 74.2H66.2V78.9H57.2zM251.8 74.2H256.4V78.9H251.8zM52.9 78.6H66.2V83.2H52.9zM256.1 78.6H260.7V83.2H256.1zM48.6 82.9H66.2V87.6H48.6zM256.1 82.9H265.0V87.6H256.1zM48.6 87.3H66.2V91.9H48.6zM260.4 87.3H265.0V91.9H260.4zM44.3 91.6H61.8V96.2H44.3zM260.4 91.6H269.4V96.2H260.4zM44.3 95.9H61.8V100.6H44.3zM264.7 95.9H269.4V100.6H264.7zM39.9 100.3H57.5V104.9H39.9zM264.7 100.3H273.7V104.9H264.7zM39.9 104.6H57.5V109.2H39.9zM269.1 104.6H273.7V109.2H269.1zM39.9 108.9H53.2V113.6H39.9zM269.1 108.9H278.0V113.6H269.1zM39.9 113.3H53.2V117.9H39.9zM273.4 113.3H278.0V117.9H273.4zM35.6 117.6H53.2V122.2H35.6zM273.4 117.6H282.3V122.2H273.4zM35.6 121.9H48.9V126.6H35.6zM277.7 121.9H282.3V126.6H277.7zM35.6 126.3H44.6V130.9H35.6zM277.7 126.3H286.7V130.9H277.7zM31.3 130.6H44.6V135.3H31.3zM282.0 130.6H286.7V135.3H282.0zM31.3 135.0H44.6V139.6H31.3zM282.0 135.0H286.7V139.6H282.0zM31.3 139.3H44.6V143.9H31.3zM282.0 139.3H291.0V143.9H282.0zM31.3 143.6H44.6V148.3H31.3zM282.0 143.6H291.0V148.3H282.0zM27.0 148.0H44.6V152.6H27.0zM273.4 148.0H291.0V152.6H273.4zM27.0 152.3H44.6V156.9H27.0zM264.7 152.3H291.0V156.9H264.7zM27.0 156.6H44.6V161.3H27.0zM264.7 156.6H286.7V161.3H264.7zM27.0 161.0H44.6V165.6H27.0zM264.7 161.0H286.7V165.6H264.7zM27.0 165.3H48.9V169.9H27.0zM260.4 165.3H286.7V169.9H260.4zM27.0 169.6H48.9V174.3H27.0zM260.4 169.6H286.7V174.3H260.4zM27.0 174.0H48.9V178.6H27.0zM260.4 174.0H286.7V178.6H260.4zM27.0 178.3H48.9V183.0H27.0zM256.1 178.3H286.7V183.0H256.1zM27.0 182.7H48.9V187.3H27.0zM260.4 182.7H286.7V187.3H260.4zM27.0 187.0H48.9V191.6H27.0zM260.4 187.0H286.7V191.6H260.4zM27.0 191.3H48.9V196.0H27.0zM260.4 191.3H286.7V196.0H260.4zM27.0 195.7H48.9V200.3H27.0zM264.7 195.7H286.7V200.3H264.7zM27.0 200.0H48.9V204.6H27.0zM264.7 200.0H291.0V204.6H264.7zM27.0 204.3H48.9V209.0H27.0zM269.1 204.3H291.0V209.0H269.1zM27.0 208.7H44.6V213.3H27.0zM269.1 208.7H291.0V213.3H269.1zM27.0 213.0H44.6V217.6H27.0zM269.1 213.0H295.3V217.6H269.1zM27.0 217.3H44.6V222.0H27.0zM273.4 217.3H291.0V222.0H273.4zM27.0 221.7H44.6V226.3H27.0zM273.4 221.7H291.0V226.3H273.4zM31.3 226.0H44.6V230.6H31.3zM273.4 226.0H291.0V230.6H273.4zM31.3 230.3H44.6V235.0H31.3zM273.4 230.3H291.0V235.0H273.4zM31.3 234.7H44.6V239.3H31.3zM273.4 234.7H291.0V239.3H273.4zM31.3 239.0H48.9V243.7H31.3zM277.7 239.0H291.0V243.7H277.7zM35.6 243.4H48.9V248.0H35.6zM277.7 243.4H291.0V248.0H277.7zM35.6 247.7H48.9V252.3H35.6zM277.7 247.7H291.0V252.3H277.7zM35.6 252.0H48.9V256.7H35.6zM277.7 252.0H291.0V256.7H277.7zM35.6 256.4H48.9V261.0H35.6zM277.7 256.4H291.0V261.0H277.7zM35.6 260.7H48.9V265.3H35.6zM277.7 260.7H291.0V265.3H277.7zM35.6 265.0H48.9V269.7H35.6zM273.4 265.0H291.0V269.7H273.4zM35.6 269.4H53.2V274.0H35.6zM269.1 269.4H286.7V274.0H269.1zM35.6 273.7H53.2V278.3H35.6zM269.1 273.7H286.7V278.3H269.1zM39.9 278.0H53.2V282.7H39.9zM243.1 278.0H247.8V282.7H243.1zM264.7 278.0H282.3V282.7H264.7zM39.9 282.4H57.5V287.0H39.9zM238.8 282.4H273.7V287.0H238.8zM39.9 286.7H61.8V291.4H39.9zM234.5 286.7H269.4V291.4H234.5zM39.9 291.1H70.5V295.7H39.9zM225.8 291.1H265.0V295.7H225.8zM44.3 295.4H79.1V300.0H44.3zM221.5 295.4H256.4V300.0H221.5zM44.3 299.7H83.5V304.4H44.3zM217.2 299.7H252.1V304.4H217.2zM48.6 304.1H87.8V308.7H48.6zM217.2 304.1H252.1V308.7H217.2zM48.6 308.4H92.1V313.0H48.6zM212.9 308.4H247.8V313.0H212.9zM48.6 312.7H92.1V317.4H48.6zM143.7 312.7H169.9V317.4H143.7zM212.9 312.7H247.8V317.4H212.9zM52.9 317.1H92.1V321.7H52.9zM139.4 317.1H174.3V321.7H139.4zM212.9 317.1H247.8V321.7H212.9zM52.9 321.4H92.1V326.0H52.9zM135.0 321.4H178.6V326.0H135.0zM212.9 321.4H243.4V326.0H212.9zM52.9 325.7H92.1V330.4H52.9zM135.0 325.7H178.6V330.4H135.0zM212.9 325.7H243.4V330.4H212.9zM52.9 330.1H66.2V334.7H52.9zM135.0 330.1H178.6V334.7H135.0zM212.9 330.1H243.4V334.7H212.9zM57.2 334.4H66.2V339.1H57.2zM87.5 334.4H96.4V339.1H87.5zM135.0 334.4H174.3V339.1H135.0zM208.5 334.4H239.1V339.1H208.5zM61.5 338.8H66.2V343.4H61.5zM83.2 338.8H100.8V343.4H83.2zM135.0 338.8H169.9V343.4H135.0zM204.2 338.8H234.8V343.4H204.2zM61.5 343.1H109.4V347.7H61.5zM130.7 343.1H165.6V347.7H130.7zM204.2 343.1H230.5V347.7H204.2zM65.9 347.4H126.7V352.1H65.9zM130.7 347.4H161.3V352.1H130.7zM199.9 347.4H226.1V352.1H199.9zM78.8 351.8H161.3V356.4H78.8zM191.2 351.8H217.5V356.4H191.2zM96.1 356.1H157.0V360.7H96.1zM186.9 356.1H213.2V360.7H186.9zM100.5 360.4H161.3V365.1H100.5zM182.6 360.4H204.5V365.1H182.6zM109.1 364.8H200.2V369.4H109.1zM117.8 369.1H191.5V373.7H117.8zM122.1 373.4H187.2V378.1H122.1zM139.4 377.8H178.6V382.4H139.4z"/>
<path fill="#fff0f0" d="M35.6 104.6H40.2V109.2H35.6zM273.4 104.6H278.0V109.2H273.4zM35.6 108.9H40.2V113.6H35.6zM31.3 113.3H40.2V117.9H31.3zM277.7 113.3H282.3V117.9H277.7zM31.3 117.6H35.9V122.2H31.3zM31.3 121.9H35.9V126.6H31.3zM27.0 126.3H35.9V130.9H27.0zM27.0 130.6H31.6V135.3H27.0zM22.6 135.0H31.6V139.6H22.6zM286.4 135.0H291.0V139.6H286.4zM22.6 139.3H31.6V143.9H22.6zM22.6 143.6H31.6V148.3H22.6zM22.6 148.0H27.3V152.6H22.6zM22.6 152.3H27.3V156.9H22.6zM290.7 152.3H295.3V156.9H290.7zM18.3 156.6H27.3V161.3H18.3zM286.4 156.6H295.3V161.3H286.4zM18.3 161.0H27.3V165.6H18.3zM286.4 161.0H295.3V165.6H286.4zM18.3 165.3H27.3V169.9H18.3zM286.4 165.3H299.6V169.9H286.4zM14.0 169.6H27.3V174.3H14.0zM286.4 169.6H299.6V174.3H286.4zM14.0 174.0H27.3V178.6H14.0zM286.4 174.0H304.0V178.6H286.4zM14.0 178.3H27.3V183.0H14.0zM286.4 178.3H304.0V183.0H286.4zM9.7 182.7H27.3V187.3H9.7zM286.4 182.7H304.0V187.3H286.4zM9.7 187.0H27.3V191.6H9.7zM286.4 187.0H308.3V191.6H286.4zM9.7 191.3H27.3V196.0H9.7zM286.4 191.3H308.3V196.0H286.4zM9.7 195.7H27.3V200.3H9.7zM286.4 195.7H308.3V200.3H286.4zM5.3 200.0H27.3V204.6H5.3zM290.7 200.0H312.6V204.6H290.7zM5.3 204.3H27.3V209.0H5.3zM290.7 204.3H312.6V209.0H290.7zM5.3 208.7H27.3V213.3H5.3zM290.7 208.7H312.6V213.3H290.7zM5.3 213.0H27.3V217.6H5.3zM295.0 213.0H312.6V217.6H295.0zM5.3 217.3H27.3V222.0H5.3zM290.7 217.3H312.6V222.0H290.7zM5.3 221.7H27.3V226.3H5.3zM290.7 221.7H316.9V226.3H290.7zM9.7 226.0H31.6V230.6H9.7zM290.7 226.0H308.3V230.6H290.7zM14.0 230.3H31.6V235.0H14.0zM290.7 230.3H304.0V235.0H290.7zM14.0 234.7H31.6V239.3H14.0zM290.7 234.7H304.0V239.3H290.7zM18.3 239.0H31.6V243.7H18.3zM290.7 239.0H304.0V243.7H290.7zM22.6 243.4H35.9V248.0H22.6zM290.7 243.4H299.6V248.0H290.7zM22.6 247.7H35.9V252.3H22.6zM290.7 247.7H299.6V252.3H290.7zM27.0 252.0H35.9V256.7H27.0zM290.7 252.0H299.6V256.7H290.7zM27.0 256.4H35.9V261.0H27.0zM290.7 256.4H295.3V261.0H290.7zM31.3 260.7H35.9V265.3H31.3zM290.7 260.7H295.3V265.3H290.7zM31.3 265.0H35.9V269.7H31.3zM290.7 265.0H295.3V269.7H290.7zM31.3 269.4H35.9V274.0H31.3zM286.4 269.4H291.0V274.0H286.4zM31.3 273.7H35.9V278.3H31.3zM286.4 273.7H291.0V278.3H286.4zM31.3 278.0H40.2V282.7H31.3zM282.0 278.0H286.7V282.7H282.0zM31.3 282.4H40.2V287.0H31.3zM273.4 282.4H286.7V287.0H273.4zM31.3 286.7H40.2V291.4H31.3zM269.1 286.7H282.3V291.4H269.1zM35.6 291.1H40.2V295.7H35.6zM264.7 291.1H278.0V295.7H264.7zM35.6 295.4H44.6V300.0H35.6zM256.1 295.4H278.0V300.0H256.1zM39.9 299.7H44.6V304.4H39.9zM251.8 299.7H273.7V304.4H251.8zM39.9 304.1H48.9V308.7H39.9zM251.8 304.1H273.7V308.7H251.8zM39.9 308.4H48.9V313.0H39.9zM247.5 308.4H273.7V313.0H247.5zM44.3 312.7H48.9V317.4H44.3zM247.5 312.7H269.4V317.4H247.5zM44.3 317.1H53.2V321.7H44.3zM247.5 317.1H269.4V321.7H247.5zM44.3 321.4H53.2V326.0H44.3zM243.1 321.4H265.0V326.0H243.1zM48.6 325.7H53.2V330.4H48.6zM243.1 325.7H265.0V330.4H243.1zM48.6 330.1H53.2V334.7H48.6zM243.1 330.1H265.0V334.7H243.1zM52.9 334.4H57.5V339.1H52.9zM238.8 334.4H260.7V339.1H238.8zM52.9 338.8H61.8V343.4H52.9zM234.5 338.8H260.7V343.4H234.5zM57.2 343.1H61.8V347.7H57.2zM230.2 343.1H260.7V347.7H230.2zM61.5 347.4H66.2V352.1H61.5zM225.8 347.4H256.4V352.1H225.8zM65.9 351.8H79.1V356.4H65.9zM217.2 351.8H247.8V356.4H217.2zM70.2 356.1H96.4V360.7H70.2zM212.9 356.1H234.8V360.7H212.9zM78.8 360.4H100.8V365.1H78.8zM204.2 360.4H226.1V365.1H204.2zM87.5 364.8H109.4V369.4H87.5zM199.9 364.8H221.8V369.4H199.9zM96.1 369.1H118.1V373.7H96.1zM191.2 369.1H208.8V373.7H191.2zM104.8 373.4H122.4V378.1H104.8zM186.9 373.4H200.2V378.1H186.9zM109.1 377.8H139.7V382.4H109.1zM178.3 377.8H195.9V382.4H178.3zM122.1 382.1H187.2V386.7H122.1zM130.7 386.4H178.6V391.1H130.7z"/>
<path fill="#ffd2d2" d="M1.0 221.7H5.6V226.3H1.0zM5.3 226.0H10.0V230.6H5.3zM308.0 226.0H316.9V230.6H308.0zM5.3 230.3H14.3V235.0H5.3zM303.7 230.3H316.9V235.0H303.7zM9.7 234.7H14.3V239.3H9.7zM303.7 234.7H312.6V239.3H303.7zM14.0 239.0H18.6V243.7H14.0zM303.7 239.0H308.3V243.7H303.7zM14.0 243.4H22.9V248.0H14.0zM299.3 243.4H308.3V248.0H299.3zM18.3 247.7H22.9V252.3H18.3zM299.3 247.7H304.0V252.3H299.3zM18.3 252.0H27.3V256.7H18.3zM299.3 252.0H304.0V256.7H299.3zM22.6 256.4H27.3V261.0H22.6zM295.0 256.4H304.0V261.0H295.0zM22.6 260.7H31.6V265.3H22.6zM295.0 260.7H299.6V265.3H295.0zM22.6 265.0H31.6V269.7H22.6zM295.0 265.0H299.6V269.7H295.0zM27.0 269.4H31.6V274.0H27.0zM290.7 269.4H295.3V274.0H290.7zM27.0 273.7H31.6V278.3H27.0zM290.7 273.7H295.3V278.3H290.7zM27.0 278.0H31.6V282.7H27.0zM286.4 278.0H291.0V282.7H286.4zM27.0 282.4H31.6V287.0H27.0zM286.4 282.4H291.0V287.0H286.4zM27.0 286.7H31.6V291.4H27.0zM282.0 286.7H286.7V291.4H282.0zM31.3 291.1H35.9V295.7H31.3zM277.7 291.1H286.7V295.7H277.7zM31.3 295.4H35.9V300.0H31.3zM277.7 295.4H286.7V300.0H277.7zM31.3 299.7H40.2V304.4H31.3zM273.4 299.7H282.3V304.4H273.4zM35.6 304.1H40.2V308.7H35.6zM273.4 304.1H282.3V308.7H273.4zM35.6 308.4H40.2V313.0H35.6zM273.4 308.4H282.3V313.0H273.4zM35.6 312.7H44.6V317.4H35.6zM269.1 312.7H278.0V317.4H269.1zM39.9 317.1H44.6V321.7H39.9zM269.1 317.1H278.0V321.7H269.1zM39.9 321.4H44.6V326.0H39.9zM264.7 321.4H273.7V326.0H264.7zM44.3 325.7H48.9V330.4H44.3zM264.7 325.7H273.7V330.4H264.7zM44.3 330.1H48.9V334.7H44.3zM264.7 330.1H273.7V334.7H264.7zM48.6 334.4H53.2V339.1H48.6zM260.4 334.4H269.4V339.1H260.4zM48.6 338.8H53.2V343.4H48.6zM260.4 338.8H269.4V343.4H260.4zM52.9 343.1H57.5V347.7H52.9zM260.4 343.1H265.0V347.7H260.4zM57.2 347.4H61.8V352.1H57.2zM256.1 347.4H265.0V352.1H256.1zM61.5 351.8H66.2V356.4H61.5zM247.5 351.8H260.7V356.4H247.5zM61.5 356.1H70.5V360.7H61.5zM234.5 356.1H256.4V360.7H234.5zM70.2 360.4H79.1V365.1H70.2zM225.8 360.4H247.8V365.1H225.8zM74.5 364.8H87.8V369.4H74.5zM221.5 364.8H239.1V369.4H221.5zM83.2 369.1H96.4V373.7H83.2zM208.5 369.1H234.8V373.7H208.5zM91.8 373.4H105.1V378.1H91.8zM199.9 373.4H230.5V378.1H199.9zM96.1 377.8H109.4V382.4H96.1zM195.6 377.8H221.8V382.4H195.6zM104.8 382.1H122.4V386.7H104.8zM186.9 382.1H208.8V386.7H186.9zM113.4 386.4H131.0V391.1H113.4zM178.3 386.4H200.2V391.1H178.3zM122.1 390.8H191.5V395.4H122.1zM130.7 395.1H182.9V399.8H130.7z"/>
<path fill="#ffb4b4" d="M1.0 226.0H5.6V230.6H1.0zM1.0 230.3H5.6V235.0H1.0zM5.3 234.7H10.0V239.3H5.3zM312.3 234.7H316.9V239.3H312.3zM9.7 239.0H14.3V243.7H9.7zM308.0 239.0H316.9V243.7H308.0zM9.7 243.4H14.3V248.0H9.7zM308.0 243.4H312.6V248.0H308.0zM14.0 247.7H18.6V252.3H14.0zM303.7 247.7H312.6V252.3H303.7zM14.0 252.0H18.6V256.7H14.0zM303.7 252.0H308.3V256.7H303.7zM14.0 256.4H22.9V261.0H14.0zM303.7 256.4H308.3V261.0H303.7zM18.3 260.7H22.9V265.3H18.3zM299.3 260.7H304.0V265.3H299.3zM18.3 265.0H22.9V269.7H18.3zM299.3 265.0H304.0V269.7H299.3zM18.3 269.4H27.3V274.0H18.3zM295.0 269.4H299.6V274.0H295.0zM18.3 273.7H27.3V278.3H18.3zM295.0 273.7H299.6V278.3H295.0zM22.6 278.0H27.3V282.7H22.6zM290.7 278.0H295.3V282.7H290.7zM22.6 282.4H27.3V287.0H22.6zM290.7 282.4H295.3V287.0H290.7zM22.6 286.7H27.3V291.4H22.6zM286.4 286.7H291.0V291.4H286.4zM27.0 291.1H31.6V295.7H27.0zM286.4 291.1H291.0V295.7H286.4zM27.0 295.4H31.6V300.0H27.0zM286.4 295.4H291.0V300.0H286.4zM27.0 299.7H31.6V304.4H27.0zM282.0 299.7H291.0V304.4H282.0zM31.3 304.1H35.9V308.7H31.3zM282.0 304.1H286.7V308.7H282.0zM31.3 308.4H35.9V313.0H31.3zM282.0 308.4H286.7V313.0H282.0zM31.3 312.7H35.9V317.4H31.3zM277.7 312.7H286.7V317.4H277.7zM35.6 317.1H40.2V321.7H35.6zM277.7 317.1H282.3V321.7H277.7zM35.6 321.4H40.2V326.0H35.6zM273.4 321.4H282.3V326.0H273.4zM35.6 325.7H44.6V330.4H35.6zM273.4 325.7H282.3V330.4H273.4zM39.9 330.1H44.6V334.7H39.9zM273.4 330.1H278.0V334.7H273.4zM44.3 334.4H48.9V339.1H44.3zM269.1 334.4H278.0V339.1H269.1zM44.3 338.8H48.9V343.4H44.3zM269.1 338.8H273.7V343.4H269.1zM44.3 343.1H53.2V347.7H44.3zM264.7 343.1H273.7V347.7H264.7zM48.6 347.4H57.5V352.1H48.6zM264.7 347.4H269.4V352.1H264.7zM52.9 351.8H61.8V356.4H52.9zM260.4 351.8H269.4V356.4H260.4zM57.2 356.1H61.8V360.7H57.2zM256.1 356.1H265.0V360.7H256.1zM61.5 360.4H70.5V365.1H61.5zM247.5 360.4H256.4V365.1H247.5zM65.9 364.8H74.8V369.4H65.9zM238.8 364.8H252.1V369.4H238.8zM74.5 369.1H83.5V373.7H74.5zM234.5 369.1H243.4V373.7H234.5zM78.8 373.4H92.1V378.1H78.8zM230.2 373.4H239.1V378.1H230.2zM87.5 377.8H96.4V382.4H87.5zM221.5 377.8H234.8V382.4H221.5zM91.8 382.1H105.1V386.7H91.8zM208.5 382.1H226.1V386.7H208.5zM100.5 386.4H113.7V391.1H100.5zM199.9 386.4H213.2V391.1H199.9zM109.1 390.8H122.4V395.4H109.1zM191.2 390.8H204.5V395.4H191.2zM117.8 395.1H131.0V399.8H117.8zM182.6 395.1H200.2V399.8H182.6zM126.4 399.5H187.2V404.1H126.4zM139.4 403.8H178.6V408.4H139.4z"/>
<path fill="#ff9696" d="M1.0 234.7H5.6V239.3H1.0zM5.3 239.0H10.0V243.7H5.3zM5.3 243.4H10.0V248.0H5.3zM312.3 243.4H316.9V248.0H312.3zM5.3 247.7H14.3V252.3H5.3zM312.3 247.7H316.9V252.3H312.3zM9.7 252.0H14.3V256.7H9.7zM308.0 252.0H312.6V256.7H308.0zM9.7 256.4H14.3V261.0H9.7zM308.0 256.4H312.6V261.0H308.0zM14.0 260.7H18.6V265.3H14.0zM303.7 260.7H308.3V265.3H303.7zM14.0 265.0H18.6V269.7H14.0zM303.7 265.0H308.3V269.7H303.7zM14.0 269.4H18.6V274.0H14.0zM299.3 269.4H304.0V274.0H299.3zM299.3 273.7H304.0V278.3H299.3zM18.3 278.0H22.9V282.7H18.3zM295.0 278.0H304.0V282.7H295.0zM18.3 282.4H22.9V287.0H18.3zM295.0 282.4H299.6V287.0H295.0zM18.3 286.7H22.9V291.4H18.3zM290.7 286.7H299.6V291.4H290.7zM22.6 291.1H27.3V295.7H22.6zM290.7 291.1H295.3V295.7H290.7zM22.6 295.4H27.3V300.0H22.6zM290.7 295.4H295.3V300.0H290.7zM22.6 299.7H27.3V304.4H22.6zM290.7 299.7H295.3V304.4H290.7zM22.6 304.1H31.6V308.7H22.6zM286.4 304.1H295.3V308.7H286.4zM27.0 308.4H31.6V313.0H27.0zM286.4 308.4H291.0V313.0H286.4zM27.0 312.7H31.6V317.4H27.0zM286.4 312.7H291.0V317.4H286.4zM27.0 317.1H35.9V321.7H27.0zM282.0 317.1H291.0V321.7H282.0zM31.3 321.4H35.9V326.0H31.3zM282.0 321.4H286.7V326.0H282.0zM31.3 325.7H35.9V330.4H31.3zM282.0 325.7H286.7V330.4H282.0zM35.6 330.1H40.2V334.7H35.6zM277.7 330.1H286.7V334.7H277.7zM39.9 334.4H44.6V339.1H39.9zM277.7 334.4H282.3V339.1H277.7zM39.9 338.8H44.6V343.4H39.9zM273.4 338.8H282.3V343.4H273.4zM273.4 343.1H278.0V347.7H273.4zM44.3 347.4H48.9V352.1H44.3zM269.1 347.4H278.0V352.1H269.1zM48.6 351.8H53.2V356.4H48.6zM269.1 351.8H273.7V356.4H269.1zM52.9 356.1H57.5V360.7H52.9zM264.7 356.1H269.4V360.7H264.7zM57.2 360.4H61.8V365.1H57.2zM256.1 360.4H265.0V365.1H256.1zM61.5 364.8H66.2V369.4H61.5zM251.8 364.8H260.7V369.4H251.8zM65.9 369.1H74.8V373.7H65.9zM243.1 369.1H252.1V373.7H243.1zM74.5 373.4H79.1V378.1H74.5zM238.8 373.4H247.8V378.1H238.8zM78.8 377.8H87.8V382.4H78.8zM234.5 377.8H243.4V382.4H234.5zM87.5 382.1H92.1V386.7H87.5zM225.8 382.1H234.8V386.7H225.8zM91.8 386.4H100.8V391.1H91.8zM212.9 386.4H226.1V391.1H212.9zM100.5 390.8H109.4V395.4H100.5zM204.2 390.8H217.5V395.4H204.2zM109.1 395.1H118.1V399.8H109.1zM199.9 395.1H208.8V399.8H199.9zM117.8 399.5H126.7V404.1H117.8zM186.9 399.5H200.2V404.1H186.9zM126.4 403.8H139.7V408.4H126.4zM178.3 403.8H191.5V408.4H178.3zM139.4 408.1H178.6V412.8H139.4z"/>
<path fill="#ff7878" d="M1.0 239.0H5.6V243.7H1.0zM1.0 243.4H5.6V248.0H1.0zM5.3 252.0H10.0V256.7H5.3zM312.3 252.0H316.9V256.7H312.3zM5.3 256.4H10.0V261.0H5.3zM312.3 256.4H316.9V261.0H312.3zM9.7 260.7H14.3V265.3H9.7zM308.0 260.7H312.6V265.3H308.0zM9.7 265.0H14.3V269.7H9.7zM308.0 265.0H312.6V269.7H308.0zM303.7 269.4H308.3V274.0H303.7zM14.0 273.7H18.6V278.3H14.0zM303.7 273.7H308.3V278.3H303.7zM14.0 278.0H18.6V282.7H14.0zM14.0 282.4H18.6V287.0H14.0zM299.3 282.4H304.0V287.0H299.3zM14.0 286.7H18.6V291.4H14.0zM299.3 286.7H304.0V291.4H299.3zM18.3 291.1H22.9V295.7H18.3zM295.0 291.1H304.0V295.7H295.0zM18.3 295.4H22.9V300.0H18.3zM295.0 295.4H299.6V300.0H295.0zM18.3 299.7H22.9V304.4H18.3zM295.0 299.7H299.6V304.4H295.0zM18.3 304.1H22.9V308.7H18.3zM295.0 304.1H299.6V308.7H295.0zM22.6 308.4H27.3V313.0H22.6zM290.7 308.4H299.6V313.0H290.7zM22.6 312.7H27.3V317.4H22.6zM290.7 312.7H295.3V317.4H290.7zM22.6 317.1H27.3V321.7H22.6zM290.7 317.1H295.3V321.7H290.7zM27.0 321.4H31.6V326.0H27.0zM286.4 321.4H291.0V326.0H286.4zM27.0 325.7H31.6V330.4H27.0zM286.4 325.7H291.0V330.4H286.4zM31.3 330.1H35.9V334.7H31.3zM286.4 330.1H291.0V334.7H286.4zM35.6 334.4H40.2V339.1H35.6zM282.0 334.4H286.7V339.1H282.0zM35.6 338.8H40.2V343.4H35.6zM282.0 338.8H286.7V343.4H282.0zM39.9 343.1H44.6V347.7H39.9zM277.7 343.1H282.3V347.7H277.7zM39.9 347.4H44.6V352.1H39.9zM277.7 347.4H282.3V352.1H277.7zM44.3 351.8H48.9V356.4H44.3zM273.4 351.8H278.0V356.4H273.4zM48.6 356.1H53.2V360.7H48.6zM269.1 356.1H273.7V360.7H269.1zM52.9 360.4H57.5V365.1H52.9zM264.7 360.4H269.4V365.1H264.7zM57.2 364.8H61.8V369.4H57.2zM260.4 364.8H265.0V369.4H260.4zM61.5 369.1H66.2V373.7H61.5zM251.8 369.1H260.7V373.7H251.8zM65.9 373.4H74.8V378.1H65.9zM247.5 373.4H256.4V378.1H247.5zM70.2 377.8H79.1V382.4H70.2zM243.1 377.8H247.8V382.4H243.1zM78.8 382.1H87.8V386.7H78.8zM234.5 382.1H243.4V386.7H234.5zM83.2 386.4H92.1V391.1H83.2zM225.8 386.4H234.8V391.1H225.8zM91.8 390.8H100.8V395.4H91.8zM217.2 390.8H226.1V395.4H217.2zM96.1 395.1H109.4V399.8H96.1zM208.5 395.1H221.8V399.8H208.5zM104.8 399.5H118.1V404.1H104.8zM199.9 399.5H217.5V404.1H199.9zM117.8 403.8H126.7V408.4H117.8zM191.2 403.8H204.5V408.4H191.2zM126.4 408.1H139.7V412.8H126.4zM178.3 408.1H191.5V412.8H178.3zM130.7 412.5H182.9V417.1H130.7zM126.4 416.8H135.3V421.4H126.4zM182.6 416.8H187.2V421.4H182.6z"/>
<path fill="#ff5a5a" d="M1.0 247.7H5.6V252.3H1.0zM1.0 252.0H5.6V256.7H1.0zM5.3 260.7H10.0V265.3H5.3zM312.3 260.7H316.9V265.3H312.3zM312.3 265.0H316.9V269.7H312.3zM9.7 269.4H14.3V274.0H9.7zM308.0 269.4H312.6V274.0H308.0zM9.7 273.7H14.3V278.3H9.7zM308.0 273.7H312.6V278.3H308.0zM9.7 278.0H14.3V282.7H9.7zM303.7 278.0H308.3V282.7H303.7zM9.7 282.4H14.3V287.0H9.7zM303.7 282.4H308.3V287.0H303.7zM303.7 286.7H308.3V291.4H303.7zM14.0 291.1H18.6V295.7H14.0zM303.7 291.1H308.3V295.7H303.7zM14.0 295.4H18.6V300.0H14.0zM299.3 295.4H308.3V300.0H299.3zM14.0 299.7H18.6V304.4H14.0zM299.3 299.7H304.0V304.4H299.3zM299.3 304.1H304.0V308.7H299.3zM18.3 308.4H22.9V313.0H18.3zM299.3 308.4H304.0V313.0H299.3zM18.3 312.7H22.9V317.4H18.3zM295.0 312.7H299.6V317.4H295.0zM295.0 317.1H299.6V321.7H295.0zM22.6 321.4H27.3V326.0H22.6zM290.7 321.4H299.6V326.0H290.7zM22.6 325.7H27.3V330.4H22.6zM290.7 325.7H295.3V330.4H290.7zM27.0 330.1H31.6V334.7H27.0zM290.7 330.1H295.3V334.7H290.7zM31.3 334.4H35.9V339.1H31.3zM286.4 334.4H291.0V339.1H286.4zM31.3 338.8H35.9V343.4H31.3zM286.4 338.8H291.0V343.4H286.4zM35.6 343.1H40.2V347.7H35.6zM282.0 343.1H286.7V347.7H282.0zM35.6 347.4H40.2V352.1H35.6zM282.0 347.4H286.7V352.1H282.0zM39.9 351.8H44.6V356.4H39.9zM277.7 351.8H282.3V356.4H277.7zM44.3 356.1H48.9V360.7H44.3zM273.4 356.1H278.0V360.7H273.4zM48.6 360.4H53.2V365.1H48.6zM269.1 360.4H273.7V365.1H269.1zM52.9 364.8H57.5V369.4H52.9zM264.7 364.8H269.4V369.4H264.7zM57.2 369.1H61.8V373.7H57.2zM260.4 369.1H265.0V373.7H260.4zM61.5 373.4H66.2V378.1H61.5zM256.1 373.4H260.7V378.1H256.1zM65.9 377.8H70.5V382.4H65.9zM247.5 377.8H256.4V382.4H247.5zM70.2 382.1H79.1V386.7H70.2zM243.1 382.1H252.1V386.7H243.1zM74.5 386.4H83.5V391.1H74.5zM234.5 386.4H243.4V391.1H234.5zM83.2 390.8H92.1V395.4H83.2zM225.8 390.8H239.1V395.4H225.8zM87.5 395.1H96.4V399.8H87.5zM221.5 395.1H234.8V399.8H221.5zM96.1 399.5H105.1V404.1H96.1zM217.2 399.5H226.1V404.1H217.2zM100.5 403.8H118.1V408.4H100.5zM204.2 403.8H221.8V408.4H204.2zM117.8 408.1H126.7V412.8H117.8zM191.2 408.1H213.2V412.8H191.2zM122.1 412.5H131.0V417.1H122.1zM182.6 412.5H191.5V417.1H182.6zM122.1 416.8H126.7V421.4H122.1zM135.0 416.8H182.9V421.4H135.0zM186.9 416.8H195.9V421.4H186.9z"/>
<path fill="#ff3c3c" d="M1.0 256.4H5.6V261.0H1.0zM1.0 260.7H5.6V265.3H1.0zM5.3 265.0H10.0V269.7H5.3zM5.3 269.4H10.0V274.0H5.3zM312.3 269.4H316.9V274.0H312.3zM5.3 273.7H10.0V278.3H5.3zM312.3 273.7H316.9V278.3H312.3zM308.0 278.0H316.9V282.7H308.0zM308.0 282.4H312.6V287.0H308.0zM9.7 286.7H14.3V291.4H9.7zM308.0 286.7H312.6V291.4H308.0zM9.7 291.1H14.3V295.7H9.7zM308.0 291.1H312.6V295.7H308.0zM9.7 295.4H14.3V300.0H9.7zM308.0 295.4H312.6V300.0H308.0zM9.7 299.7H14.3V304.4H9.7zM303.7 299.7H312.6V304.4H303.7zM14.0 304.1H18.6V308.7H14.0zM303.7 304.1H308.3V308.7H303.7zM14.0 308.4H18.6V313.0H14.0zM303.7 308.4H308.3V313.0H303.7zM14.0 312.7H18.6V317.4H14.0zM299.3 312.7H308.3V317.4H299.3zM14.0 317.1H22.9V321.7H14.0zM299.3 317.1H308.3V321.7H299.3zM18.3 321.4H22.9V326.0H18.3zM299.3 321.4H304.0V326.0H299.3zM18.3 325.7H22.9V330.4H18.3zM295.0 325.7H304.0V330.4H295.0zM22.6 330.1H27.3V334.7H22.6zM295.0 330.1H299.6V334.7H295.0zM22.6 334.4H31.6V339.1H22.6zM290.7 334.4H299.6V339.1H290.7zM27.0 338.8H31.6V343.4H27.0zM290.7 338.8H295.3V343.4H290.7zM31.3 343.1H35.9V347.7H31.3zM286.4 343.1H295.3V347.7H286.4zM31.3 347.4H35.9V352.1H31.3zM286.4 347.4H291.0V352.1H286.4zM35.6 351.8H40.2V356.4H35.6zM282.0 351.8H291.0V356.4H282.0zM39.9 356.1H44.6V360.7H39.9zM277.7 356.1H286.7V360.7H277.7zM44.3 360.4H48.9V365.1H44.3zM273.4 360.4H282.3V365.1H273.4zM48.6 364.8H53.2V369.4H48.6zM269.1 364.8H278.0V369.4H269.1zM52.9 369.1H57.5V373.7H52.9zM264.7 369.1H273.7V373.7H264.7zM57.2 373.4H61.8V378.1H57.2zM260.4 373.4H273.7V378.1H260.4zM61.5 377.8H66.2V382.4H61.5zM256.1 377.8H265.0V382.4H256.1zM65.9 382.1H70.5V386.7H65.9zM251.8 382.1H260.7V386.7H251.8zM70.2 386.4H74.8V391.1H70.2zM243.1 386.4H252.1V391.1H243.1zM74.5 390.8H83.5V395.4H74.5zM238.8 390.8H247.8V395.4H238.8zM78.8 395.1H87.8V399.8H78.8zM234.5 395.1H239.1V399.8H234.5zM87.5 399.5H96.4V404.1H87.5zM225.8 399.5H234.8V404.1H225.8zM91.8 403.8H100.8V408.4H91.8zM221.5 403.8H230.5V408.4H221.5zM96.1 408.1H118.1V412.8H96.1zM212.9 408.1H217.5V412.8H212.9zM117.8 412.5H122.4V417.1H117.8zM191.2 412.5H195.9V417.1H191.2zM117.8 416.8H122.4V421.4H117.8z"/>
<path fill="#ff1e1e" d="M1.0 265.0H5.6V269.7H1.0zM1.0 269.4H5.6V274.0H1.0zM1.0 273.7H5.6V278.3H1.0zM1.0 278.0H10.0V282.7H1.0zM1.0 282.4H10.0V287.0H1.0zM312.3 282.4H316.9V287.0H312.3zM1.0 286.7H10.0V291.4H1.0zM312.3 286.7H316.9V291.4H312.3zM1.0 291.1H10.0V295.7H1.0zM312.3 291.1H316.9V295.7H312.3zM1.0 295.4H10.0V300.0H1.0zM312.3 295.4H316.9V300.0H312.3zM1.0 299.7H10.0V304.4H1.0zM312.3 299.7H316.9V304.4H312.3zM5.3 304.1H14.3V308.7H5.3zM308.0 304.1H312.6V308.7H308.0zM5.3 308.4H14.3V313.0H5.3zM308.0 308.4H312.6V313.0H308.0zM5.3 312.7H14.3V317.4H5.3zM308.0 312.7H312.6V317.4H308.0zM9.7 317.1H14.3V321.7H9.7zM9.7 321.4H18.6V326.0H9.7zM303.7 321.4H308.3V326.0H303.7zM14.0 325.7H18.6V330.4H14.0zM14.0 330.1H22.9V334.7H14.0zM299.3 330.1H304.0V334.7H299.3zM14.0 334.4H22.9V339.1H14.0zM18.3 338.8H27.3V343.4H18.3zM295.0 338.8H299.6V343.4H295.0zM18.3 343.1H31.6V347.7H18.3zM22.6 347.4H31.6V352.1H22.6zM290.7 347.4H295.3V352.1H290.7zM22.6 351.8H35.9V356.4H22.6zM27.0 356.1H40.2V360.7H27.0zM27.0 360.4H44.6V365.1H27.0zM282.0 360.4H286.7V365.1H282.0zM31.3 364.8H48.9V369.4H31.3zM277.7 364.8H282.3V369.4H277.7zM35.6 369.1H53.2V373.7H35.6zM273.4 369.1H278.0V373.7H273.4zM39.9 373.4H57.5V378.1H39.9zM44.3 377.8H61.8V382.4H44.3zM264.7 377.8H269.4V382.4H264.7zM48.6 382.1H66.2V386.7H48.6zM260.4 382.1H265.0V386.7H260.4zM52.9 386.4H70.5V391.1H52.9zM251.8 386.4H260.7V391.1H251.8zM57.2 390.8H74.8V395.4H57.2zM247.5 390.8H256.4V395.4H247.5zM65.9 395.1H79.1V399.8H65.9zM238.8 395.1H247.8V399.8H238.8zM70.2 399.5H87.8V404.1H70.2zM234.5 399.5H243.4V404.1H234.5zM78.8 403.8H92.1V408.4H78.8zM230.2 403.8H234.8V408.4H230.2zM87.5 408.1H96.4V412.8H87.5zM217.2 408.1H226.1V412.8H217.2zM104.8 412.5H118.1V417.1H104.8zM195.6 412.5H208.8V417.1H195.6z"/>
<path fill="#000" d="M155.4 14.0h4.3v4.3h-4.3zM116.7 23.1h4.3v4.3h-4.3zM193.5 23.1h4.3v4.3h-4.3zM95.0 41.4h4.3v4.3h-4.3zM215.2 41.4h4.3v4.3h-4.3zM116.7 63.5h4.3v4.3h-4.3zM193.5 63.5h4.3v4.3h-4.3zM82.3 73.5h4.3v4.3h-4.3zM155.4 73.5h4.3v4.3h-4.3zM227.9 73.5h4.3v4.3h-4.3zM60.6 77.5h4.3v4.3h-4.3zM249.6 77.5h4.3v4.3h-4.3zM47.5 95.2h4.3v4.3h-4.3zM262.7 95.2h4.3v4.3h-4.3zM108.0 131.9h4.3v4.3h-4.3zM202.2 131.9h4.3v4.3h-4.3zM64.9 136.0h4.3v4.3h-4.3zM155.4 136.0h4.3v4.3h-4.3zM245.3 136.0h4.3v4.3h-4.3zM39.2 141.0h4.3v4.3h-4.3zM271.0 141.0h4.3v4.3h-4.3zM30.5 149.7h4.3v4.3h-4.3zM279.7 149.7h4.3v4.3h-4.3zM21.8 208.1h4.3v4.3h-4.3zM39.2 208.1h4.3v4.3h-4.3zM60.6 208.1h4.3v4.3h-4.3zM108.0 208.1h4.3v4.3h-4.3zM155.4 208.1h4.3v4.3h-4.3zM202.2 208.1h4.3v4.3h-4.3zM245.3 208.1h4.3v4.3h-4.3zM271.0 208.1h4.3v4.3h-4.3zM283.7 208.1h4.3v4.3h-4.3zM30.5 266.6h4.3v4.3h-4.3zM279.7 266.6h4.3v4.3h-4.3zM39.2 275.2h4.3v4.3h-4.3zM271.0 275.2h4.3v4.3h-4.3zM64.9 280.3h4.3v4.3h-4.3zM155.4 280.3h4.3v4.3h-4.3zM245.3 280.3h4.3v4.3h-4.3zM108.0 284.6h4.3v4.3h-4.3zM202.2 284.6h4.3v4.3h-4.3zM47.5 321.0h4.3v4.3h-4.3zM262.7 321.0h4.3v4.3h-4.3zM60.6 338.7h4.3v4.3h-4.3zM249.6 338.7h4.3v4.3h-4.3zM82.3 343.4h4.3v4.3h-4.3zM155.4 343.4h4.3v4.3h-4.3zM227.9 343.4h4.3v4.3h-4.3zM116.7 352.4h4.3v4.3h-4.3zM193.5 352.4h4.3v4.3h-4.3zM77.9 365.8h4.3v4.3h-4.3zM232.3 365.8h4.3v4.3h-4.3zM95.0 374.8h4.3v4.3h-4.3zM215.2 374.8h4.3v4.3h-4.3zM155.4 388.2h4.3v4.3h-4.3zM116.7 393.2h4.3v4.3h-4.3zM193.5 393.2h4.3v4.3h-4.3zM155.4 402.2h4.3v4.3h-4.3z"/>
</g>
<ellipse cx="1865.3" cy="260.9" rx="26.3" ry="26.3" fill="none" stroke="#f00" stroke-width="6.7"/>
<text class="s" x="215.8" y="526.6" font-size="44.6">Open (1200-1500ms)</text>
<text class="s" x="921.0" y="526.6" font-size="44.6">Closed (1200-1500ms)</text>
<text class="s" x="1646.4" y="526.6" font-size="44.6">Control (1200-1500ms)</text>
<rect x="2191" y="3" width="305.2" height="598.6" fill="#000"/>
<rect x="2191" y="3.40" width="69" height="34.30" fill="#ff1e1e"/>
<rect x="2191" y="38.80" width="69" height="34.10" fill="#ff3c3c"/>
<rect x="2191" y="74.00" width="69" height="34.10" fill="#ff5a5a"/>
<rect x="2191" y="109.20" width="69" height="34.10" fill="#ff7878"/>
<rect x="2191" y="144.40" width="69" height="34.10" fill="#ff9696"/>
<rect x="2191" y="179.60" width="69" height="34.10" fill="#ffb4b4"/>
<rect x="2191" y="214.80" width="69" height="34.10" fill="#ffd2d2"/>
<rect x="2191" y="250.00" width="69" height="34.10" fill="#fff0f0"/>
<rect x="2191" y="285.20" width="69" height="34.10" fill="#f0f0ff"/>
<rect x="2191" y="320.40" width="69" height="34.10" fill="#d2d2ff"/>
<rect x="2191" y="355.60" width="69" height="34.10" fill="#b4b4ff"/>
<rect x="2191" y="390.80" width="69" height="34.10" fill="#9696ff"/>
<rect x="2191" y="426.00" width="69" height="34.10" fill="#7878ff"/>
<rect x="2191" y="461.20" width="69" height="34.10" fill="#5a5aff"/>
<rect x="2191" y="496.40" width="69" height="34.10" fill="#3c3cff"/>
<rect x="2191" y="531.60" width="69" height="34.10" fill="#1e1eff"/>
<rect x="2191" y="566.80" width="69" height="34.10" fill="#0000ff"/>
<g class="s" fill="#fff"><text x="2273.5" y="36" font-size="33.3">+10.0μv</text><text x="2282.5" y="332.3" font-size="31">0</text><text x="2287.5" y="594" font-size="33.3">-10.0μv</text></g>
<g transform="translate(0.0,0)">
<path d="M170.5 726.2V1070.9" stroke="#000" stroke-width="3" fill="none"/>
<path d="M93 898.6H741.5" stroke="#000" stroke-width="2.3" fill="none"/>
<path d="M161.8 727.5H170.5M163.2 763.2H170.5M163.2 797.0H170.5M163.2 830.8H170.5M163.2 866.0H170.5M163.2 933.3H170.5M163.2 967.0H170.5M163.2 1000.8H170.5M163.2 1036.0H170.5M161.8 1069.6H170.5" stroke="#000" stroke-width="2.6" fill="none"/>
<path d="M93.5 892.8V904M131.8 892.8V904M208.6 892.8V904M246.9 892.8V904M285.3 892.8V904M323.7 892.8V904M362.0 892.8V904M400.4 892.8V904M438.8 892.8V904M477.2 892.8V904M515.5 892.8V904M553.9 892.8V904M592.3 892.8V904M630.6 892.8V904M669.0 892.8V904M707.4 892.8V904" stroke="#000" stroke-width="1.7" fill="none"/>
<text class="s" transform="translate(78.6,744.6) scale(0.730,1)" font-size="43.5">-12.5</text>
<text class="s" transform="translate(128.3,912.5) scale(0.730,1)" font-size="42">0</text>
<text class="s" transform="translate(83.7,953.6) scale(0.730,1)" font-size="43.5">-200</text>
<text class="s" transform="translate(349.0,953.6) scale(0.730,1)" font-size="43.5">500</text>
<text class="s" transform="translate(539.2,953.8) scale(0.730,1)" font-size="43.5">1000</text>
<text class="s" transform="translate(731.0,953.8) scale(0.730,1)" font-size="43.5">1500</text>
<text class="s" transform="translate(753.0,907.6) scale(0.730,1)" font-size="35.5">ms</text>
<text class="s" transform="translate(59.5,1076.0) scale(0.700,1)" font-size="37">μv</text>
<text class="s" transform="translate(88.6,1084.0) scale(0.740,1)" font-size="43">12.5</text>
<text class="s" transform="translate(444.3,1092.9) scale(0.700,1)" font-size="37.5">CZ</text>
</g>
<path d="M101.1 898.8C102.8 899.3 107.5 901.6 111.0 902.0C114.5 902.4 118.3 901.9 122.0 901.0C125.7 900.1 129.5 897.0 133.3 896.6C137.1 896.2 141.3 897.7 145.0 898.5C148.7 899.3 152.0 901.7 155.5 901.6C159.0 901.5 162.5 899.3 166.0 898.0C169.5 896.7 173.3 894.0 176.6 893.8C179.9 893.5 183.7 896.3 186.0 896.5C188.3 896.7 188.7 894.5 190.5 895.0C192.3 895.5 194.8 899.7 196.6 899.4C198.4 899.1 199.8 898.5 201.5 893.0C203.2 887.5 205.3 873.8 206.9 866.6C208.5 859.4 210.1 853.4 211.2 850.0C212.3 846.6 212.4 845.9 213.4 846.1C214.4 846.4 215.2 846.6 216.9 851.5C218.6 856.4 221.5 867.8 223.5 875.5C225.5 883.2 227.3 890.7 229.1 897.7C230.8 904.7 232.1 912.0 234.0 917.7C235.9 923.4 238.3 927.9 240.5 932.1C242.7 936.4 245.6 940.9 247.2 943.2C248.8 945.6 248.8 946.2 249.9 946.2C251.0 946.2 251.9 946.1 253.6 943.2C255.3 940.3 258.0 934.0 260.2 928.8C262.4 923.6 264.9 917.6 266.9 912.1C268.9 906.6 270.9 899.6 272.3 895.5C273.7 891.4 273.9 889.3 275.0 887.5C276.1 885.7 275.7 885.2 278.8 884.8C281.9 884.3 289.6 885.9 293.5 884.8C297.4 883.7 299.9 879.6 302.3 878.0C304.8 876.4 306.2 875.4 308.2 875.0C310.2 874.6 311.7 874.7 314.1 875.4C316.6 876.1 320.2 878.7 322.9 879.0C325.5 879.3 327.4 877.7 330.0 877.0C332.6 876.3 336.2 875.2 338.6 875.0C341.0 874.8 341.9 875.0 344.5 876.0C347.1 877.0 350.7 880.7 354.3 880.9C357.9 881.1 362.7 877.7 366.0 877.0C369.3 876.3 370.9 877.6 373.9 876.6C376.8 875.6 379.4 872.7 383.7 871.1C387.9 869.5 394.5 868.0 399.4 867.2C404.3 866.4 409.2 867.0 413.1 866.2C417.0 865.4 420.0 862.6 422.9 862.3C425.8 862.0 427.4 864.8 430.7 864.3C434.0 863.8 436.6 860.9 442.5 859.4C448.4 857.9 460.1 857.0 466.0 855.4C471.9 853.8 473.9 850.4 477.8 850.0C481.7 849.6 486.2 853.0 489.5 853.1C492.8 853.2 494.8 852.1 497.4 850.5C500.0 848.9 501.3 845.6 505.2 843.7C509.1 841.8 516.0 840.4 520.9 839.2C525.8 838.0 530.7 837.8 534.6 836.4C538.5 835.0 540.5 832.6 544.4 830.9C548.3 829.2 554.5 826.8 558.1 826.0C561.7 825.2 562.7 827.1 566.0 826.0C569.3 824.9 574.1 821.3 577.7 819.2C581.3 817.1 583.2 815.3 587.5 813.3C591.8 811.3 598.0 809.7 603.2 807.4C608.4 805.1 614.0 801.9 618.9 799.6C623.8 797.3 628.0 795.7 632.6 793.7C637.2 791.7 642.0 789.3 646.3 787.8C650.5 786.3 653.5 787.1 658.1 784.9C662.7 782.7 669.5 776.7 673.8 774.7C678.0 772.7 680.3 774.4 683.6 773.1C686.9 771.9 689.2 769.2 693.4 767.2C697.6 765.2 703.5 763.2 709.0 761.4C714.5 759.6 721.5 758.5 726.7 756.5C731.9 754.5 738.1 750.8 740.4 749.6" stroke="#f00" stroke-width="3.6" fill="none" stroke-linejoin="round" stroke-linecap="round"/>
<path d="M100.0 906.0C101.8 904.6 107.9 898.2 111.1 897.7C114.2 897.2 116.5 902.0 118.9 902.7C121.3 903.4 122.9 902.8 125.5 902.1C128.1 901.4 131.2 899.4 134.4 898.3C137.6 897.2 141.2 895.5 144.4 895.5C147.6 895.5 150.7 897.8 153.3 898.3C155.9 898.8 157.0 898.8 159.9 898.3C162.8 897.8 167.5 895.8 171.0 895.5C174.5 895.2 178.0 897.1 181.0 896.6C184.0 896.1 186.8 893.2 188.8 892.7C190.8 892.2 191.8 893.0 193.2 893.8C194.6 894.5 195.8 897.7 197.1 897.2C198.4 896.7 199.4 896.1 201.0 891.0C202.6 885.9 204.9 873.2 206.6 866.6C208.3 860.0 209.9 854.2 211.0 851.1C212.1 848.0 212.5 847.6 213.4 847.8C214.3 848.0 215.0 847.6 216.6 852.2C218.2 856.8 221.2 867.9 223.2 875.5C225.2 883.1 227.0 890.7 228.8 897.7C230.7 904.7 232.3 912.0 234.3 917.7C236.3 923.4 238.8 927.9 241.0 932.1C243.2 936.4 246.1 941.0 247.6 943.2C249.1 945.4 249.0 945.4 249.9 945.4C250.8 945.4 251.5 946.0 253.2 943.2C254.8 940.4 257.6 934.0 259.8 928.8C262.0 923.6 264.5 917.6 266.5 912.1C268.5 906.6 270.5 899.4 272.0 895.5C273.5 891.6 274.3 890.3 275.4 888.8C276.5 887.3 276.7 887.5 278.7 886.6C280.7 885.7 285.0 883.9 287.6 883.3C290.2 882.6 291.7 883.5 294.3 882.7C296.9 882.0 300.6 878.8 303.1 878.8C305.6 878.8 306.6 881.3 309.2 882.5C311.8 883.7 316.4 885.6 319.0 885.8C321.6 886.0 322.6 884.1 324.9 883.9C327.2 883.7 330.4 884.8 332.7 884.8C335.0 884.8 336.0 883.5 338.6 883.9C341.2 884.3 344.5 887.0 348.4 887.4C352.3 887.8 357.7 887.4 362.1 886.2C366.5 885.0 371.5 881.1 374.9 880.3C378.3 879.5 379.9 881.9 382.7 881.5C385.5 881.1 388.4 879.2 391.5 878.0C394.6 876.8 398.7 874.5 401.3 874.1C403.9 873.7 404.6 875.9 407.2 875.4C409.8 874.9 413.7 872.0 417.0 871.1C420.3 870.2 422.9 871.2 426.8 870.1C430.7 869.0 436.6 864.6 440.5 864.3C444.4 864.0 446.1 867.9 450.3 868.2C454.6 868.5 461.4 867.7 466.0 866.2C470.6 864.7 473.9 860.0 477.8 859.4C481.7 858.8 484.9 862.6 489.5 862.3C494.1 862.0 500.9 859.0 505.2 857.4C509.4 855.8 512.1 853.6 515.0 852.9C517.9 852.2 519.5 854.0 522.8 853.1C526.1 852.2 530.4 849.4 534.6 847.6C538.9 845.8 544.0 844.2 548.3 842.1C552.5 840.0 555.9 837.2 560.1 834.9C564.4 832.5 569.9 829.4 573.8 828.0C577.7 826.6 579.4 827.9 583.6 826.6C587.9 825.3 594.7 822.6 599.3 820.2C603.9 817.8 608.1 813.8 611.0 812.3C613.9 810.8 614.3 812.4 616.9 811.3C619.5 810.2 623.8 806.8 626.7 805.5C629.7 804.2 632.0 804.6 634.6 803.5C637.2 802.4 640.1 799.6 642.4 798.6C644.7 797.6 646.0 798.9 648.3 797.6C650.6 796.3 652.8 792.8 656.1 790.8C659.4 788.8 664.6 787.3 667.9 785.9C671.2 784.5 673.1 783.1 675.7 782.5C678.3 781.9 680.3 783.8 683.6 782.5C686.9 781.2 690.7 777.4 695.3 774.7C699.9 772.0 705.8 768.4 711.0 766.3C716.2 764.2 721.8 763.8 726.7 761.9C731.6 760.0 738.1 756.2 740.4 755.1" stroke="#0f0" stroke-width="3.9" fill="none" stroke-linejoin="round" stroke-linecap="round"/>
<rect x="635.0" y="728.9" width="108.2" height="272.9" fill="none" stroke="#385d8a" stroke-width="5.4" stroke-linejoin="round"/>
<g transform="translate(778.5,0)">
<path d="M170.5 726.2V1070.9" stroke="#000" stroke-width="3" fill="none"/>
<path d="M93 898.6H741.5" stroke="#000" stroke-width="2.3" fill="none"/>
<path d="M161.8 727.5H170.5M163.2 763.2H170.5M163.2 797.0H170.5M163.2 830.8H170.5M163.2 866.0H170.5M163.2 933.3H170.5M163.2 967.0H170.5M163.2 1000.8H170.5M163.2 1036.0H170.5M161.8 1069.6H170.5" stroke="#000" stroke-width="2.6" fill="none"/>
<path d="M93.5 892.8V904M131.8 892.8V904M208.6 892.8V904M246.9 892.8V904M285.3 892.8V904M323.7 892.8V904M362.0 892.8V904M400.4 892.8V904M438.8 892.8V904M477.2 892.8V904M515.5 892.8V904M553.9 892.8V904M592.3 892.8V904M630.6 892.8V904M669.0 892.8V904M707.4 892.8V904" stroke="#000" stroke-width="1.7" fill="none"/>
<text class="s" transform="translate(78.6,744.6) scale(0.730,1)" font-size="43.5">-12.5</text>
<text class="s" transform="translate(128.3,912.5) scale(0.730,1)" font-size="42">0</text>
<text class="s" transform="translate(83.7,953.6) scale(0.730,1)" font-size="43.5">-200</text>
<text class="s" transform="translate(349.0,953.6) scale(0.730,1)" font-size="43.5">500</text>
<text class="s" transform="translate(539.2,953.8) scale(0.730,1)" font-size="43.5">1000</text>
<text class="s" transform="translate(731.0,953.8) scale(0.730,1)" font-size="43.5">1500</text>
<text class="s" transform="translate(753.0,907.6) scale(0.730,1)" font-size="35.5">ms</text>
<text class="s" transform="translate(59.5,1076.0) scale(0.700,1)" font-size="37">μv</text>
<text class="s" transform="translate(88.6,1084.0) scale(0.740,1)" font-size="43">12.5</text>
<text class="s" transform="translate(444.3,1092.9) scale(0.700,1)" font-size="37.5">CZ</text>
</g>
<path d="M878.6 902.3C882.1 902.8 893.3 905.7 899.4 905.2C905.5 904.7 909.3 900.3 915.3 899.3C921.2 898.3 929.5 900.0 935.1 899.3C940.7 898.6 944.4 896.1 949.0 895.3C953.6 894.5 958.3 895.3 962.9 894.3C967.5 893.3 973.6 890.4 976.7 889.4C979.8 888.4 979.5 891.5 981.5 888.0C983.5 884.5 987.0 874.0 989.0 868.6C991.0 863.2 992.6 858.2 993.8 855.6C995.0 853.0 995.4 853.1 996.2 852.9C997.0 852.7 997.8 853.5 998.6 854.4C999.4 855.2 999.3 853.3 1001.0 858.0C1002.7 862.7 1006.4 874.7 1009.0 882.4C1011.6 890.1 1014.5 897.8 1016.8 904.2C1019.0 910.6 1021.3 917.1 1022.5 921.0C1023.7 924.9 1023.7 926.2 1024.2 927.6C1024.7 929.0 1025.0 929.6 1025.6 929.6C1026.2 929.6 1026.7 929.0 1027.6 927.6C1028.5 926.2 1028.6 925.8 1030.8 921.0C1033.0 916.2 1037.6 905.6 1040.8 899.0C1044.0 892.4 1045.9 885.6 1050.1 881.4C1054.3 877.1 1061.4 875.8 1066.0 873.5C1070.6 871.2 1073.0 867.3 1077.9 867.6C1082.9 867.9 1091.1 872.4 1095.7 875.5C1100.3 878.6 1101.3 884.8 1105.6 886.4C1109.9 888.0 1117.9 885.5 1121.5 885.4C1125.1 885.3 1124.7 884.4 1127.0 886.0C1129.3 887.6 1132.7 893.2 1135.4 895.3C1138.1 897.4 1139.1 899.1 1143.1 898.6C1147.1 898.1 1153.5 893.6 1159.2 892.3C1165.0 891.0 1172.3 891.7 1177.6 890.7C1182.8 889.7 1186.9 888.5 1190.7 886.3C1194.5 884.1 1197.0 879.3 1200.5 877.3C1204.0 875.2 1208.5 873.9 1212.0 874.0C1215.5 874.1 1216.6 878.7 1221.8 878.1C1227.0 877.5 1238.3 871.5 1243.2 870.2C1248.1 868.9 1249.0 870.8 1251.4 870.2C1253.9 869.7 1255.5 866.5 1257.9 866.9C1260.4 867.2 1262.5 871.3 1266.1 872.3C1269.6 873.3 1274.5 873.5 1279.2 872.8C1283.9 872.1 1288.0 870.7 1294.0 868.2C1300.0 865.8 1309.8 859.7 1315.3 858.1C1320.8 856.5 1323.0 859.3 1326.8 858.4C1330.6 857.5 1334.8 853.7 1338.3 852.7C1341.8 851.7 1345.1 852.7 1348.1 852.3C1351.1 851.9 1353.3 850.9 1356.3 850.5C1359.3 850.1 1361.7 850.9 1366.1 850.2C1370.5 849.5 1377.6 847.9 1382.5 846.4C1387.4 844.9 1391.3 842.9 1395.7 841.5C1400.1 840.1 1403.9 839.0 1408.8 837.9C1413.7 836.8 1419.7 835.5 1425.2 834.6C1430.7 833.7 1436.1 833.7 1441.6 832.2C1447.1 830.7 1452.5 827.4 1458.0 825.6C1463.5 823.8 1468.9 823.1 1474.4 821.5C1479.9 819.9 1486.2 817.8 1490.8 815.8C1495.4 813.8 1499.0 810.0 1502.3 809.2C1505.6 808.4 1507.8 811.1 1510.5 810.8C1513.2 810.5 1517.3 808.1 1518.7 807.6" stroke="#f00" stroke-width="3.6" fill="none" stroke-linejoin="round" stroke-linecap="round"/>
<path d="M878.6 909.8C880.8 908.5 887.0 903.4 891.5 902.3C896.0 901.1 900.8 903.6 905.4 902.9C910.0 902.2 914.6 899.4 919.2 898.3C923.8 897.2 929.1 896.8 933.1 896.3C937.1 895.8 939.7 896.1 943.0 895.3C946.3 894.5 949.6 892.4 952.9 891.7C956.2 891.1 960.2 892.1 962.9 891.4C965.5 890.7 966.5 887.1 968.8 887.4C971.1 887.7 974.7 892.8 976.7 893.3C978.7 893.8 978.7 894.5 980.7 890.4C982.7 886.3 986.5 874.9 988.6 868.6C990.8 862.3 992.3 855.9 993.6 852.6C994.9 849.3 995.4 849.1 996.2 848.9C997.0 848.7 997.7 849.9 998.4 851.2C999.1 852.5 998.8 851.5 1000.5 856.7C1002.2 861.9 1005.9 874.5 1008.5 882.4C1011.1 890.3 1014.1 897.9 1016.4 904.2C1018.7 910.5 1021.0 916.6 1022.3 920.1C1023.6 923.6 1023.5 924.1 1024.0 925.2C1024.5 926.3 1025.0 926.8 1025.6 926.8C1026.2 926.8 1026.6 926.1 1027.4 925.0C1028.2 923.9 1028.2 924.6 1030.3 920.1C1032.4 915.6 1036.9 905.1 1040.2 898.3C1043.5 891.5 1046.8 883.8 1050.1 879.5C1053.4 875.2 1056.7 874.9 1060.0 872.5C1063.3 870.1 1066.9 866.5 1069.9 865.0C1072.9 863.5 1075.2 863.0 1077.9 863.6C1080.6 864.2 1082.8 867.1 1085.8 868.6C1088.8 870.1 1092.4 870.0 1095.7 872.5C1099.0 875.0 1102.9 881.6 1105.6 883.4C1108.2 885.2 1108.9 883.7 1111.6 883.4C1114.2 883.1 1119.0 882.0 1121.5 881.8C1124.0 881.6 1124.1 880.5 1126.4 882.4C1128.7 884.3 1133.1 891.2 1135.4 893.3C1137.7 895.4 1137.9 894.7 1140.0 895.0C1142.1 895.3 1145.0 896.1 1148.0 895.3C1151.0 894.5 1153.5 891.8 1157.9 890.4C1162.3 889.0 1170.2 887.1 1174.3 886.6C1178.4 886.1 1179.0 888.5 1182.5 887.6C1186.0 886.7 1190.7 883.4 1195.6 881.4C1200.5 879.4 1206.5 877.1 1212.0 875.6C1217.5 874.1 1222.9 873.0 1228.4 872.3C1233.9 871.6 1239.3 872.0 1244.8 871.5C1250.3 871.0 1255.7 869.9 1261.2 869.5C1266.7 869.1 1272.1 869.9 1277.6 869.1C1283.1 868.4 1288.5 866.6 1294.0 865.0C1299.5 863.4 1306.0 860.1 1310.4 859.7C1314.8 859.3 1316.1 862.7 1320.2 862.5C1324.3 862.3 1329.0 860.3 1335.0 858.7C1341.0 857.1 1351.9 853.4 1356.3 852.7C1360.7 852.0 1358.5 854.6 1361.2 854.3C1363.9 854.0 1368.3 852.0 1372.7 851.0C1377.1 850.0 1383.1 849.8 1387.5 848.6C1391.9 847.4 1395.4 845.0 1398.9 843.6C1402.5 842.2 1404.2 841.5 1408.8 840.4C1413.4 839.3 1421.6 838.9 1426.8 837.1C1432.0 835.3 1435.8 831.1 1439.9 829.7C1444.0 828.3 1447.0 830.1 1451.4 828.9C1455.8 827.7 1461.6 824.1 1466.2 822.3C1470.8 820.5 1475.5 819.8 1479.3 818.2C1483.1 816.6 1485.5 813.8 1489.1 812.5C1492.6 811.2 1497.3 811.0 1500.6 810.5C1503.9 810.0 1505.8 810.4 1508.8 809.2C1511.8 808.0 1517.0 804.5 1518.7 803.5" stroke="#0f0" stroke-width="3.9" fill="none" stroke-linejoin="round" stroke-linecap="round"/>
<rect x="1412.8" y="729.0" width="109.6" height="283.8" fill="none" stroke="#385d8a" stroke-width="5.4" stroke-linejoin="round"/>
<g transform="translate(1557.0,0)">
<path d="M170.5 726.2V1070.9" stroke="#000" stroke-width="3" fill="none"/>
<path d="M93 898.6H741.5" stroke="#000" stroke-width="2.3" fill="none"/>
<path d="M161.8 727.5H170.5M163.2 763.2H170.5M163.2 797.0H170.5M163.2 830.8H170.5M163.2 866.0H170.5M163.2 933.3H170.5M163.2 967.0H170.5M163.2 1000.8H170.5M163.2 1036.0H170.5M161.8 1069.6H170.5" stroke="#000" stroke-width="2.6" fill="none"/>
<path d="M93.5 892.8V904M131.8 892.8V904M208.6 892.8V904M246.9 892.8V904M285.3 892.8V904M323.7 892.8V904M362.0 892.8V904M400.4 892.8V904M438.8 892.8V904M477.2 892.8V904M515.5 892.8V904M553.9 892.8V904M592.3 892.8V904M630.6 892.8V904M669.0 892.8V904M707.4 892.8V904" stroke="#000" stroke-width="1.7" fill="none"/>
<text class="s" transform="translate(78.6,744.6) scale(0.730,1)" font-size="43.5">-12.5</text>
<text class="s" transform="translate(128.3,912.5) scale(0.730,1)" font-size="42">0</text>
<text class="s" transform="translate(83.7,953.6) scale(0.730,1)" font-size="43.5">-200</text>
<text class="s" transform="translate(349.0,953.6) scale(0.730,1)" font-size="43.5">500</text>
<text class="s" transform="translate(539.2,953.8) scale(0.730,1)" font-size="43.5">1000</text>
<text class="s" transform="translate(731.0,953.8) scale(0.730,1)" font-size="43.5">1500</text>
<text class="s" transform="translate(753.0,907.6) scale(0.730,1)" font-size="35.5">ms</text>
<text class="s" transform="translate(59.5,1076.0) scale(0.700,1)" font-size="37">μv</text>
<text class="s" transform="translate(88.6,1084.0) scale(0.740,1)" font-size="43">12.5</text>
<text class="s" transform="translate(444.3,1092.9) scale(0.700,1)" font-size="37.5">CZ</text>
</g>
<path d="M1655.6 899.5C1656.9 899.8 1657.9 901.3 1663.5 901.3C1669.1 901.3 1680.4 899.7 1689.3 899.3C1698.2 898.9 1711.1 898.6 1717.1 898.9C1723.0 899.2 1721.7 901.1 1725.0 901.0C1728.3 900.9 1733.9 898.3 1736.9 898.5C1739.9 898.7 1740.9 902.0 1742.9 902.0C1744.9 902.0 1746.7 898.8 1748.8 898.5C1750.9 898.2 1753.7 901.9 1755.7 900.5C1757.7 899.1 1758.8 898.0 1761.0 890.4C1763.2 882.8 1767.0 862.4 1768.9 854.7C1770.8 847.0 1771.3 846.6 1772.3 844.4C1773.2 842.1 1773.8 841.2 1774.6 841.2C1775.4 841.2 1776.2 842.1 1777.2 844.4C1778.2 846.6 1779.0 847.0 1780.9 854.7C1782.9 862.4 1786.3 879.4 1788.9 890.4C1791.5 901.4 1794.1 912.4 1796.4 921.0C1798.8 929.6 1801.2 937.5 1803.0 942.0C1804.8 946.5 1805.8 948.4 1807.4 948.0C1809.0 947.6 1810.6 944.9 1812.8 939.9C1815.0 934.9 1818.0 925.0 1820.6 918.1C1823.2 911.2 1825.6 903.9 1828.6 898.3C1831.6 892.7 1835.5 888.4 1838.5 884.4C1841.5 880.4 1844.2 876.7 1846.5 874.5C1848.8 872.3 1849.5 870.9 1852.5 871.3C1855.5 871.7 1860.0 875.4 1864.6 876.8C1869.2 878.1 1875.2 878.7 1880.0 879.4C1884.8 880.1 1888.8 880.5 1893.2 881.2C1897.6 881.9 1902.7 883.6 1906.4 883.8C1910.1 884.0 1912.3 882.3 1915.2 882.3C1918.1 882.3 1920.3 882.8 1924.0 883.8C1927.7 884.8 1933.2 887.0 1937.2 888.2C1941.2 889.4 1944.9 890.8 1948.2 891.1C1951.5 891.4 1953.7 890.7 1957.0 890.0C1960.3 889.3 1962.5 887.7 1968.0 887.1C1973.5 886.5 1984.5 887.0 1990.0 886.3C1995.5 885.6 1997.3 883.4 2001.0 882.7C2004.7 882.0 2008.3 882.3 2012.0 881.9C2015.7 881.5 2019.7 880.7 2023.0 880.1C2026.3 879.5 2028.9 878.1 2031.8 878.3C2034.7 878.5 2036.9 880.6 2040.6 881.2C2044.3 881.8 2049.8 882.5 2053.8 881.7C2057.8 880.9 2060.8 877.3 2064.8 876.4C2068.8 875.5 2074.3 876.3 2078.0 876.4C2081.7 876.5 2082.4 877.5 2086.8 876.8C2091.2 876.1 2099.3 873.1 2104.4 872.4C2109.5 871.7 2113.2 872.9 2117.6 872.4C2122.0 871.9 2126.8 870.3 2130.8 869.1C2134.8 867.9 2138.1 865.8 2141.8 865.4C2145.5 865.0 2148.0 867.4 2152.8 866.5C2157.6 865.6 2165.3 861.4 2170.4 860.3C2175.5 859.1 2178.8 860.5 2183.6 859.6C2188.4 858.7 2193.5 856.1 2199.0 854.8C2204.5 853.4 2211.1 852.2 2216.6 851.5C2222.1 850.8 2226.9 851.7 2232.0 850.8C2237.1 849.9 2241.2 847.9 2247.4 846.0C2253.6 844.1 2262.8 840.9 2269.4 839.4C2276.0 837.9 2282.4 837.6 2287.0 837.2C2291.6 836.8 2295.2 836.9 2296.9 836.8" stroke="#f00" stroke-width="3.6" fill="none" stroke-linejoin="round" stroke-linecap="round"/>
<path d="M1655.6 898.7C1661.2 898.8 1679.0 899.3 1689.3 899.3C1699.5 899.3 1711.1 898.5 1717.1 898.9C1723.0 899.3 1721.7 901.7 1725.0 901.7C1728.3 901.7 1733.9 898.6 1736.9 898.9C1739.9 899.2 1740.9 903.2 1742.9 903.3C1744.9 903.4 1746.7 899.6 1748.8 899.3C1750.9 899.0 1753.7 902.8 1755.7 901.3C1757.7 899.8 1758.6 898.2 1760.7 890.4C1762.8 882.6 1766.7 862.3 1768.6 854.7C1770.5 847.1 1771.2 847.1 1772.2 845.0C1773.2 842.9 1773.8 841.9 1774.6 841.9C1775.4 841.9 1776.0 842.9 1777.0 845.0C1778.0 847.1 1778.6 847.1 1780.5 854.7C1782.4 862.3 1785.8 879.5 1788.5 890.4C1791.2 901.3 1793.9 911.5 1796.4 920.1C1798.9 928.7 1801.5 937.4 1803.3 941.9C1805.1 946.4 1805.9 947.5 1807.4 947.2C1808.9 946.9 1810.2 944.8 1812.3 939.9C1814.4 935.0 1817.6 925.0 1820.2 918.1C1822.8 911.2 1825.1 903.9 1828.1 898.3C1831.1 892.7 1835.0 888.2 1838.0 884.4C1841.0 880.6 1843.3 877.1 1846.0 875.5C1848.7 873.9 1850.8 874.4 1853.9 874.5C1857.0 874.6 1859.5 876.0 1864.6 876.4C1869.7 876.8 1879.3 875.9 1884.4 876.8C1889.5 877.7 1891.6 880.0 1895.4 881.7C1899.2 883.4 1903.5 886.5 1907.5 887.1C1911.5 887.8 1915.8 885.1 1919.6 885.6C1923.4 886.1 1926.6 889.0 1930.6 890.4C1934.6 891.8 1938.3 893.4 1943.8 894.0C1949.3 894.6 1958.1 894.7 1963.6 894.0C1969.1 893.3 1971.7 891.0 1976.8 890.0C1981.9 889.0 1988.5 888.3 1994.4 887.8C2000.3 887.2 2006.1 887.2 2012.0 886.7C2017.9 886.2 2024.5 885.5 2029.6 884.9C2034.7 884.3 2038.8 883.3 2042.8 883.4C2046.8 883.5 2048.7 885.8 2053.8 885.2C2058.9 884.7 2068.8 880.5 2073.6 880.1C2078.4 879.7 2079.1 882.7 2082.4 882.7C2085.7 882.7 2089.7 881.5 2093.4 880.1C2097.1 878.8 2100.7 875.0 2104.4 874.6C2108.1 874.2 2111.0 877.7 2115.4 877.5C2119.8 877.3 2126.4 874.8 2130.8 873.5C2135.2 872.2 2138.9 870.3 2141.8 869.8C2144.7 869.3 2145.1 870.7 2148.4 870.6C2151.7 870.5 2157.6 870.1 2161.6 869.1C2165.6 868.1 2168.9 865.7 2172.6 864.7C2176.3 863.7 2179.2 864.3 2183.6 863.2C2188.0 862.1 2193.1 859.1 2199.0 858.1C2204.9 857.1 2212.9 858.0 2218.8 857.4C2224.7 856.8 2229.4 856.0 2234.2 854.8C2239.0 853.6 2242.3 851.9 2247.4 850.4C2252.5 848.9 2259.1 847.5 2265.0 846.0C2270.9 844.5 2277.3 842.9 2282.6 841.6C2287.9 840.3 2294.5 838.8 2296.9 838.3" stroke="#0f0" stroke-width="3.9" fill="none" stroke-linejoin="round" stroke-linecap="round"/>
<rect x="2191.2" y="739.5" width="109.6" height="273.3" fill="none" stroke="#385d8a" stroke-width="5.4" stroke-linejoin="round"/>
<g class="s" font-size="59.3"><text x="377.6" y="1214.3">Open</text><text x="1165.2" y="1214.3">Closed</text><text x="1934.6" y="1214.3">Control</text></g>
<path d="M2205.3 1192.9H2295.5" stroke="#0f0" stroke-width="3"/><path d="M2205.3 1246.6H2295.5" stroke="#f00" stroke-width="3"/>
<g class="s" font-size="44.6"><text x="2306.2" y="1203.2" fill="#0f0">repeat</text><text x="2305.6" y="1256.5" fill="#f00">switch</text></g>
</svg></body></html>
